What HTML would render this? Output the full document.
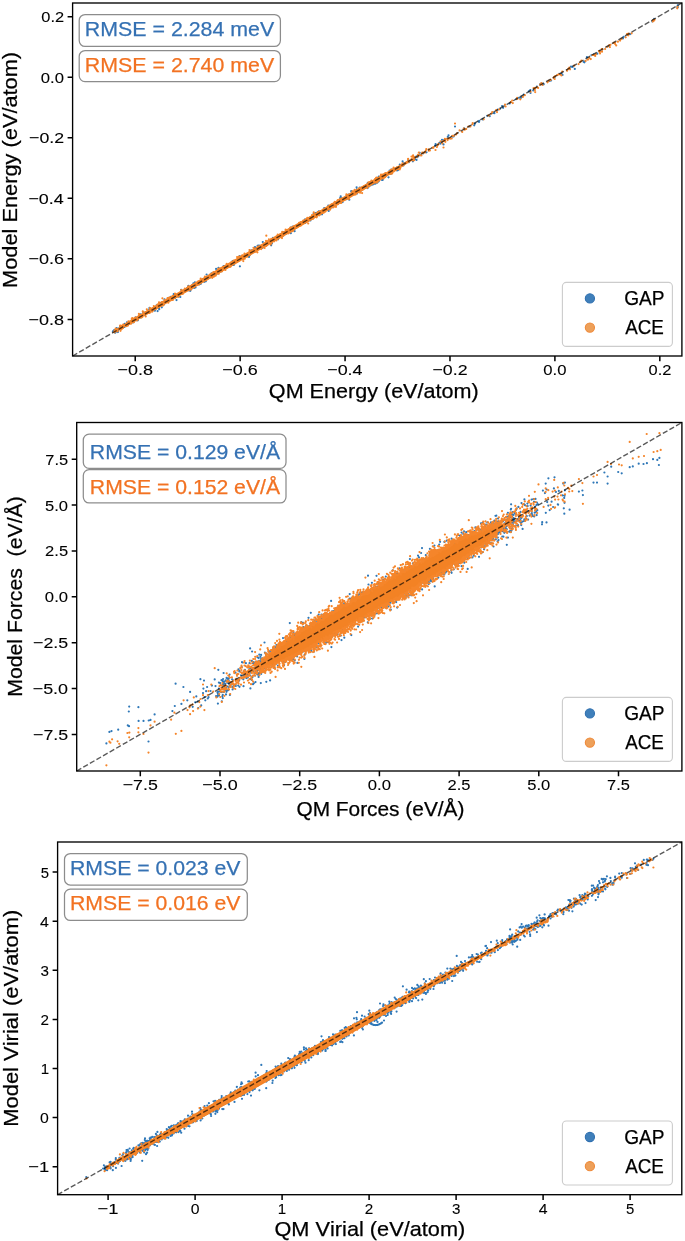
<!DOCTYPE html>
<html><head><meta charset="utf-8"><style>
html,body{margin:0;padding:0;background:#fff;width:685px;height:1241px;overflow:hidden}
svg{display:block;filter:blur(0.3px)}
text{font-family:"Liberation Sans",sans-serif;font-kerning:none;white-space:pre}
</style></head><body>
<svg width="685" height="1241" viewBox="0 0 685 1241">
<path d="M151.6 310.4h0.01M426.5 152.3h0.01M275.6 238.8h0.01M404.4 163.1h0.01M316.3 216.8h0.01M271.1 245.3h0.01M233.8 264.9h0.01M374.6 183.7h0.01M356.9 189.8h0.01M175.5 294.3h0.01M160.8 303.2h0.01M373.4 182.3h0.01M157.8 306.3h0.01M327.2 208.3h0.01M202.5 279.6h0.01M215.8 273.5h0.01M271.9 243.4h0.01M376.9 178.2h0.01M112.9 331.4h0.01M158.3 305.8h0.01M318.8 213.7h0.01M224.7 267.1h0.01M195.5 287.5h0.01M447.8 136.9h0.01M412.9 161.3h0.01M316.3 213.8h0.01M388.5 177.3h0.01M331.1 207.5h0.01M314.6 214.8h0.01M435.2 145.7h0.01M343.3 199.3h0.01M190.3 290.8h0.01M290.7 229.6h0.01M342.4 200.5h0.01M367.7 183.2h0.01M370.7 184.6h0.01M371.3 182.2h0.01M140.8 314.4h0.01M221.2 271.3h0.01M242.8 255.9h0.01M367.7 187.1h0.01M232.8 265.0h0.01M188.4 285.9h0.01M119.0 328.4h0.01M194.9 282.4h0.01M334.4 203.9h0.01M118.2 330.1h0.01M160.1 303.0h0.01M200.8 283.8h0.01M264.8 244.3h0.01M216.9 270.8h0.01M364.5 187.1h0.01M171.9 299.2h0.01M273.0 237.9h0.01M334.4 204.5h0.01M378.5 177.5h0.01M361.0 190.6h0.01M151.5 310.1h0.01M338.2 201.6h0.01M305.2 222.9h0.01M232.6 261.0h0.01M120.0 327.3h0.01M161.8 307.3h0.01M325.9 209.0h0.01M137.8 320.3h0.01M203.7 281.1h0.01M186.8 289.2h0.01M324.0 209.3h0.01M215.9 273.3h0.01M402.5 164.8h0.01M219.0 270.1h0.01M204.9 277.3h0.01M317.7 212.2h0.01M203.4 279.7h0.01M311.4 218.9h0.01M267.2 244.8h0.01M367.6 183.8h0.01M321.5 213.0h0.01M228.1 265.1h0.01M251.9 250.4h0.01M247.9 254.9h0.01M360.8 190.3h0.01M153.5 310.2h0.01M234.4 263.6h0.01M264.4 245.7h0.01M237.0 261.9h0.01M282.9 233.9h0.01M255.0 247.1h0.01M231.0 263.1h0.01M308.0 219.9h0.01M206.7 277.3h0.01M286.2 233.5h0.01M320.3 213.8h0.01M150.2 310.7h0.01M205.8 281.3h0.01M381.8 175.7h0.01M386.5 175.0h0.01M395.5 168.6h0.01M124.6 323.9h0.01M348.3 197.4h0.01M378.1 177.7h0.01M370.4 185.4h0.01M316.7 213.1h0.01M304.3 221.3h0.01M318.0 212.8h0.01M276.1 237.4h0.01M338.8 202.2h0.01M256.3 248.0h0.01M408.8 162.2h0.01M140.2 314.7h0.01M371.5 181.6h0.01M328.8 209.6h0.01M163.9 304.5h0.01M347.5 198.2h0.01M197.8 283.3h0.01M294.6 231.2h0.01M216.1 268.9h0.01M174.6 295.8h0.01M163.1 301.8h0.01M133.5 321.8h0.01M133.7 320.3h0.01M133.0 322.4h0.01M138.0 318.8h0.01M350.4 194.9h0.01M260.2 245.9h0.01M149.2 309.5h0.01M262.9 247.5h0.01M266.4 244.5h0.01M254.4 251.5h0.01M171.0 297.7h0.01M238.1 260.5h0.01M362.3 188.7h0.01M418.3 156.0h0.01M258.0 245.8h0.01M378.2 179.4h0.01M179.8 293.3h0.01M319.2 213.5h0.01M250.1 253.0h0.01M337.2 204.2h0.01M215.1 273.1h0.01M267.1 244.3h0.01M218.5 267.8h0.01M359.4 188.4h0.01M372.2 184.6h0.01M292.7 226.6h0.01M391.6 170.8h0.01M321.2 213.1h0.01M348.5 194.5h0.01M368.5 186.4h0.01M192.0 285.3h0.01M448.5 135.3h0.01M224.7 266.0h0.01M255.1 248.0h0.01M163.7 302.5h0.01M346.9 196.9h0.01M210.1 277.3h0.01M309.9 217.5h0.01M176.5 300.1h0.01M212.3 274.3h0.01M221.9 269.0h0.01M180.7 293.9h0.01M399.7 166.6h0.01M332.2 204.8h0.01M383.2 176.3h0.01M177.3 296.3h0.01M159.0 306.4h0.01M212.4 276.5h0.01M399.8 164.7h0.01M299.2 224.3h0.01M416.5 159.9h0.01M272.1 239.5h0.01M371.2 184.2h0.01M357.1 191.9h0.01M375.6 183.0h0.01M378.8 176.7h0.01M281.4 234.6h0.01M256.6 249.0h0.01M124.9 325.5h0.01M402.6 161.3h0.01M262.0 246.0h0.01M356.6 187.3h0.01M235.2 261.6h0.01M114.7 330.8h0.01M173.7 298.2h0.01M328.3 205.6h0.01M159.2 309.2h0.01M409.0 160.7h0.01M193.4 283.4h0.01M286.9 230.7h0.01M352.0 193.6h0.01M176.1 296.4h0.01M282.9 235.0h0.01M262.8 242.0h0.01M239.6 258.3h0.01M277.9 238.2h0.01M344.7 198.9h0.01M175.0 297.2h0.01M255.0 248.3h0.01M140.6 317.5h0.01M259.0 245.6h0.01M340.3 202.6h0.01M397.0 170.4h0.01M249.0 256.9h0.01M197.8 284.2h0.01M278.1 238.4h0.01M218.2 270.2h0.01M146.9 312.2h0.01M262.3 247.8h0.01M341.0 201.0h0.01M368.1 185.7h0.01M391.5 169.6h0.01M417.4 157.2h0.01M184.0 291.8h0.01M144.8 312.7h0.01M238.4 259.8h0.01M342.6 202.1h0.01M179.4 293.9h0.01M354.9 192.3h0.01M315.4 213.0h0.01M170.2 298.2h0.01M292.6 228.1h0.01M442.0 139.8h0.01M377.8 178.2h0.01M159.0 308.2h0.01M346.5 195.9h0.01M334.7 204.3h0.01M182.3 293.4h0.01M197.9 283.4h0.01M385.5 173.9h0.01M216.1 272.5h0.01M194.3 285.4h0.01M318.8 211.4h0.01M151.4 309.9h0.01M423.2 153.3h0.01M416.2 156.6h0.01M267.6 244.0h0.01M283.8 232.3h0.01M295.9 226.6h0.01M420.4 155.1h0.01M365.1 187.7h0.01M350.3 194.7h0.01M378.7 181.3h0.01M239.9 266.3h0.01M322.0 214.3h0.01M236.2 260.2h0.01M192.0 286.1h0.01M297.7 225.7h0.01M382.0 180.0h0.01M341.2 201.5h0.01M194.4 284.7h0.01M178.4 296.6h0.01M333.1 205.2h0.01M314.0 215.3h0.01M358.6 191.1h0.01M155.3 308.2h0.01M357.5 192.2h0.01M236.2 260.3h0.01M191.5 287.8h0.01M211.0 276.7h0.01M394.7 169.6h0.01M384.2 175.2h0.01M135.8 317.3h0.01M204.2 281.8h0.01M316.6 214.3h0.01M123.1 327.0h0.01M124.8 325.7h0.01M126.8 324.7h0.01M444.1 140.2h0.01M207.7 277.5h0.01M204.4 281.0h0.01M341.1 202.1h0.01M203.8 281.1h0.01M323.5 211.4h0.01M218.0 273.6h0.01M197.8 283.0h0.01M223.6 266.1h0.01M162.0 305.2h0.01M133.9 319.5h0.01M359.9 187.7h0.01M360.1 190.6h0.01M244.4 256.9h0.01M310.0 219.9h0.01M359.0 190.1h0.01M223.8 268.3h0.01M316.0 215.7h0.01M328.7 211.0h0.01M135.6 318.3h0.01M152.2 309.4h0.01M327.1 209.6h0.01M313.6 213.8h0.01M164.5 299.3h0.01M349.3 199.7h0.01M340.0 198.1h0.01M414.8 158.9h0.01M209.7 275.0h0.01M403.1 163.6h0.01M239.7 256.1h0.01M143.3 312.7h0.01M268.1 244.1h0.01M290.8 227.6h0.01M278.7 237.5h0.01M134.4 320.8h0.01M290.8 233.2h0.01M328.1 208.0h0.01M154.9 310.7h0.01M282.7 235.8h0.01M439.4 142.9h0.01M168.4 297.8h0.01M372.9 184.5h0.01M389.6 170.6h0.01M315.1 214.7h0.01M360.5 190.4h0.01M191.1 289.2h0.01M303.0 221.8h0.01M375.7 180.1h0.01M400.3 166.3h0.01M346.5 199.2h0.01M180.3 297.0h0.01M341.5 198.0h0.01M295.8 228.1h0.01M340.7 196.3h0.01M227.3 266.3h0.01M419.7 152.8h0.01M375.6 183.5h0.01M133.1 320.7h0.01M156.6 305.4h0.01M389.9 171.8h0.01M373.1 181.4h0.01M154.5 308.3h0.01M389.9 172.2h0.01M189.2 289.5h0.01M367.6 188.1h0.01M369.9 184.7h0.01M120.2 326.4h0.01M116.7 328.1h0.01M206.1 277.3h0.01M377.4 180.9h0.01M337.6 201.8h0.01M222.9 267.6h0.01M356.4 191.6h0.01M202.2 279.5h0.01M211.5 273.4h0.01M167.6 301.6h0.01M386.2 174.3h0.01M342.2 199.6h0.01M244.4 256.7h0.01M187.4 287.9h0.01M389.1 172.6h0.01M226.0 266.3h0.01M173.2 298.4h0.01M234.1 262.5h0.01M318.6 212.4h0.01M332.9 205.2h0.01M145.1 315.2h0.01M382.8 179.8h0.01M305.1 219.7h0.01M131.1 322.3h0.01M350.7 194.4h0.01M388.1 173.9h0.01M351.2 191.2h0.01M115.2 332.7h0.01M249.6 255.3h0.01M281.9 234.6h0.01M366.6 185.6h0.01M255.7 250.2h0.01M136.7 320.0h0.01M377.3 182.6h0.01M382.9 178.5h0.01M250.8 250.6h0.01M127.7 323.8h0.01M351.8 192.5h0.01M324.2 208.0h0.01M390.8 173.9h0.01M116.0 331.7h0.01M237.9 259.1h0.01M194.2 288.0h0.01M143.7 313.0h0.01M435.6 144.1h0.01M209.1 277.1h0.01M123.6 326.0h0.01M150.9 309.9h0.01M440.4 143.6h0.01M284.2 233.1h0.01M407.8 161.4h0.01M311.3 217.7h0.01M149.5 307.9h0.01M304.8 219.7h0.01M299.1 225.6h0.01M114.2 330.1h0.01M257.6 245.9h0.01M319.6 214.8h0.01M328.3 207.2h0.01M313.4 216.8h0.01M443.5 144.4h0.01M328.3 209.1h0.01M375.5 183.6h0.01M229.8 266.4h0.01M122.8 327.6h0.01M165.0 302.2h0.01M195.8 283.6h0.01M400.3 165.1h0.01M403.4 165.5h0.01M259.8 247.7h0.01M184.4 290.4h0.01M195.1 286.5h0.01M323.5 209.6h0.01M357.0 193.6h0.01M359.2 190.8h0.01M217.8 271.2h0.01M315.3 215.7h0.01M442.1 142.1h0.01M157.6 311.1h0.01M170.8 296.8h0.01M297.0 226.1h0.01M189.0 290.4h0.01M167.3 301.6h0.01M416.7 156.5h0.01M117.9 332.1h0.01M237.9 258.6h0.01M126.9 322.4h0.01M182.1 292.8h0.01M173.7 294.2h0.01M206.6 274.5h0.01M148.2 312.8h0.01M246.6 256.0h0.01M310.4 220.4h0.01M210.4 275.8h0.01M376.7 180.3h0.01M356.6 189.6h0.01M199.2 284.5h0.01M124.5 326.9h0.01M332.4 207.2h0.01M181.2 289.8h0.01M207.7 278.8h0.01M278.1 239.3h0.01M398.0 170.1h0.01M197.0 284.1h0.01M246.5 255.2h0.01M291.9 228.7h0.01M308.2 220.9h0.01M583.6 61.8h0.01M586.9 57.2h0.01M597.3 53.7h0.01M567.1 70.2h0.01M622.9 38.4h0.01M519.0 97.8h0.01M533.2 90.4h0.01M503.1 107.8h0.01M452.5 136.6h0.01M530.5 93.0h0.01M540.4 83.9h0.01M653.0 20.2h0.01M457.3 133.0h0.01M479.2 120.9h0.01M500.1 108.7h0.01M523.8 94.7h0.01M487.2 115.8h0.01M516.3 99.1h0.01M502.1 106.0h0.01M469.5 126.4h0.01M608.7 46.1h0.01M561.4 73.4h0.01M629.1 33.9h0.01M559.1 73.8h0.01M562.5 74.9h0.01M652.9 21.0h0.01M596.9 53.7h0.01M534.1 88.9h0.01M599.5 50.9h0.01M677.7 5.4h0.01M584.7 61.7h0.01M571.0 66.6h0.01M522.4 96.5h0.01M652.5 21.2h0.01M492.9 113.1h0.01M530.3 90.0h0.01M536.9 86.7h0.01M489.7 116.2h0.01M497.7 109.7h0.01M677.8 7.3h0.01M549.5 81.0h0.01M465.7 129.0h0.01M652.3 21.5h0.01M574.8 68.9h0.01M602.2 49.5h0.01M543.7 84.3h0.01M623.7 36.8h0.01M584.4 62.3h0.01M593.8 54.3h0.01M475.1 123.6h0.01M541.9 83.7h0.01M677.4 7.1h0.01M572.6 66.9h0.01M509.7 103.4h0.01M654.1 18.8h0.01M474.2 125.3h0.01M464.1 128.4h0.01M521.9 96.7h0.01M478.6 121.4h0.01M551.1 80.5h0.01M528.8 91.3h0.01M453.6 136.4h0.01M494.4 113.2h0.01M479.0 121.9h0.01M482.8 119.4h0.01M630.1 34.1h0.01M554.6 77.5h0.01M591.5 55.2h0.01M520.8 97.9h0.01M482.8 119.2h0.01M455.0 126.5h0.01" stroke="#2f78b8" stroke-width="2.20" stroke-linecap="round" fill="none"/>
<path d="M112.1 332.4 L117.4 328.8 L122.6 325.3 L127.9 321.9 L133.1 318.8 L138.4 315.7 L143.6 312.5 L148.9 309.4 L154.1 306.2 L159.4 303.1 L164.6 300.0 L169.8 297.0 L175.1 293.9 L180.3 290.9 L185.6 287.9 L190.8 284.8 L196.1 281.8 L201.3 278.8 L206.6 275.7 L211.8 272.7 L217.1 269.6 L222.3 266.6 L227.5 263.6 L232.8 260.5 L238.0 257.5 L243.3 254.4 L248.5 251.4 L253.8 248.4 L259.0 245.4 L264.3 242.4 L269.5 239.4 L274.8 236.3 L280.0 233.3 L285.3 230.3 L290.5 227.3 L295.7 224.3 L301.0 221.2 L306.2 218.2 L311.5 215.2 L316.7 212.2 L322.0 209.2 L327.2 206.1 L332.5 203.1 L337.7 200.1 L343.0 197.1 L348.2 194.1 L353.5 191.1 L358.7 188.0 L363.9 185.0 L369.2 182.0 L374.4 179.0 L379.7 176.0 L384.9 172.9 L390.2 170.1 L395.4 167.4 L400.7 164.6 L405.9 161.9 L411.2 159.3 L416.4 156.6 L421.7 154.0 L421.7 154.3 L416.4 157.7 L411.2 161.2 L405.9 164.6 L400.7 167.9 L395.4 171.2 L390.2 174.5 L384.9 177.7 L379.7 180.8 L374.4 183.8 L369.2 186.8 L363.9 189.9 L358.7 192.9 L353.5 195.9 L348.2 199.0 L343.0 202.0 L337.7 205.0 L332.5 208.1 L327.2 211.1 L322.0 214.1 L316.7 217.2 L311.5 220.2 L306.2 223.2 L301.0 226.3 L295.7 229.3 L290.5 232.3 L285.3 235.4 L280.0 238.4 L274.8 241.4 L269.5 244.5 L264.3 247.5 L259.0 250.5 L253.8 253.6 L248.5 256.6 L243.3 259.6 L238.0 262.7 L232.8 265.7 L227.5 268.7 L222.3 271.7 L217.1 274.7 L211.8 277.7 L206.6 280.7 L201.3 283.8 L196.1 286.8 L190.8 289.8 L185.6 292.8 L180.3 295.8 L175.1 298.8 L169.8 301.8 L164.6 304.8 L159.4 307.8 L154.1 310.7 L148.9 313.6 L143.6 316.5 L138.4 319.5 L133.1 322.4 L127.9 325.3 L122.6 328.0 L117.4 330.5 L112.1 333.0Z" fill="#f38224"/>
<path d="M220.1 270.3h0.01M346.4 194.4h0.01M354.2 192.8h0.01M289.3 229.3h0.01M363.3 188.2h0.01M154.5 307.4h0.01M380.3 179.0h0.01M353.8 192.4h0.01M227.7 265.5h0.01M340.3 202.6h0.01M256.2 249.3h0.01M336.8 201.7h0.01M205.7 278.8h0.01M299.1 222.8h0.01M132.6 318.6h0.01M391.9 171.2h0.01M315.9 214.2h0.01M444.9 138.8h0.01M300.9 225.4h0.01M307.3 221.4h0.01M370.4 184.7h0.01M395.9 168.0h0.01M218.8 273.7h0.01M197.1 282.8h0.01M326.6 209.9h0.01M250.5 251.2h0.01M450.4 138.2h0.01M273.0 239.9h0.01M144.1 312.8h0.01M126.5 325.7h0.01M326.4 208.6h0.01M212.2 277.8h0.01M191.9 288.2h0.01M305.6 221.2h0.01M183.0 292.0h0.01M219.2 269.9h0.01M221.2 269.0h0.01M335.7 204.6h0.01M317.9 212.2h0.01M375.8 182.4h0.01M194.2 287.2h0.01M397.4 168.5h0.01M267.3 244.2h0.01M215.8 275.6h0.01M381.0 178.1h0.01M163.3 305.3h0.01M386.0 174.1h0.01M119.9 327.7h0.01M159.0 302.3h0.01M266.0 240.9h0.01M189.8 289.0h0.01M319.9 212.5h0.01M282.0 234.3h0.01M184.7 291.1h0.01M242.0 258.3h0.01M117.6 331.2h0.01M445.4 141.8h0.01M128.2 324.0h0.01M203.9 279.5h0.01M371.6 182.2h0.01M259.4 247.4h0.01M268.9 239.4h0.01M297.1 226.8h0.01M311.9 217.4h0.01M205.1 277.0h0.01M147.0 313.4h0.01M288.6 229.3h0.01M422.2 153.2h0.01M285.6 229.5h0.01M385.0 174.2h0.01M274.9 238.9h0.01M170.1 299.7h0.01M208.8 277.2h0.01M362.6 187.0h0.01M186.9 290.0h0.01M413.0 156.9h0.01M447.0 138.8h0.01M249.5 250.1h0.01M308.9 219.4h0.01M377.8 178.3h0.01M357.3 191.2h0.01M118.6 329.2h0.01M255.5 251.6h0.01M308.4 218.4h0.01M153.2 309.1h0.01M164.5 300.2h0.01M333.3 207.3h0.01M323.7 212.7h0.01M393.6 171.5h0.01M128.4 324.3h0.01M127.2 324.9h0.01M394.5 169.0h0.01M313.8 217.4h0.01M141.2 317.6h0.01M301.4 224.5h0.01M296.6 225.9h0.01M308.6 219.1h0.01M348.6 199.1h0.01M320.8 212.6h0.01M270.5 242.3h0.01M220.4 268.6h0.01M170.1 300.5h0.01M393.6 171.0h0.01M240.8 257.6h0.01M191.3 289.3h0.01M297.4 225.3h0.01M305.3 222.2h0.01M428.9 150.7h0.01M443.5 147.5h0.01M285.9 232.9h0.01M222.0 271.3h0.01M139.5 315.4h0.01M405.2 163.1h0.01M424.7 152.0h0.01M187.2 290.2h0.01M154.7 307.9h0.01M350.0 196.2h0.01M242.5 259.1h0.01M320.3 211.1h0.01M355.6 194.4h0.01M128.7 323.3h0.01M384.8 175.0h0.01M271.3 243.2h0.01M207.1 278.6h0.01M252.1 250.7h0.01M175.9 295.4h0.01M207.2 276.6h0.01M284.6 232.5h0.01M168.0 299.7h0.01M240.5 257.8h0.01M194.2 286.8h0.01M335.5 202.0h0.01M181.5 293.1h0.01M321.2 212.1h0.01M116.5 330.3h0.01M237.1 257.1h0.01M248.7 253.2h0.01M229.3 264.9h0.01M261.2 249.1h0.01M353.3 191.8h0.01M262.6 244.9h0.01M346.0 197.8h0.01M322.4 212.8h0.01M167.3 299.1h0.01M197.3 283.3h0.01M158.6 304.1h0.01M335.1 206.6h0.01M140.8 315.9h0.01M356.6 191.8h0.01M270.6 244.6h0.01M236.8 260.7h0.01M274.0 238.2h0.01M266.3 242.6h0.01M289.7 232.6h0.01M268.6 242.9h0.01M199.6 280.9h0.01M368.0 184.7h0.01M288.5 230.9h0.01M395.6 170.1h0.01M150.9 311.6h0.01M381.3 177.6h0.01M291.6 230.1h0.01M306.1 219.7h0.01M380.5 176.1h0.01M131.2 322.4h0.01M406.1 163.0h0.01M274.5 238.7h0.01M197.3 283.6h0.01M117.0 330.2h0.01M196.0 282.8h0.01M308.8 218.4h0.01M307.7 219.0h0.01M120.1 325.7h0.01M204.1 279.7h0.01M355.3 191.2h0.01M300.0 225.6h0.01M289.4 231.4h0.01M390.3 171.2h0.01M206.3 280.1h0.01M136.2 318.8h0.01M290.3 231.7h0.01M294.4 229.3h0.01M268.8 241.6h0.01M384.6 174.8h0.01M432.6 147.7h0.01M132.1 322.4h0.01M297.0 227.4h0.01M131.8 318.6h0.01M276.4 240.4h0.01M256.1 249.1h0.01M114.6 332.3h0.01M168.5 298.1h0.01M231.8 262.3h0.01M203.6 280.2h0.01M150.0 308.0h0.01M429.9 150.5h0.01M380.5 176.7h0.01M123.5 326.0h0.01M437.9 145.0h0.01M213.7 273.5h0.01M189.9 289.3h0.01M339.0 200.3h0.01M378.9 180.1h0.01M393.2 168.9h0.01M379.1 179.2h0.01M148.4 311.4h0.01M398.9 168.9h0.01M325.6 209.6h0.01M330.2 209.6h0.01M156.2 308.6h0.01M276.3 238.9h0.01M296.6 226.0h0.01M221.4 268.2h0.01M161.1 304.2h0.01M210.0 276.6h0.01M193.6 286.5h0.01M115.7 331.1h0.01M190.4 286.5h0.01M185.3 291.4h0.01M433.5 147.0h0.01M293.9 226.3h0.01M306.1 220.2h0.01M196.4 284.7h0.01M282.0 235.5h0.01M148.5 312.1h0.01M329.9 206.5h0.01M379.8 178.6h0.01M330.2 206.4h0.01M435.5 150.0h0.01M277.9 238.5h0.01M329.7 206.4h0.01M244.5 253.6h0.01M186.5 290.1h0.01M335.1 205.7h0.01M261.0 247.2h0.01M375.7 182.0h0.01M281.3 235.1h0.01M265.2 245.7h0.01M123.7 325.5h0.01M175.6 294.8h0.01M317.9 212.3h0.01M238.0 258.9h0.01M376.1 177.8h0.01M288.2 232.2h0.01M189.8 288.6h0.01M183.8 291.8h0.01M195.8 283.5h0.01M174.5 297.7h0.01M265.0 243.8h0.01M136.6 320.4h0.01M276.5 238.6h0.01M234.5 260.8h0.01M362.2 187.7h0.01M365.5 186.8h0.01M197.5 285.0h0.01M166.9 299.8h0.01M232.9 262.2h0.01M257.4 252.3h0.01M315.0 216.7h0.01M388.2 174.0h0.01M367.1 187.8h0.01M226.6 267.6h0.01M268.6 241.4h0.01M277.7 234.5h0.01M363.4 189.0h0.01M402.4 163.4h0.01M344.5 199.2h0.01M188.0 286.5h0.01M143.7 313.8h0.01M391.5 171.3h0.01M211.7 273.5h0.01M326.5 208.7h0.01M216.7 271.4h0.01M195.4 284.6h0.01M267.4 241.3h0.01M180.5 293.5h0.01M182.5 293.8h0.01M127.9 325.6h0.01M316.6 217.3h0.01M374.8 181.5h0.01M114.7 330.7h0.01M194.6 285.2h0.01M360.3 190.4h0.01M284.8 233.9h0.01M149.6 312.9h0.01M182.5 291.8h0.01M172.3 297.8h0.01M123.2 324.6h0.01M149.8 310.5h0.01M148.8 312.9h0.01M257.1 249.5h0.01M332.6 207.1h0.01M261.0 247.5h0.01M299.8 225.7h0.01M364.3 186.1h0.01M335.5 204.7h0.01M142.3 316.6h0.01M121.4 329.2h0.01M377.8 181.4h0.01M187.4 288.7h0.01M358.7 188.6h0.01M406.6 162.0h0.01M362.5 189.6h0.01M239.7 258.6h0.01M120.9 325.6h0.01M393.8 168.2h0.01M147.4 311.2h0.01M120.2 329.1h0.01M341.3 199.7h0.01M205.6 277.8h0.01M122.2 328.4h0.01M117.2 331.3h0.01M230.7 266.5h0.01M143.5 313.8h0.01M213.4 272.1h0.01M308.8 220.0h0.01M383.6 178.4h0.01M196.1 283.5h0.01M275.7 237.3h0.01M313.7 212.4h0.01M338.1 204.1h0.01M254.3 250.9h0.01M337.8 200.1h0.01M244.2 256.3h0.01M323.7 209.4h0.01M292.9 228.8h0.01M244.8 258.7h0.01M360.8 188.3h0.01M201.7 281.0h0.01M215.2 272.7h0.01M250.1 252.1h0.01M130.9 322.6h0.01M281.6 237.1h0.01M120.3 328.7h0.01M358.8 189.4h0.01M211.7 275.6h0.01M364.8 186.7h0.01M156.1 308.6h0.01M315.1 213.9h0.01M280.6 236.2h0.01M274.1 241.3h0.01M370.5 183.4h0.01M137.9 319.1h0.01M373.9 181.6h0.01M192.7 286.2h0.01M185.6 289.5h0.01M308.2 223.5h0.01M230.3 265.9h0.01M152.3 311.6h0.01M271.0 242.1h0.01M362.8 187.1h0.01M115.8 329.7h0.01M226.9 265.9h0.01M164.7 300.5h0.01M315.5 214.7h0.01M335.9 204.1h0.01M153.8 306.1h0.01M353.2 192.4h0.01M202.1 280.7h0.01M325.3 209.0h0.01M150.2 310.9h0.01M423.1 152.8h0.01M297.9 226.8h0.01M253.5 247.8h0.01M433.4 147.8h0.01M333.8 203.0h0.01M377.0 178.9h0.01M296.8 225.5h0.01M162.4 298.3h0.01M330.6 204.9h0.01M233.7 260.7h0.01M313.0 218.8h0.01M310.0 218.9h0.01M365.3 186.6h0.01M280.6 236.2h0.01M179.0 295.8h0.01M229.1 265.7h0.01M290.4 227.6h0.01M275.7 238.2h0.01M168.0 300.4h0.01M347.8 195.4h0.01M279.1 235.7h0.01M277.3 238.3h0.01M172.8 298.8h0.01M252.4 250.3h0.01M189.4 288.8h0.01M208.7 277.3h0.01M210.3 274.3h0.01M286.0 232.4h0.01M219.4 269.2h0.01M445.1 139.7h0.01M327.6 209.3h0.01M391.2 169.7h0.01M286.9 230.1h0.01M421.4 155.5h0.01M417.9 154.9h0.01M123.0 325.7h0.01M312.9 216.3h0.01M202.2 280.1h0.01M119.5 328.9h0.01M372.8 181.8h0.01M180.6 292.3h0.01M140.2 316.2h0.01M323.0 212.5h0.01M333.0 206.8h0.01M333.2 205.5h0.01M287.4 232.7h0.01M398.2 168.2h0.01M425.8 150.5h0.01M385.6 176.5h0.01M243.3 261.1h0.01M197.1 283.9h0.01M426.3 149.1h0.01M293.0 230.3h0.01M199.3 284.1h0.01M332.8 204.9h0.01M352.4 191.4h0.01M119.6 328.0h0.01M142.1 315.2h0.01M255.4 249.6h0.01M400.5 165.7h0.01M169.2 301.2h0.01M443.1 141.1h0.01M397.1 168.9h0.01M353.0 191.4h0.01M159.9 303.8h0.01M341.6 200.2h0.01M278.1 235.5h0.01M396.3 169.0h0.01M193.6 285.7h0.01M444.7 141.1h0.01M117.3 329.0h0.01M176.0 296.5h0.01M369.7 182.0h0.01M259.3 247.9h0.01M172.8 299.9h0.01M313.5 216.8h0.01M413.1 160.4h0.01M279.6 235.9h0.01M231.5 263.6h0.01M135.9 319.0h0.01M131.0 323.7h0.01M372.5 181.9h0.01M360.0 188.2h0.01M241.7 257.6h0.01M183.1 293.6h0.01M150.8 311.4h0.01M385.3 173.1h0.01M267.4 244.0h0.01M397.8 167.9h0.01M291.3 229.2h0.01M329.0 207.2h0.01M200.1 282.9h0.01M392.2 171.3h0.01M130.7 322.4h0.01M145.7 316.4h0.01M285.0 233.1h0.01M422.2 152.6h0.01M218.0 270.3h0.01M311.7 216.9h0.01M376.5 177.6h0.01M356.9 192.4h0.01M319.3 215.3h0.01M195.8 283.8h0.01M413.1 155.4h0.01M163.7 301.9h0.01M363.0 187.6h0.01M306.7 218.8h0.01M278.4 237.6h0.01M133.9 322.2h0.01M354.9 194.6h0.01M154.8 309.0h0.01M257.4 248.2h0.01M379.4 180.2h0.01M214.8 275.7h0.01M244.1 256.0h0.01M382.2 177.5h0.01M197.2 283.3h0.01M241.7 257.1h0.01M222.0 268.0h0.01M229.1 264.2h0.01M419.8 155.2h0.01M395.6 169.9h0.01M438.6 143.9h0.01M400.1 168.5h0.01M285.9 231.3h0.01M115.6 328.5h0.01M135.3 317.7h0.01M279.8 237.0h0.01M288.7 229.6h0.01M161.6 302.0h0.01M227.9 267.2h0.01M215.4 274.8h0.01M313.1 216.9h0.01M232.5 264.1h0.01M222.7 267.2h0.01M348.9 198.8h0.01M301.5 222.7h0.01M144.8 314.2h0.01M267.3 243.3h0.01M175.9 294.9h0.01M190.3 286.8h0.01M288.1 233.4h0.01M358.9 189.1h0.01M215.4 273.1h0.01M261.2 247.9h0.01M134.6 318.0h0.01M332.9 205.3h0.01M162.1 303.5h0.01M227.1 267.5h0.01M411.5 156.6h0.01M261.3 246.5h0.01M198.9 281.9h0.01M247.1 256.7h0.01M238.6 259.7h0.01M287.8 230.8h0.01M308.6 220.2h0.01M263.7 245.7h0.01M325.4 211.6h0.01M369.1 186.3h0.01M242.7 258.0h0.01M122.0 326.0h0.01M332.4 206.7h0.01M243.9 257.2h0.01M336.5 204.2h0.01M356.9 192.5h0.01M401.5 165.9h0.01M227.0 266.2h0.01M323.0 210.5h0.01M241.6 256.7h0.01M242.0 256.9h0.01M250.2 254.5h0.01M394.3 169.6h0.01M181.8 292.9h0.01M159.1 304.6h0.01M332.0 204.1h0.01M351.0 193.9h0.01M399.7 168.8h0.01M287.5 231.4h0.01M356.4 190.6h0.01M317.0 215.2h0.01M154.9 307.3h0.01M161.6 303.7h0.01M240.4 256.9h0.01M219.6 268.6h0.01M161.3 305.0h0.01M425.0 152.6h0.01M166.5 301.0h0.01M134.8 320.4h0.01M252.4 251.1h0.01M380.8 178.0h0.01M156.9 305.9h0.01M170.1 298.4h0.01M257.7 247.3h0.01M383.8 177.8h0.01M241.2 258.9h0.01M172.5 296.2h0.01M276.7 237.4h0.01M205.1 279.3h0.01M145.7 312.2h0.01M292.9 229.8h0.01M236.4 259.8h0.01M384.6 174.9h0.01M221.5 268.7h0.01M157.5 304.6h0.01M204.9 276.7h0.01M249.0 252.5h0.01M194.4 286.1h0.01M233.1 263.4h0.01M313.5 216.9h0.01M330.9 205.8h0.01M281.9 234.5h0.01M250.9 253.1h0.01M145.2 313.7h0.01M303.3 220.5h0.01M180.0 293.2h0.01M323.7 209.9h0.01M385.1 177.2h0.01M357.0 191.2h0.01M191.8 285.9h0.01M245.0 257.2h0.01M241.3 258.6h0.01M331.1 207.1h0.01M232.1 262.3h0.01M213.8 276.7h0.01M280.4 235.6h0.01M275.3 238.8h0.01M352.9 193.4h0.01M377.5 180.0h0.01M356.0 191.4h0.01M394.0 169.3h0.01M275.9 239.3h0.01M418.8 152.6h0.01M314.0 214.5h0.01M360.4 189.1h0.01M316.6 215.0h0.01M277.0 239.2h0.01M159.5 306.1h0.01M320.4 213.3h0.01M372.2 181.9h0.01M243.0 259.2h0.01M360.6 190.8h0.01M282.0 238.1h0.01M188.7 286.6h0.01M392.2 173.5h0.01M325.3 209.9h0.01M391.9 170.3h0.01M287.3 232.2h0.01M324.8 210.3h0.01M191.8 286.7h0.01M263.9 243.5h0.01M222.0 268.6h0.01M307.3 217.9h0.01M382.4 177.6h0.01M271.3 238.8h0.01M114.4 331.3h0.01M203.7 279.8h0.01M267.3 244.9h0.01M338.5 201.0h0.01M280.4 234.3h0.01M169.9 297.4h0.01M286.0 232.6h0.01M362.1 193.1h0.01M262.3 245.1h0.01M353.5 192.7h0.01M266.3 246.0h0.01M129.9 322.7h0.01M390.5 174.0h0.01M124.7 325.2h0.01M192.1 287.0h0.01M298.4 225.6h0.01M345.7 197.1h0.01M175.2 297.2h0.01M360.9 187.9h0.01M312.6 217.4h0.01M138.9 313.9h0.01M239.0 256.6h0.01M366.4 186.1h0.01M240.8 258.7h0.01M360.1 192.7h0.01M172.8 296.8h0.01M361.4 189.6h0.01M312.0 215.2h0.01M120.5 330.8h0.01M142.8 311.4h0.01M322.5 213.0h0.01M351.6 193.9h0.01M218.3 268.8h0.01M411.6 159.1h0.01M389.2 173.3h0.01M353.8 192.8h0.01M396.9 167.4h0.01M162.7 303.4h0.01M257.3 248.9h0.01M142.0 317.2h0.01M306.0 221.4h0.01M229.8 264.7h0.01M137.4 317.0h0.01M157.0 306.9h0.01M372.6 182.4h0.01M362.1 188.4h0.01M384.3 173.9h0.01M368.2 185.0h0.01M265.4 243.1h0.01M260.3 248.1h0.01M279.9 236.0h0.01M330.8 205.8h0.01M408.1 159.8h0.01M239.3 260.4h0.01M225.7 265.6h0.01M337.9 201.8h0.01M126.0 324.2h0.01M294.4 227.4h0.01M139.0 316.6h0.01M267.2 242.3h0.01M175.0 293.6h0.01M390.7 172.9h0.01M151.9 309.3h0.01M414.4 157.6h0.01M408.1 158.8h0.01M187.1 288.6h0.01M306.1 221.5h0.01M132.5 322.0h0.01M289.9 228.8h0.01M260.7 246.5h0.01M128.0 324.9h0.01M381.0 174.6h0.01M250.0 251.9h0.01M129.5 323.8h0.01M267.8 244.3h0.01M223.9 266.9h0.01M143.6 313.2h0.01M335.1 205.8h0.01M365.8 185.9h0.01M312.2 217.5h0.01M242.2 255.4h0.01M348.4 197.7h0.01M120.0 328.7h0.01M175.0 298.2h0.01M278.5 235.0h0.01M408.2 161.4h0.01M300.6 222.1h0.01M250.3 250.9h0.01M440.6 141.4h0.01M392.7 170.9h0.01M128.4 321.4h0.01M322.3 210.9h0.01M130.5 321.0h0.01M266.9 244.3h0.01M213.2 274.3h0.01M247.5 254.5h0.01M324.0 211.1h0.01M114.7 330.6h0.01M293.5 229.1h0.01M361.7 187.5h0.01M366.1 185.0h0.01M258.1 246.7h0.01M298.0 225.5h0.01M157.1 306.7h0.01M171.5 300.1h0.01M391.2 170.8h0.01M123.0 327.9h0.01M371.4 180.7h0.01M188.9 287.9h0.01M264.6 247.9h0.01M180.0 292.8h0.01M138.7 315.9h0.01M359.3 188.8h0.01M292.7 231.2h0.01M362.6 189.7h0.01M291.8 227.6h0.01M317.9 213.3h0.01M146.8 309.3h0.01M397.6 167.4h0.01M137.7 319.6h0.01M354.6 189.9h0.01M400.1 168.3h0.01M140.8 316.8h0.01M142.3 316.9h0.01M131.3 320.6h0.01M206.8 277.9h0.01M283.3 235.7h0.01M373.9 182.3h0.01M161.1 305.0h0.01M126.8 323.4h0.01M448.3 138.5h0.01M152.2 308.3h0.01M324.1 211.0h0.01M377.4 179.7h0.01M229.5 264.4h0.01M393.6 167.5h0.01M412.8 156.6h0.01M160.4 304.9h0.01M442.3 143.4h0.01M300.6 223.1h0.01M199.8 281.7h0.01M123.9 325.5h0.01M414.1 160.2h0.01M290.6 231.7h0.01M275.2 238.8h0.01M191.8 287.0h0.01M232.4 262.5h0.01M209.0 277.0h0.01M135.0 319.1h0.01M295.2 227.0h0.01M266.3 235.7h0.01M359.7 191.0h0.01M342.4 199.4h0.01M226.7 263.8h0.01M331.5 206.1h0.01M290.0 228.3h0.01M373.5 182.4h0.01M178.3 296.6h0.01M413.6 159.6h0.01M249.9 252.8h0.01M153.1 308.6h0.01M276.7 236.4h0.01M225.4 270.0h0.01M436.9 147.0h0.01M341.2 198.6h0.01M141.2 314.8h0.01M396.2 169.2h0.01M336.9 203.7h0.01M437.7 145.3h0.01M182.8 292.9h0.01M184.8 288.7h0.01M362.7 187.0h0.01M127.7 325.6h0.01M148.2 312.6h0.01M428.8 149.4h0.01M180.3 293.1h0.01M259.8 247.7h0.01M264.1 245.5h0.01M226.5 265.4h0.01M339.6 199.4h0.01M170.1 299.9h0.01M328.4 206.6h0.01M230.0 266.8h0.01M368.4 182.3h0.01M158.5 305.9h0.01M177.8 296.0h0.01M206.3 280.1h0.01M171.6 298.0h0.01M200.7 278.5h0.01M222.8 268.9h0.01M334.7 201.9h0.01M310.9 217.6h0.01M336.4 204.7h0.01M269.8 242.9h0.01M195.8 284.5h0.01M154.8 308.8h0.01M447.6 140.1h0.01M291.0 228.8h0.01M173.0 297.2h0.01M199.2 283.3h0.01M275.7 239.0h0.01M244.7 257.5h0.01M124.8 325.3h0.01M201.3 281.9h0.01M276.6 239.6h0.01M344.7 199.9h0.01M168.3 302.7h0.01M179.9 294.1h0.01M232.0 262.4h0.01M195.7 283.8h0.01M349.2 194.5h0.01M270.7 241.6h0.01M176.2 295.5h0.01M253.2 249.9h0.01M261.2 247.6h0.01M189.4 290.2h0.01M282.2 231.9h0.01M333.1 206.7h0.01M174.9 296.8h0.01M198.0 281.5h0.01M156.8 306.0h0.01M203.9 279.4h0.01M336.0 206.8h0.01M324.7 210.2h0.01M376.9 182.4h0.01M223.8 267.5h0.01M140.9 317.3h0.01M161.7 305.6h0.01M259.2 246.9h0.01M144.6 313.2h0.01M312.0 217.7h0.01M414.1 156.9h0.01M248.6 253.9h0.01M230.9 262.7h0.01M416.9 156.8h0.01M351.9 195.0h0.01M123.5 326.5h0.01M362.5 188.6h0.01M401.5 165.0h0.01M148.2 311.0h0.01M169.2 298.9h0.01M357.2 190.3h0.01M391.3 171.0h0.01M406.0 162.6h0.01M269.6 242.7h0.01M282.7 233.7h0.01M167.6 298.0h0.01M320.5 213.9h0.01M242.8 255.7h0.01M181.3 290.0h0.01M182.6 290.9h0.01M291.9 229.1h0.01M122.6 326.1h0.01M343.8 198.9h0.01M341.1 203.0h0.01M268.6 240.8h0.01M399.7 169.4h0.01M311.2 218.1h0.01M219.9 270.0h0.01M132.3 318.0h0.01M202.0 280.5h0.01M225.7 268.2h0.01M147.4 310.6h0.01M382.5 174.7h0.01M234.8 260.5h0.01M344.9 199.4h0.01M283.4 234.1h0.01M220.3 271.5h0.01M258.6 247.4h0.01M257.3 250.1h0.01M220.7 268.3h0.01M146.0 313.2h0.01M350.8 196.3h0.01M256.5 249.2h0.01M257.0 250.0h0.01M241.0 256.5h0.01M232.2 262.0h0.01M373.7 180.9h0.01M375.0 179.1h0.01M323.3 210.2h0.01M126.1 326.2h0.01M222.6 268.6h0.01M307.8 219.7h0.01M271.1 243.6h0.01M344.3 199.0h0.01M569.4 67.6h0.01M653.6 20.1h0.01M450.2 138.7h0.01M652.9 20.3h0.01M561.4 75.4h0.01M609.9 47.1h0.01M512.2 100.5h0.01M560.1 74.3h0.01M616.2 45.4h0.01M614.7 42.8h0.01M605.1 49.0h0.01M567.1 70.7h0.01M558.6 74.4h0.01M580.5 62.1h0.01M524.8 95.2h0.01M587.4 59.6h0.01M453.7 135.9h0.01M620.1 40.6h0.01M580.7 61.6h0.01M452.4 135.8h0.01M578.6 64.1h0.01M554.0 77.2h0.01M562.2 71.5h0.01M568.3 68.8h0.01M472.7 123.1h0.01M457.0 133.3h0.01M488.1 115.5h0.01M464.7 129.7h0.01M488.9 115.6h0.01M581.4 60.6h0.01M510.8 102.2h0.01M554.7 79.0h0.01M496.2 110.0h0.01M607.2 46.8h0.01M462.2 131.9h0.01M550.6 79.9h0.01M548.7 80.8h0.01M592.5 55.0h0.01M610.5 44.8h0.01M585.6 61.0h0.01M470.4 126.5h0.01M589.3 57.8h0.01M537.2 87.4h0.01M497.0 112.1h0.01M588.2 59.5h0.01M595.9 54.1h0.01M653.9 19.9h0.01M601.7 49.1h0.01M600.0 53.5h0.01M590.8 59.1h0.01M574.2 65.7h0.01M553.7 78.1h0.01M541.4 83.1h0.01M535.2 92.1h0.01M520.3 99.3h0.01M505.6 106.5h0.01M483.7 119.3h0.01M468.4 126.5h0.01M472.5 124.2h0.01M615.1 42.6h0.01M615.0 43.8h0.01M538.1 87.9h0.01M617.9 41.7h0.01M599.7 52.2h0.01M535.1 87.8h0.01M621.4 38.9h0.01M510.7 102.2h0.01M557.3 75.1h0.01M625.7 37.3h0.01M492.2 112.2h0.01M602.0 51.7h0.01M517.3 99.0h0.01M517.1 97.9h0.01M602.2 49.4h0.01M505.0 104.5h0.01M522.8 96.9h0.01M530.5 91.7h0.01M499.2 109.3h0.01M677.2 8.3h0.01M627.9 35.0h0.01M451.7 138.5h0.01M533.6 88.1h0.01M555.2 76.1h0.01M542.5 85.0h0.01M652.8 21.5h0.01M456.0 134.6h0.01M570.0 69.3h0.01M677.6 6.8h0.01M512.8 103.1h0.01M466.2 128.9h0.01M534.9 90.1h0.01M654.5 19.7h0.01M491.3 113.6h0.01M540.1 84.5h0.01M541.9 83.5h0.01M628.3 35.3h0.01M598.9 51.0h0.01M547.5 82.3h0.01M534.5 88.4h0.01M627.0 34.1h0.01M631.6 33.3h0.01M609.1 45.3h0.01M595.2 55.9h0.01M600.0 51.7h0.01M628.4 33.7h0.01M594.1 55.0h0.01M463.7 128.6h0.01M459.6 130.4h0.01M613.6 42.9h0.01M654.2 20.5h0.01M455.0 123.5h0.01" stroke="#f5852a" stroke-width="2.20" stroke-linecap="round" fill="none"/>
<line x1="72.60" y1="356.00" x2="681.90" y2="3.00" stroke="#000" stroke-opacity="0.65" stroke-width="1.39" stroke-dasharray="5.3 2.3"/>
<rect x="72.60" y="3.00" width="609.30" height="353.00" fill="none" stroke="#000" stroke-width="1.35"/>
<path d="M135.22 356.00v5.2M72.60 319.38h-5.0M240.14 356.00v5.2M72.60 258.86h-5.0M345.06 356.00v5.2M72.60 198.34h-5.0M449.98 356.00v5.2M72.60 137.82h-5.0M554.90 356.00v5.2M72.60 77.30h-5.0M659.82 356.00v5.2M72.60 16.78h-5.0" stroke="#000" stroke-width="1.5" fill="none"/>
<text x="117.43" y="374.80" font-size="15.30" textLength="35.48" lengthAdjust="spacingAndGlyphs" fill="#000" stroke="#000" stroke-width="0.1">−0.8</text>
<text x="28.60" y="324.83" font-size="15.30" textLength="35.48" lengthAdjust="spacingAndGlyphs" fill="#000" stroke="#000" stroke-width="0.1">−0.8</text>
<text x="222.31" y="374.80" font-size="15.30" textLength="35.57" lengthAdjust="spacingAndGlyphs" fill="#000" stroke="#000" stroke-width="0.1">−0.6</text>
<text x="28.52" y="264.31" font-size="15.30" textLength="35.57" lengthAdjust="spacingAndGlyphs" fill="#000" stroke="#000" stroke-width="0.1">−0.6</text>
<text x="327.18" y="374.80" font-size="15.30" textLength="35.40" lengthAdjust="spacingAndGlyphs" fill="#000" stroke="#000" stroke-width="0.1">−0.4</text>
<text x="28.42" y="203.79" font-size="15.30" textLength="35.40" lengthAdjust="spacingAndGlyphs" fill="#000" stroke="#000" stroke-width="0.1">−0.4</text>
<text x="432.44" y="374.80" font-size="15.30" textLength="35.11" lengthAdjust="spacingAndGlyphs" fill="#000" stroke="#000" stroke-width="0.1">−0.2</text>
<text x="29.09" y="143.27" font-size="15.30" textLength="35.11" lengthAdjust="spacingAndGlyphs" fill="#000" stroke="#000" stroke-width="0.1">−0.2</text>
<text x="543.31" y="374.80" font-size="15.30" textLength="23.17" lengthAdjust="spacingAndGlyphs" fill="#000" stroke="#000" stroke-width="0.1">0.0</text>
<text x="40.78" y="82.75" font-size="15.30" textLength="23.17" lengthAdjust="spacingAndGlyphs" fill="#000" stroke="#000" stroke-width="0.1">0.0</text>
<text x="648.50" y="374.80" font-size="15.30" textLength="22.83" lengthAdjust="spacingAndGlyphs" fill="#000" stroke="#000" stroke-width="0.1">0.2</text>
<text x="41.29" y="22.23" font-size="15.30" textLength="22.83" lengthAdjust="spacingAndGlyphs" fill="#000" stroke="#000" stroke-width="0.1">0.2</text>
<text x="268.88" y="397.80" font-size="21.00" textLength="209.77" lengthAdjust="spacingAndGlyphs" fill="#000" stroke="#000" stroke-width="0.25">QM Energy (eV/atom)</text>
<text transform="translate(17.10,287.89) rotate(-90)" x="0" y="0" font-size="21.00" textLength="236.03" lengthAdjust="spacingAndGlyphs" fill="#000" stroke="#000" stroke-width="0.25">Model Energy (eV/atom)</text>
<rect x="79.20" y="14.60" width="201.20" height="31.80" rx="5.8" fill="#fff" fill-opacity="0.5" stroke="#000" stroke-opacity="0.45" stroke-width="1.25"/>
<text x="84.85" y="35.60" font-size="21.00" textLength="189.35" lengthAdjust="spacingAndGlyphs" fill="#3571b3" stroke="#3571b3" stroke-width="0.25">RMSE = 2.284 meV</text>
<rect x="79.20" y="50.50" width="201.20" height="31.10" rx="5.8" fill="#fff" fill-opacity="0.5" stroke="#000" stroke-opacity="0.45" stroke-width="1.25"/>
<text x="84.85" y="71.50" font-size="21.00" textLength="189.35" lengthAdjust="spacingAndGlyphs" fill="#f27222" stroke="#f27222" stroke-width="0.25">RMSE = 2.740 meV</text>
<rect x="562.4" y="282.40" width="110" height="64" rx="3.9" fill="#fff" fill-opacity="0.8" stroke="#ccc" stroke-width="1.11"/>
<circle cx="589.9" cy="298.40" r="4.6" fill="#3f7fba" stroke="#3070b0" stroke-width="1.1"/>
<circle cx="589.9" cy="327.60" r="4.6" fill="#eda05a" stroke="#ef8a3a" stroke-width="1.1"/>
<text x="624.24" y="305.30" font-size="21.00" textLength="40.30" lengthAdjust="spacingAndGlyphs" fill="#000" stroke="#000" stroke-width="0.25">GAP</text>
<text x="625.16" y="334.10" font-size="21.00" textLength="38.60" lengthAdjust="spacingAndGlyphs" fill="#000" stroke="#000" stroke-width="0.25">ACE</text>
<path d="M315.1 621.1h0.01M324.3 616.5h0.01M462.4 558.8h0.01M269.2 666.3h0.01M407.2 590.7h0.01M439.5 549.8h0.01M293.4 659.2h0.01M260.6 670.3h0.01M318.7 643.5h0.01M422.1 589.4h0.01M396.6 598.8h0.01M285.4 661.2h0.01M360.9 617.5h0.01M424.2 561.0h0.01M358.7 594.8h0.01M414.3 588.4h0.01M504.8 528.9h0.01M429.8 580.7h0.01M349.7 594.1h0.01M295.0 635.5h0.01M337.5 630.3h0.01M383.0 605.4h0.01M484.8 542.5h0.01M454.6 543.1h0.01M331.4 647.1h0.01M493.1 536.8h0.01M372.1 611.4h0.01M430.0 552.2h0.01M274.8 668.1h0.01M273.7 647.0h0.01M301.6 652.1h0.01M483.7 545.7h0.01M426.7 578.8h0.01M472.4 557.4h0.01M419.0 557.4h0.01M352.3 620.5h0.01M382.9 583.9h0.01M404.8 593.4h0.01M477.0 548.4h0.01M363.0 597.2h0.01M485.6 526.1h0.01M409.6 590.9h0.01M467.7 568.9h0.01M378.7 582.9h0.01M429.9 556.9h0.01M336.3 630.7h0.01M385.0 579.1h0.01M303.5 651.5h0.01M269.9 665.1h0.01M255.9 672.9h0.01M432.9 578.9h0.01M367.1 592.1h0.01M486.0 540.9h0.01M468.7 555.5h0.01M349.6 598.5h0.01M507.5 525.2h0.01M404.9 592.6h0.01M451.6 544.4h0.01M354.9 600.8h0.01M298.1 634.5h0.01M290.2 655.6h0.01M293.7 634.0h0.01M408.4 572.0h0.01M276.4 645.1h0.01M250.3 668.2h0.01M468.7 554.9h0.01M273.2 665.1h0.01M366.0 594.1h0.01M377.9 608.5h0.01M410.9 589.5h0.01M381.3 585.3h0.01M497.2 521.5h0.01M446.6 568.7h0.01M399.6 568.4h0.01M411.3 569.4h0.01M378.9 607.0h0.01M504.3 532.8h0.01M307.3 630.6h0.01M430.4 554.5h0.01M395.3 601.3h0.01M255.6 663.2h0.01M324.7 617.8h0.01M494.1 534.9h0.01M455.3 563.4h0.01M250.1 648.4h0.01M325.4 615.7h0.01M247.6 673.4h0.01M467.9 555.4h0.01M275.9 663.9h0.01M260.5 668.5h0.01M509.1 531.6h0.01M365.3 592.0h0.01M331.1 600.9h0.01M257.4 662.7h0.01M351.1 598.6h0.01M344.2 605.2h0.01M385.7 607.5h0.01M247.7 675.0h0.01M285.5 640.8h0.01M301.4 622.1h0.01M362.9 617.6h0.01M326.6 618.4h0.01M409.2 568.5h0.01M321.5 614.6h0.01M487.9 540.5h0.01M502.8 520.6h0.01M262.4 669.2h0.01M301.7 632.1h0.01M396.3 598.0h0.01M451.6 572.8h0.01M262.2 658.3h0.01M293.5 632.4h0.01M369.5 593.6h0.01M423.8 559.5h0.01M485.9 524.6h0.01M478.1 529.7h0.01M458.3 561.4h0.01M259.1 673.7h0.01M505.6 520.7h0.01M408.7 568.4h0.01M270.1 680.4h0.01M313.7 643.9h0.01M411.1 568.8h0.01M350.6 601.4h0.01M364.6 593.9h0.01M460.0 535.8h0.01M466.7 537.0h0.01M392.3 600.4h0.01M459.3 562.7h0.01M352.7 596.8h0.01M506.8 544.8h0.01M405.9 594.9h0.01M505.1 527.7h0.01M256.6 670.3h0.01M481.4 547.3h0.01M394.6 598.8h0.01M437.4 550.4h0.01M298.7 653.4h0.01M392.4 598.6h0.01M322.7 618.0h0.01M273.2 649.2h0.01M246.9 675.9h0.01M487.3 522.4h0.01M428.7 584.0h0.01M300.2 630.8h0.01M316.3 646.8h0.01M370.3 615.1h0.01M463.3 534.0h0.01M275.4 650.2h0.01M504.2 519.7h0.01M497.6 524.6h0.01M310.8 612.8h0.01M415.9 563.7h0.01M344.3 637.7h0.01M434.4 545.6h0.01M267.0 664.6h0.01M371.8 592.2h0.01M404.3 574.8h0.01M412.9 563.4h0.01M430.8 579.7h0.01M485.3 529.0h0.01M310.6 649.4h0.01M285.3 657.6h0.01M351.3 635.1h0.01M397.3 596.9h0.01M504.6 523.4h0.01M434.8 555.9h0.01M440.9 568.2h0.01M506.1 528.4h0.01M318.4 622.4h0.01M315.5 619.4h0.01M358.8 596.8h0.01M323.7 616.2h0.01M420.8 562.8h0.01M498.5 540.0h0.01M287.4 640.7h0.01M383.0 580.4h0.01M426.3 558.2h0.01M376.2 587.1h0.01M489.2 526.3h0.01M444.3 574.5h0.01M480.5 530.4h0.01M275.6 650.2h0.01M297.1 656.5h0.01M264.1 671.8h0.01M466.2 532.2h0.01M503.3 528.3h0.01M250.1 675.5h0.01M459.1 563.2h0.01M439.2 575.1h0.01M487.8 543.5h0.01M317.8 621.2h0.01M438.3 577.6h0.01M308.0 648.3h0.01M266.6 658.0h0.01M444.4 541.9h0.01M255.7 670.1h0.01M431.2 576.7h0.01M321.5 621.0h0.01M377.0 613.3h0.01M484.1 549.3h0.01M308.5 617.8h0.01M370.3 590.6h0.01M341.5 640.1h0.01M297.3 634.6h0.01M372.5 618.6h0.01M295.6 634.0h0.01M458.1 541.9h0.01M408.8 595.6h0.01M323.7 614.9h0.01M506.7 529.2h0.01M337.7 631.9h0.01M424.7 581.6h0.01M439.2 544.6h0.01M317.3 621.5h0.01M246.5 672.9h0.01M482.5 552.3h0.01M501.5 520.5h0.01M292.5 659.1h0.01M286.2 642.3h0.01M361.7 592.5h0.01M405.0 566.8h0.01M510.7 522.2h0.01M501.7 527.8h0.01M512.1 526.1h0.01M310.2 647.1h0.01M406.4 596.2h0.01M360.1 618.3h0.01M309.2 626.2h0.01M263.4 659.5h0.01M292.7 640.9h0.01M340.8 635.6h0.01M270.1 651.0h0.01M285.6 642.5h0.01M257.3 674.5h0.01M413.6 566.0h0.01M376.5 575.8h0.01M311.4 650.9h0.01M388.4 602.5h0.01M360.9 619.3h0.01M423.0 582.8h0.01M495.5 515.8h0.01M339.1 629.7h0.01M419.7 566.0h0.01M303.4 628.7h0.01M498.4 525.4h0.01M410.5 566.5h0.01M288.0 657.6h0.01M314.3 626.4h0.01M288.7 638.8h0.01M293.0 637.6h0.01M327.8 637.1h0.01M465.3 556.5h0.01M368.4 591.6h0.01M320.0 643.1h0.01M358.1 626.6h0.01M316.2 620.1h0.01M442.3 548.8h0.01M261.2 673.8h0.01M323.5 639.8h0.01M332.1 611.3h0.01M293.1 637.1h0.01M443.9 570.7h0.01M293.0 654.2h0.01M326.2 642.6h0.01M258.5 661.8h0.01M448.3 566.3h0.01M343.6 609.6h0.01M420.2 585.0h0.01M304.2 649.9h0.01M250.9 671.7h0.01M333.2 611.4h0.01M454.8 564.2h0.01M468.4 535.2h0.01M338.7 611.6h0.01M470.5 531.8h0.01M258.6 676.9h0.01M385.8 576.6h0.01M315.2 620.8h0.01M362.9 594.0h0.01M304.6 654.8h0.01M484.9 531.2h0.01M325.8 638.5h0.01M498.9 522.1h0.01M275.8 664.0h0.01M360.8 594.3h0.01M365.1 617.3h0.01M434.7 586.4h0.01M337.4 607.5h0.01M377.7 586.5h0.01M266.4 658.6h0.01M329.8 614.6h0.01M441.4 572.7h0.01M273.9 650.8h0.01M370.6 618.5h0.01M307.2 646.1h0.01M290.3 639.1h0.01M275.9 647.2h0.01M464.7 558.0h0.01M429.9 548.8h0.01M348.3 604.3h0.01M350.8 624.0h0.01M440.1 573.0h0.01M406.5 571.8h0.01M491.0 543.2h0.01M493.2 538.8h0.01M375.3 613.6h0.01M421.5 563.1h0.01M390.8 609.7h0.01M327.9 614.8h0.01M366.7 613.0h0.01M438.5 573.1h0.01M393.0 577.6h0.01M414.9 588.4h0.01M374.3 609.7h0.01M502.3 536.5h0.01M453.7 563.4h0.01M282.1 643.5h0.01M463.8 560.5h0.01M491.0 522.3h0.01M464.3 562.7h0.01M337.6 634.2h0.01M343.4 628.5h0.01M310.3 649.4h0.01M262.4 668.8h0.01M372.9 589.8h0.01M472.7 534.9h0.01M451.9 564.7h0.01M422.0 548.1h0.01M473.8 555.6h0.01M421.0 563.2h0.01M306.2 625.3h0.01M460.6 540.0h0.01M344.0 608.1h0.01M483.1 528.1h0.01M332.7 614.1h0.01M269.4 651.9h0.01M440.1 541.8h0.01M274.8 650.6h0.01M481.1 529.8h0.01M355.5 598.7h0.01M455.4 561.9h0.01M259.6 662.7h0.01M390.4 602.7h0.01M428.1 581.5h0.01M280.9 646.9h0.01M409.6 567.1h0.01M283.9 665.2h0.01M327.1 639.2h0.01M342.5 608.1h0.01M411.2 595.3h0.01M282.1 647.3h0.01M292.7 657.6h0.01M455.1 564.3h0.01M438.7 553.6h0.01M368.0 575.7h0.01M321.9 618.4h0.01M430.6 559.2h0.01M372.0 615.6h0.01M330.1 634.8h0.01M479.7 545.0h0.01M301.3 632.5h0.01M460.4 559.7h0.01M408.5 594.1h0.01M418.5 562.7h0.01M428.1 580.4h0.01M445.1 568.7h0.01M481.0 523.4h0.01M491.5 524.6h0.01M312.1 623.3h0.01M290.7 637.9h0.01M485.6 543.0h0.01M302.8 631.0h0.01M305.0 630.1h0.01M461.6 566.2h0.01M502.7 531.2h0.01M472.7 531.8h0.01M382.8 579.5h0.01M346.7 607.9h0.01M511.2 522.4h0.01M443.4 552.0h0.01M413.2 588.3h0.01M247.7 674.3h0.01M298.6 635.5h0.01M250.3 671.0h0.01M489.9 528.3h0.01M308.8 628.2h0.01M291.2 655.7h0.01M403.3 593.8h0.01M299.3 653.5h0.01M392.7 570.4h0.01M499.6 524.1h0.01M475.4 527.4h0.01M310.1 647.7h0.01M491.3 527.7h0.01M352.7 601.7h0.01M386.1 607.0h0.01M332.2 633.8h0.01M512.8 521.2h0.01M328.0 642.2h0.01M442.8 573.7h0.01M409.9 559.0h0.01M429.6 555.5h0.01M275.1 651.5h0.01M388.5 606.4h0.01M513.1 522.5h0.01M396.2 602.1h0.01M299.0 633.4h0.01M258.7 673.2h0.01M332.6 636.1h0.01M445.6 572.6h0.01M251.5 671.1h0.01M258.5 670.0h0.01M421.1 553.0h0.01M482.6 545.5h0.01M363.3 592.1h0.01M412.8 594.0h0.01M313.4 625.1h0.01M316.9 643.0h0.01M371.9 582.8h0.01M305.0 648.7h0.01M367.8 622.3h0.01M285.8 644.5h0.01M492.5 537.3h0.01M418.0 555.6h0.01M271.9 665.5h0.01M297.4 662.9h0.01M468.1 555.7h0.01M344.3 606.4h0.01M314.5 642.8h0.01M252.4 677.3h0.01M427.1 560.8h0.01M397.2 607.6h0.01M470.8 535.1h0.01M289.8 623.1h0.01M448.2 545.6h0.01M467.7 558.2h0.01M468.5 536.1h0.01M446.9 549.3h0.01M363.3 594.2h0.01M258.4 662.2h0.01M417.6 584.3h0.01M252.5 668.3h0.01M269.3 655.4h0.01M355.1 622.5h0.01M277.9 665.5h0.01M365.2 617.0h0.01M474.0 551.5h0.01M292.1 654.9h0.01M459.9 561.5h0.01M513.7 520.8h0.01M255.5 671.7h0.01M359.5 593.4h0.01M434.4 553.8h0.01M442.4 571.0h0.01M320.4 621.5h0.01M461.6 532.6h0.01M344.7 629.4h0.01M297.8 635.1h0.01M383.5 580.2h0.01M409.1 568.5h0.01M469.9 557.5h0.01M423.2 559.5h0.01M267.1 666.1h0.01M399.3 596.3h0.01M335.5 608.6h0.01M434.4 552.9h0.01M258.1 661.4h0.01M422.3 559.4h0.01M458.5 562.1h0.01M256.0 669.8h0.01M249.5 663.2h0.01M483.9 547.0h0.01M484.8 542.0h0.01M292.9 655.7h0.01M493.9 521.5h0.01M352.7 624.8h0.01M384.0 606.6h0.01M371.9 590.5h0.01M334.2 611.1h0.01M482.7 522.9h0.01M407.6 594.8h0.01M494.9 526.0h0.01M410.4 590.8h0.01M493.4 522.7h0.01M382.7 607.1h0.01M373.3 590.2h0.01M398.2 574.1h0.01M246.1 672.3h0.01M450.6 565.3h0.01M283.0 638.1h0.01M498.2 532.3h0.01M257.1 671.2h0.01M434.8 551.7h0.01M451.3 570.3h0.01M391.4 600.9h0.01M270.5 663.8h0.01M463.2 539.1h0.01M330.2 614.6h0.01M323.5 640.0h0.01M431.2 554.7h0.01M505.4 520.4h0.01M270.9 665.4h0.01M360.6 621.1h0.01M425.9 581.2h0.01M319.4 642.1h0.01M491.8 523.5h0.01M406.5 594.7h0.01M266.3 656.3h0.01M287.1 658.2h0.01M284.1 661.0h0.01M367.0 614.2h0.01M490.1 543.6h0.01M275.5 663.3h0.01M286.8 641.0h0.01M304.4 658.9h0.01M397.0 573.5h0.01M360.2 620.4h0.01M357.5 619.5h0.01M283.6 661.5h0.01M467.2 536.6h0.01M373.5 609.8h0.01M479.0 556.8h0.01M254.3 667.7h0.01M368.5 584.5h0.01M344.1 603.3h0.01M471.6 535.5h0.01M431.3 581.2h0.01M386.4 605.6h0.01M289.1 640.9h0.01M429.3 583.2h0.01M485.8 544.7h0.01M453.8 569.3h0.01M502.9 521.3h0.01M403.9 593.3h0.01M329.9 637.3h0.01M303.5 627.1h0.01M458.2 534.8h0.01M462.6 560.8h0.01M415.8 563.8h0.01M453.3 542.4h0.01M376.0 587.1h0.01M474.5 531.2h0.01M431.3 581.1h0.01M310.5 627.9h0.01M403.3 593.9h0.01M420.6 582.2h0.01M300.4 652.2h0.01M496.5 534.2h0.01M460.0 539.2h0.01M284.9 644.4h0.01M305.3 631.5h0.01M245.0 673.4h0.01M497.9 534.1h0.01M291.9 655.1h0.01M467.5 538.3h0.01M381.5 607.3h0.01M259.9 672.1h0.01M302.7 631.2h0.01M314.0 651.6h0.01M449.8 546.8h0.01M342.7 629.7h0.01M283.5 659.9h0.01M497.7 522.7h0.01M382.6 607.9h0.01M263.9 667.5h0.01M506.7 526.0h0.01M425.8 582.7h0.01M363.6 620.5h0.01M285.1 662.1h0.01M431.2 576.6h0.01M272.7 665.1h0.01M498.4 523.9h0.01M446.7 540.7h0.01M435.3 552.9h0.01M451.6 538.7h0.01M478.2 528.1h0.01M372.2 612.0h0.01M464.0 531.3h0.01M276.1 648.5h0.01M432.5 554.2h0.01M446.9 571.1h0.01M303.2 622.9h0.01M275.6 649.5h0.01M491.9 540.3h0.01M483.2 542.5h0.01M273.7 662.3h0.01M405.3 570.3h0.01M294.7 660.5h0.01M300.9 633.6h0.01M495.8 539.3h0.01M425.2 585.9h0.01M451.5 572.6h0.01M318.7 614.6h0.01M453.7 544.8h0.01M425.8 555.2h0.01M336.3 633.5h0.01M376.6 587.0h0.01M312.0 623.4h0.01M406.6 596.7h0.01M246.4 678.1h0.01M235.4 684.9h0.01M225.3 683.9h0.01M234.0 685.6h0.01M220.2 683.1h0.01M217.3 696.7h0.01M222.1 688.5h0.01M217.5 692.2h0.01M259.6 660.9h0.01M219.0 695.5h0.01M231.9 684.6h0.01M260.9 661.3h0.01M228.7 687.1h0.01M245.0 672.5h0.01M260.4 673.0h0.01M238.4 669.3h0.01M254.0 662.5h0.01M253.0 684.2h0.01M227.4 682.8h0.01M260.7 668.3h0.01M251.1 668.9h0.01M225.8 687.6h0.01M260.8 683.1h0.01M259.3 654.7h0.01M263.0 668.2h0.01M249.6 673.3h0.01M256.2 669.3h0.01M224.6 681.5h0.01M262.3 659.0h0.01M222.3 696.3h0.01M243.3 679.3h0.01M235.5 672.6h0.01M248.3 672.8h0.01M266.5 653.5h0.01M266.3 681.8h0.01M229.6 686.1h0.01M257.5 657.2h0.01M257.7 674.3h0.01M218.2 694.7h0.01M259.8 668.0h0.01M244.5 676.7h0.01M243.8 671.9h0.01M228.9 682.8h0.01M242.3 662.5h0.01M239.5 686.8h0.01M217.9 703.6h0.01M224.3 689.7h0.01M262.2 668.5h0.01M229.6 674.6h0.01M261.0 662.0h0.01M241.8 667.0h0.01M253.7 662.0h0.01M217.8 693.5h0.01M222.8 698.1h0.01M218.9 688.5h0.01M250.4 688.4h0.01M235.8 686.0h0.01M223.6 673.0h0.01M258.4 664.6h0.01M232.6 689.4h0.01M247.0 675.2h0.01M250.1 679.1h0.01M245.9 663.2h0.01M238.2 685.5h0.01M218.9 682.6h0.01M227.3 686.5h0.01M253.8 683.3h0.01M253.0 671.2h0.01M267.7 660.8h0.01M218.0 695.4h0.01M227.7 678.9h0.01M225.8 680.4h0.01M260.1 673.0h0.01M251.8 660.9h0.01M258.6 658.1h0.01M229.9 694.9h0.01M260.4 656.8h0.01M221.3 692.1h0.01M222.8 694.9h0.01M230.5 682.4h0.01M253.4 663.0h0.01M247.8 677.4h0.01M222.8 681.2h0.01M221.8 701.3h0.01M255.5 682.1h0.01M239.4 670.7h0.01M222.0 691.8h0.01M215.5 686.1h0.01M223.9 689.0h0.01M222.5 685.0h0.01M261.0 659.0h0.01M225.6 688.0h0.01M264.9 652.7h0.01M242.6 678.3h0.01M251.4 670.3h0.01M223.3 682.9h0.01M228.1 690.2h0.01M229.1 684.0h0.01M223.1 685.2h0.01M241.0 675.4h0.01M224.4 683.8h0.01M226.2 690.7h0.01M232.1 679.3h0.01M252.1 651.5h0.01M264.5 642.5h0.01M226.6 677.9h0.01M265.9 654.5h0.01M244.8 672.8h0.01M221.5 680.2h0.01M228.8 678.4h0.01M258.3 674.8h0.01M223.1 679.0h0.01M232.3 687.0h0.01M233.1 680.4h0.01M226.0 694.4h0.01M252.6 676.0h0.01M245.6 674.9h0.01M226.5 691.8h0.01M263.9 664.9h0.01M252.9 663.0h0.01M260.7 668.4h0.01M265.2 666.0h0.01M236.2 678.8h0.01M239.2 680.5h0.01M248.9 670.4h0.01M219.6 691.5h0.01M259.8 664.4h0.01M261.1 654.9h0.01M257.6 666.4h0.01M243.5 686.2h0.01M261.4 671.2h0.01M251.7 679.8h0.01M262.5 665.1h0.01M251.2 668.6h0.01M239.3 671.5h0.01M241.7 678.2h0.01M255.0 675.6h0.01M223.8 692.0h0.01M263.2 669.5h0.01M263.8 659.9h0.01M264.1 665.2h0.01M244.9 669.9h0.01M216.1 696.1h0.01M263.6 668.6h0.01M228.7 680.5h0.01M218.7 691.5h0.01M242.0 662.2h0.01M264.2 668.5h0.01M248.4 667.4h0.01M228.6 681.1h0.01M507.9 537.6h0.01M513.7 518.1h0.01M531.9 513.1h0.01M521.4 518.0h0.01M496.3 515.7h0.01M526.0 518.7h0.01M502.0 529.4h0.01M498.0 518.5h0.01M525.7 509.8h0.01M511.5 528.7h0.01M510.5 524.3h0.01M533.4 499.1h0.01M494.7 527.6h0.01M508.0 518.9h0.01M501.5 527.4h0.01M493.6 526.6h0.01M528.5 512.5h0.01M524.6 512.7h0.01M507.9 512.8h0.01M503.2 528.4h0.01M513.8 520.9h0.01M497.9 523.8h0.01M526.8 516.1h0.01M493.5 546.5h0.01M524.2 504.4h0.01M516.8 519.7h0.01M501.8 531.0h0.01M497.4 529.4h0.01M510.3 516.9h0.01M522.6 528.9h0.01M512.1 517.8h0.01M528.2 511.2h0.01M494.4 526.4h0.01M512.5 528.3h0.01M524.4 499.4h0.01M496.1 523.7h0.01M507.1 521.2h0.01M520.1 517.3h0.01M519.5 517.5h0.01M524.1 521.0h0.01M508.2 523.2h0.01M514.7 513.2h0.01M502.2 526.2h0.01M502.2 520.9h0.01M498.6 524.5h0.01M536.9 502.5h0.01M491.7 534.2h0.01M529.6 515.6h0.01M506.4 517.0h0.01M506.2 519.6h0.01M529.0 511.2h0.01M508.0 522.6h0.01M510.3 520.7h0.01M512.9 524.3h0.01M502.3 525.3h0.01M510.8 509.6h0.01M528.1 519.6h0.01M491.9 523.9h0.01M503.4 536.7h0.01M495.6 531.3h0.01M494.5 532.3h0.01M531.6 499.6h0.01M519.7 518.0h0.01M537.8 504.2h0.01M527.7 506.0h0.01M496.8 532.1h0.01M499.7 532.1h0.01M522.3 521.7h0.01M511.6 513.4h0.01M502.3 521.0h0.01M510.0 531.0h0.01M501.0 529.5h0.01M534.7 512.7h0.01M512.3 517.2h0.01M494.7 532.2h0.01M499.7 532.5h0.01M512.5 512.1h0.01M530.6 505.6h0.01M531.6 511.1h0.01M518.0 525.2h0.01M506.6 521.2h0.01M497.3 533.5h0.01M492.6 526.6h0.01M527.4 503.6h0.01M519.0 520.6h0.01M510.7 515.5h0.01M509.5 523.0h0.01M516.2 514.3h0.01M512.6 524.5h0.01M490.7 524.6h0.01M516.6 508.5h0.01M516.1 509.8h0.01M499.8 526.6h0.01M511.5 530.4h0.01M536.2 511.8h0.01M519.2 517.8h0.01M520.4 515.3h0.01M506.4 531.8h0.01M505.7 523.3h0.01M532.5 515.4h0.01M534.2 516.5h0.01M520.5 520.0h0.01M521.2 517.8h0.01M517.5 519.0h0.01M510.1 521.7h0.01M495.0 531.8h0.01M511.7 514.9h0.01M509.1 516.4h0.01M521.2 525.1h0.01M513.9 519.2h0.01M494.5 520.5h0.01M497.8 537.6h0.01M536.7 515.1h0.01M515.1 521.3h0.01M535.5 498.9h0.01M497.6 541.4h0.01M505.2 531.3h0.01M520.8 522.8h0.01M512.3 518.8h0.01M518.0 519.1h0.01M534.9 506.8h0.01M536.4 505.2h0.01M525.0 505.2h0.01M513.5 514.9h0.01M520.5 511.9h0.01M512.2 520.5h0.01M532.4 515.9h0.01M537.3 510.2h0.01M511.1 508.8h0.01M524.3 519.4h0.01M518.4 506.9h0.01M531.5 513.7h0.01M499.3 526.6h0.01M531.5 509.8h0.01M508.5 519.1h0.01M534.0 501.8h0.01M510.9 532.0h0.01M511.1 504.3h0.01M496.9 523.0h0.01M515.8 525.6h0.01M505.3 523.5h0.01M496.3 529.1h0.01M508.3 516.3h0.01M492.3 524.1h0.01M491.7 536.3h0.01M511.4 520.3h0.01M514.5 521.2h0.01M503.8 530.4h0.01M521.5 503.1h0.01M493.4 525.3h0.01M558.1 504.7h0.01M564.9 482.6h0.01M551.6 501.7h0.01M555.9 491.9h0.01M557.8 504.3h0.01M564.5 502.8h0.01M562.7 495.4h0.01M564.9 490.3h0.01M546.7 489.5h0.01M542.2 522.2h0.01M545.8 512.8h0.01M548.3 505.6h0.01M549.7 510.1h0.01M547.2 502.1h0.01M544.9 493.1h0.01M564.2 497.9h0.01M553.9 488.4h0.01M558.8 490.9h0.01M564.6 495.8h0.01M542.9 490.6h0.01M205.3 700.3h0.01M204.5 697.2h0.01M197.8 701.6h0.01M211.9 685.6h0.01M206.1 691.2h0.01M192.7 706.8h0.01M207.1 687.0h0.01M201.2 705.4h0.01M210.5 691.0h0.01M207.8 698.5h0.01M659.4 457.9h0.01M658.9 465.0h0.01M653.0 459.2h0.01M646.9 463.2h0.01M643.5 464.0h0.01M638.7 463.7h0.01M632.8 466.4h0.01M629.7 467.2h0.01M618.2 472.0h0.01M621.7 473.3h0.01M607.6 476.5h0.01M607.6 483.6h0.01M604.4 472.5h0.01M593.5 482.6h0.01M597.0 482.6h0.01M582.4 490.5h0.01M582.9 495.1h0.01M578.9 491.6h0.01M563.2 483.6h0.01M548.4 478.3h0.01M554.5 477.3h0.01M545.7 483.6h0.01M563.8 508.3h0.01M564.3 513.7h0.01M553.1 507.0h0.01M546.5 522.4h0.01M542.0 524.3h0.01M569.6 509.7h0.01M611.2 466.7h0.01M657.3 459.9h0.01M129.2 706.6h0.01M138.4 707.2h0.01M128.8 711.5h0.01M109.4 731.9h0.01M111.5 731.1h0.01M118.2 729.7h0.01M106.4 743.4h0.01M127.8 725.4h0.01M129.0 726.2h0.01M138.6 720.9h0.01M143.5 720.9h0.01M148.7 720.5h0.01M150.5 719.9h0.01M154.6 714.4h0.01M148.5 741.5h0.01M175.6 683.7h0.01M183.4 687.0h0.01M174.8 706.0h0.01M181.4 703.9h0.01M190.1 691.9h0.01M200.4 679.2h0.01M204.0 680.6h0.01M172.4 711.1h0.01M187.3 700.3h0.01M196.3 696.4h0.01M195.2 702.3h0.01M198.3 708.0h0.01M203.0 693.1h0.01M203.4 688.6h0.01M208.5 697.2h0.01M214.7 679.4h0.01M218.3 669.8h0.01" stroke="#2f78b8" stroke-width="2.20" stroke-linecap="round" fill="none"/>
<path d="M248.7 672.1 L250.3 670.7 L251.9 669.2 L253.5 667.8 L255.1 666.4 L256.7 665.1 L258.3 663.8 L259.8 662.5 L261.4 661.1 L263.0 659.8 L264.6 658.5 L266.2 657.2 L267.8 655.8 L269.4 654.5 L271.0 653.2 L272.6 651.8 L274.2 650.6 L275.8 649.4 L277.4 648.2 L279.0 647.0 L280.6 645.8 L282.2 644.6 L283.8 643.4 L285.4 642.3 L286.9 641.2 L288.5 640.1 L290.1 639.0 L291.7 637.9 L293.3 636.8 L294.9 635.7 L296.5 634.6 L298.1 633.5 L299.7 632.4 L301.3 631.5 L302.9 630.5 L304.5 629.5 L306.1 628.6 L307.7 627.6 L309.3 626.6 L310.9 625.7 L312.5 624.7 L314.0 623.7 L315.6 622.8 L317.2 621.8 L318.8 620.8 L320.4 619.8 L322.0 618.9 L323.6 617.9 L325.2 616.9 L326.8 616.0 L328.4 615.0 L330.0 614.0 L331.6 613.1 L333.2 612.1 L334.8 611.2 L336.4 610.3 L338.0 609.4 L339.5 608.4 L341.1 607.5 L342.7 606.6 L344.3 605.6 L345.9 604.7 L347.5 603.8 L349.1 602.8 L350.7 601.9 L352.3 601.0 L353.9 600.0 L355.5 599.1 L357.1 598.2 L358.7 597.3 L360.3 596.3 L361.9 595.4 L363.5 594.5 L365.1 593.5 L366.6 592.6 L368.2 591.7 L369.8 590.7 L371.4 589.8 L373.0 588.9 L374.6 587.9 L376.2 587.0 L377.8 586.1 L379.4 585.2 L381.0 584.2 L382.6 583.3 L384.2 582.4 L385.8 581.5 L387.4 580.6 L389.0 579.7 L390.6 578.8 L392.2 577.9 L393.7 577.0 L395.3 576.1 L396.9 575.2 L398.5 574.3 L400.1 573.4 L401.7 572.5 L403.3 571.6 L404.9 570.7 L406.5 569.8 L408.1 568.9 L409.7 568.0 L411.3 567.1 L412.9 566.2 L414.5 565.3 L416.1 564.4 L417.7 563.5 L419.2 562.5 L420.8 561.6 L422.4 560.7 L424.0 559.8 L425.6 558.9 L427.2 558.0 L428.8 557.2 L430.4 556.3 L432.0 555.4 L433.6 554.6 L435.2 553.7 L436.8 552.8 L438.4 552.0 L440.0 551.1 L441.6 550.2 L443.2 549.4 L444.8 548.5 L446.3 547.6 L447.9 546.7 L449.5 545.9 L451.1 545.0 L452.7 544.1 L454.3 543.3 L455.9 542.4 L457.5 541.5 L459.1 540.7 L460.7 539.9 L462.3 539.2 L463.9 538.5 L465.5 537.7 L467.1 537.0 L468.7 536.3 L470.3 535.5 L471.9 534.8 L473.4 534.0 L475.0 533.3 L476.6 532.7 L478.2 532.0 L479.8 531.4 L481.4 530.8 L483.0 530.1 L484.6 529.5 L486.2 528.9 L487.8 528.4 L489.4 527.9 L491.0 527.4 L492.6 526.9 L494.2 526.4 L495.8 525.9 L497.4 525.4 L498.9 524.8 L500.5 524.3 L502.1 523.8 L503.7 523.3 L505.3 522.9 L506.9 522.5 L508.5 522.0 L510.1 521.6 L510.1 521.6 L508.5 523.0 L506.9 524.5 L505.3 525.9 L503.7 527.3 L502.1 528.6 L500.5 529.9 L498.9 531.2 L497.4 532.6 L495.8 533.9 L494.2 535.2 L492.6 536.5 L491.0 537.9 L489.4 539.2 L487.8 540.5 L486.2 541.9 L484.6 543.1 L483.0 544.3 L481.4 545.5 L479.8 546.7 L478.2 547.9 L476.6 549.1 L475.0 550.3 L473.4 551.4 L471.9 552.5 L470.3 553.6 L468.7 554.7 L467.1 555.8 L465.5 556.9 L463.9 558.0 L462.3 559.1 L460.7 560.2 L459.1 561.3 L457.5 562.2 L455.9 563.2 L454.3 564.2 L452.7 565.1 L451.1 566.1 L449.5 567.1 L447.9 568.0 L446.3 569.0 L444.8 570.0 L443.2 571.0 L441.6 571.9 L440.0 572.9 L438.4 573.9 L436.8 574.8 L435.2 575.8 L433.6 576.8 L432.0 577.7 L430.4 578.7 L428.8 579.7 L427.2 580.6 L425.6 581.6 L424.0 582.5 L422.4 583.4 L420.8 584.3 L419.2 585.3 L417.7 586.2 L416.1 587.1 L414.5 588.1 L412.9 589.0 L411.3 589.9 L409.7 590.9 L408.1 591.8 L406.5 592.7 L404.9 593.7 L403.3 594.6 L401.7 595.5 L400.1 596.4 L398.5 597.4 L396.9 598.3 L395.3 599.2 L393.7 600.2 L392.2 601.1 L390.6 602.0 L389.0 603.0 L387.4 603.9 L385.8 604.8 L384.2 605.8 L382.6 606.7 L381.0 607.6 L379.4 608.6 L377.8 609.5 L376.2 610.4 L374.6 611.3 L373.0 612.2 L371.4 613.1 L369.8 614.0 L368.2 614.9 L366.6 615.8 L365.1 616.7 L363.5 617.6 L361.9 618.5 L360.3 619.4 L358.7 620.3 L357.1 621.2 L355.5 622.1 L353.9 623.0 L352.3 623.9 L350.7 624.8 L349.1 625.7 L347.5 626.6 L345.9 627.5 L344.3 628.4 L342.7 629.3 L341.1 630.3 L339.5 631.2 L338.0 632.1 L336.4 633.0 L334.8 633.9 L333.2 634.8 L331.6 635.7 L330.0 636.5 L328.4 637.4 L326.8 638.3 L325.2 639.1 L323.6 640.0 L322.0 640.9 L320.4 641.7 L318.8 642.6 L317.2 643.5 L315.6 644.4 L314.0 645.2 L312.5 646.1 L310.9 647.0 L309.3 647.8 L307.7 648.7 L306.1 649.6 L304.5 650.4 L302.9 651.3 L301.3 652.2 L299.7 653.0 L298.1 653.8 L296.5 654.5 L294.9 655.2 L293.3 656.0 L291.7 656.7 L290.1 657.5 L288.5 658.2 L286.9 658.9 L285.4 659.7 L283.8 660.4 L282.2 661.0 L280.6 661.7 L279.0 662.3 L277.4 662.9 L275.8 663.6 L274.2 664.2 L272.6 664.8 L271.0 665.3 L269.4 665.8 L267.8 666.3 L266.2 666.8 L264.6 667.3 L263.0 667.8 L261.4 668.3 L259.8 668.9 L258.3 669.4 L256.7 669.9 L255.1 670.4 L253.5 670.8 L251.9 671.2 L250.3 671.7 L248.7 672.1Z" fill="#f38224"/>
<path d="M463.5 556.9h0.01M407.8 594.4h0.01M393.9 576.5h0.01M468.6 554.6h0.01M384.4 605.0h0.01M429.2 579.8h0.01M447.8 546.9h0.01M255.7 665.4h0.01M315.4 622.8h0.01M270.1 667.7h0.01M368.9 617.0h0.01M472.4 527.9h0.01M469.7 554.7h0.01M340.8 603.5h0.01M446.8 537.4h0.01M480.0 547.7h0.01M382.6 605.7h0.01M429.1 579.6h0.01M360.8 594.0h0.01M302.7 624.4h0.01M271.3 667.5h0.01M457.9 561.8h0.01M403.8 571.9h0.01M381.6 605.2h0.01M430.1 577.6h0.01M475.0 533.1h0.01M325.9 615.9h0.01M417.7 588.3h0.01M362.8 624.6h0.01M434.6 575.2h0.01M402.3 570.9h0.01M369.9 619.1h0.01M509.4 520.3h0.01M351.4 625.4h0.01M359.5 621.3h0.01M481.6 546.9h0.01M478.5 547.5h0.01M265.4 657.6h0.01M406.0 596.5h0.01M439.6 551.4h0.01M446.8 547.3h0.01M379.8 609.7h0.01M277.7 662.8h0.01M482.2 528.1h0.01M373.6 613.4h0.01M301.9 627.5h0.01M304.3 655.8h0.01M487.8 525.9h0.01M447.6 569.7h0.01M303.3 629.0h0.01M468.6 557.3h0.01M419.0 585.0h0.01M464.6 536.7h0.01M300.0 631.7h0.01M485.4 528.7h0.01M351.0 624.6h0.01M487.3 541.5h0.01M482.7 531.8h0.01M297.7 653.6h0.01M417.2 559.5h0.01M343.4 604.9h0.01M368.8 620.4h0.01M273.0 652.0h0.01M338.1 605.6h0.01M269.3 652.6h0.01M343.8 601.1h0.01M408.8 590.5h0.01M256.1 661.4h0.01M370.8 613.2h0.01M280.3 643.0h0.01M426.1 557.5h0.01M376.3 587.1h0.01M302.3 656.8h0.01M407.0 562.2h0.01M397.4 571.5h0.01M267.3 654.8h0.01M388.7 577.5h0.01M429.0 551.6h0.01M449.4 545.4h0.01M476.6 552.4h0.01M415.6 588.0h0.01M303.0 628.9h0.01M366.4 617.2h0.01M273.3 666.7h0.01M482.8 528.8h0.01M246.1 674.8h0.01M302.9 629.2h0.01M486.2 542.2h0.01M318.3 646.9h0.01M459.2 561.0h0.01M261.5 668.1h0.01M423.1 561.5h0.01M432.5 579.0h0.01M290.6 656.7h0.01M353.4 591.9h0.01M321.3 616.1h0.01M352.9 623.6h0.01M423.0 561.1h0.01M269.3 665.7h0.01M368.9 591.4h0.01M457.7 539.2h0.01M434.7 580.8h0.01M268.3 654.8h0.01M297.4 634.8h0.01M398.3 569.1h0.01M288.8 640.0h0.01M277.8 667.2h0.01M424.8 559.4h0.01M266.6 653.6h0.01M374.9 585.2h0.01M462.7 536.6h0.01M278.4 648.7h0.01M357.3 594.7h0.01M275.2 663.5h0.01M297.5 653.3h0.01M298.5 632.7h0.01M494.2 527.0h0.01M395.7 599.2h0.01M325.4 639.9h0.01M444.3 549.1h0.01M374.4 612.9h0.01M357.9 590.7h0.01M420.3 559.6h0.01M430.8 557.0h0.01M461.7 539.0h0.01M405.8 598.5h0.01M304.6 629.5h0.01M275.0 664.0h0.01M322.2 648.5h0.01M442.5 570.1h0.01M496.6 533.3h0.01M468.8 555.2h0.01M362.1 619.5h0.01M280.8 642.9h0.01M504.2 531.3h0.01M317.5 615.9h0.01M261.9 660.1h0.01M434.3 575.9h0.01M458.0 541.1h0.01M297.8 632.1h0.01M486.6 528.4h0.01M293.6 636.1h0.01M425.7 582.2h0.01M265.2 673.0h0.01M337.9 631.9h0.01M322.3 620.0h0.01M319.0 622.5h0.01M292.5 660.6h0.01M350.4 626.5h0.01M470.1 553.6h0.01M267.8 665.5h0.01M279.1 643.0h0.01M292.1 637.5h0.01M402.4 596.2h0.01M361.7 621.8h0.01M273.0 651.0h0.01M462.9 568.3h0.01M496.3 533.6h0.01M465.9 559.6h0.01M327.6 639.3h0.01M391.0 579.6h0.01M498.7 520.5h0.01M490.2 525.7h0.01M323.8 619.0h0.01M360.5 596.4h0.01M339.6 635.6h0.01M281.5 645.0h0.01M337.0 611.2h0.01M286.1 636.2h0.01M270.1 652.9h0.01M437.2 578.8h0.01M462.1 560.0h0.01M313.0 646.4h0.01M360.1 632.1h0.01M495.2 534.2h0.01M312.6 645.0h0.01M408.1 567.2h0.01M366.6 592.3h0.01M289.0 657.0h0.01M457.6 534.3h0.01M462.2 562.4h0.01M398.1 597.9h0.01M269.3 670.4h0.01M290.0 636.4h0.01M314.7 644.9h0.01M447.3 547.4h0.01M320.7 646.7h0.01M412.5 566.0h0.01M488.9 529.0h0.01M314.5 617.6h0.01M454.1 563.3h0.01M426.7 556.4h0.01M317.2 619.5h0.01M430.5 555.2h0.01M356.1 600.3h0.01M428.5 578.6h0.01M442.6 571.9h0.01M487.7 545.7h0.01M360.6 596.4h0.01M329.2 605.8h0.01M495.9 526.5h0.01M431.8 576.3h0.01M331.7 606.2h0.01M492.0 522.5h0.01M451.4 565.5h0.01M367.2 615.9h0.01M320.9 641.6h0.01M358.5 621.5h0.01M493.8 535.3h0.01M353.4 626.5h0.01M337.4 608.9h0.01M439.5 575.1h0.01M426.5 580.3h0.01M391.1 579.3h0.01M506.3 529.9h0.01M338.0 636.6h0.01M249.8 670.8h0.01M363.9 592.8h0.01M272.1 652.1h0.01M424.4 584.5h0.01M269.5 667.0h0.01M384.5 582.3h0.01M497.8 524.8h0.01M460.2 539.1h0.01M326.7 614.0h0.01M492.6 537.6h0.01M268.4 667.3h0.01M351.7 623.9h0.01M404.4 596.9h0.01M399.9 570.6h0.01M257.6 662.6h0.01M482.8 545.8h0.01M301.1 653.0h0.01M260.2 670.8h0.01M426.5 585.5h0.01M392.5 603.1h0.01M371.1 623.3h0.01M410.1 556.2h0.01M498.2 524.8h0.01M436.3 576.5h0.01M380.7 585.1h0.01M279.0 662.5h0.01M465.3 534.2h0.01M282.5 662.8h0.01M408.1 568.9h0.01M329.9 612.9h0.01M418.3 586.6h0.01M319.9 618.1h0.01M421.7 558.1h0.01M333.3 612.7h0.01M479.2 531.4h0.01M479.7 531.7h0.01M482.0 523.8h0.01M338.4 608.2h0.01M427.2 580.4h0.01M244.9 677.3h0.01M396.5 574.7h0.01M464.2 557.5h0.01M316.9 619.3h0.01M348.4 629.6h0.01M350.0 603.7h0.01M382.8 577.2h0.01M481.0 551.2h0.01M455.5 567.6h0.01M334.0 611.9h0.01M292.6 634.6h0.01M314.9 643.6h0.01M404.5 599.4h0.01M286.8 658.2h0.01M369.8 614.3h0.01M255.7 670.7h0.01M456.3 566.0h0.01M493.1 526.1h0.01M385.7 582.8h0.01M412.1 587.7h0.01M451.1 541.9h0.01M340.5 630.7h0.01M272.2 651.8h0.01M366.6 616.6h0.01M488.5 528.3h0.01M407.6 567.1h0.01M313.3 647.0h0.01M380.1 612.8h0.01M335.0 609.9h0.01M481.9 528.4h0.01M354.1 625.5h0.01M254.0 664.8h0.01M249.1 675.1h0.01M466.1 556.4h0.01M365.4 577.6h0.01M401.9 567.5h0.01M458.5 561.6h0.01M378.8 579.4h0.01M498.8 524.6h0.01M367.4 615.5h0.01M320.1 617.5h0.01M311.5 627.6h0.01M443.8 548.7h0.01M378.7 581.8h0.01M271.7 650.3h0.01M423.5 559.5h0.01M454.9 534.4h0.01M414.0 565.1h0.01M490.9 524.6h0.01M286.7 658.6h0.01M476.3 530.1h0.01M430.7 553.2h0.01M481.3 526.3h0.01M406.0 562.5h0.01M266.6 668.0h0.01M288.3 638.0h0.01M406.8 567.8h0.01M459.0 562.6h0.01M424.7 581.6h0.01M478.3 526.4h0.01M413.0 587.5h0.01M390.2 610.4h0.01M300.1 631.8h0.01M461.0 537.5h0.01M440.1 571.4h0.01M357.4 624.1h0.01M395.0 566.3h0.01M459.0 539.9h0.01M333.9 634.8h0.01M307.7 627.8h0.01M499.5 522.9h0.01M300.6 654.1h0.01M462.4 559.9h0.01M453.3 542.5h0.01M466.2 562.0h0.01M482.6 526.3h0.01M404.6 572.3h0.01M437.5 576.1h0.01M403.0 564.2h0.01M471.3 554.0h0.01M342.6 628.3h0.01M494.7 525.2h0.01M284.0 641.0h0.01M302.4 630.6h0.01M492.3 527.3h0.01M416.8 586.0h0.01M431.5 555.1h0.01M464.7 558.1h0.01M427.5 583.2h0.01M312.2 625.0h0.01M295.6 655.9h0.01M411.2 594.8h0.01M381.9 608.8h0.01M437.5 574.9h0.01M334.2 608.4h0.01M299.6 657.7h0.01M259.1 669.7h0.01M407.3 568.9h0.01M272.9 665.8h0.01M501.0 521.1h0.01M413.3 563.9h0.01M455.5 567.6h0.01M273.5 668.0h0.01M385.5 582.9h0.01M367.6 619.0h0.01M270.0 670.0h0.01M404.7 567.6h0.01M292.7 657.2h0.01M296.1 635.6h0.01M384.3 605.3h0.01M478.6 550.1h0.01M400.4 595.6h0.01M441.2 550.7h0.01M413.4 592.5h0.01M284.1 664.4h0.01M468.6 557.2h0.01M465.9 557.1h0.01M302.4 650.3h0.01M279.5 663.7h0.01M328.7 606.6h0.01M431.2 555.0h0.01M249.6 675.6h0.01M374.9 588.6h0.01M347.8 596.3h0.01M501.8 522.5h0.01M294.8 659.6h0.01M494.4 539.9h0.01M498.0 542.4h0.01M439.5 551.2h0.01M472.0 552.6h0.01M465.0 559.1h0.01M359.2 624.8h0.01M442.4 549.3h0.01M348.3 604.5h0.01M360.4 621.5h0.01M302.9 624.2h0.01M431.0 554.2h0.01M427.8 578.4h0.01M428.5 558.0h0.01M282.9 660.3h0.01M451.2 566.8h0.01M425.5 583.5h0.01M338.5 606.8h0.01M327.1 615.2h0.01M493.2 537.6h0.01M445.0 545.7h0.01M374.6 584.1h0.01M353.5 593.3h0.01M470.7 554.1h0.01M414.7 590.1h0.01M465.5 557.1h0.01M409.1 564.2h0.01M387.5 603.0h0.01M344.8 627.3h0.01M255.9 661.6h0.01M380.2 583.6h0.01M471.4 531.5h0.01M292.1 658.6h0.01M438.4 572.7h0.01M258.5 668.8h0.01M363.1 591.5h0.01M493.5 521.5h0.01M447.8 547.1h0.01M436.7 550.6h0.01M419.8 559.6h0.01M491.6 538.2h0.01M303.2 628.7h0.01M400.9 574.7h0.01M315.2 647.0h0.01M298.1 629.3h0.01M319.6 616.6h0.01M410.9 565.5h0.01M290.8 638.9h0.01M387.3 581.1h0.01M277.7 667.3h0.01M427.9 580.7h0.01M487.7 543.5h0.01M395.5 598.2h0.01M381.1 582.6h0.01M417.3 558.7h0.01M511.2 526.3h0.01M335.1 639.7h0.01M309.0 626.9h0.01M329.4 643.8h0.01M475.2 550.1h0.01M458.1 569.1h0.01M383.7 604.8h0.01M504.6 526.8h0.01M482.8 529.3h0.01M419.6 585.3h0.01M400.6 595.6h0.01M332.3 634.6h0.01M332.6 642.5h0.01M431.0 556.4h0.01M339.2 631.5h0.01M416.0 586.9h0.01M402.7 570.3h0.01M413.8 603.1h0.01M345.8 627.8h0.01M475.7 552.9h0.01M340.2 608.4h0.01M495.4 535.0h0.01M489.6 525.8h0.01M402.3 597.6h0.01M466.3 557.6h0.01M511.0 519.7h0.01M294.1 657.1h0.01M337.9 610.0h0.01M324.1 640.7h0.01M294.1 655.4h0.01M361.9 593.7h0.01M318.9 641.7h0.01M287.9 640.0h0.01M299.5 653.3h0.01M312.5 645.8h0.01M275.8 663.9h0.01M477.0 551.0h0.01M400.8 569.9h0.01M506.0 520.2h0.01M342.4 602.4h0.01M396.4 575.3h0.01M400.2 595.7h0.01M499.7 522.3h0.01M306.5 628.8h0.01M430.9 577.8h0.01M313.2 649.2h0.01M389.1 578.2h0.01M358.6 620.9h0.01M354.1 598.3h0.01M380.8 584.8h0.01M385.6 605.5h0.01M482.1 529.4h0.01M356.4 598.8h0.01M404.3 598.9h0.01M277.6 670.4h0.01M342.3 631.2h0.01M293.6 662.0h0.01M327.4 615.6h0.01M313.1 621.4h0.01M487.3 526.9h0.01M477.3 549.6h0.01M406.1 593.4h0.01M294.1 633.8h0.01M453.2 543.5h0.01M333.5 635.2h0.01M295.3 653.9h0.01M480.6 550.8h0.01M351.3 622.8h0.01M306.8 649.0h0.01M475.6 528.7h0.01M402.5 564.5h0.01M346.0 631.6h0.01M418.7 561.9h0.01M309.9 623.6h0.01M274.1 646.3h0.01M382.0 612.0h0.01M350.7 630.6h0.01M475.7 549.6h0.01M365.4 615.7h0.01M450.1 544.5h0.01M384.5 607.5h0.01M326.8 616.2h0.01M408.6 568.6h0.01M355.6 598.3h0.01M448.7 567.5h0.01M479.2 528.8h0.01M384.0 606.1h0.01M378.8 607.1h0.01M320.1 641.9h0.01M410.1 565.1h0.01M366.1 592.8h0.01M340.0 605.2h0.01M448.3 542.2h0.01M463.5 532.4h0.01M310.2 624.3h0.01M268.5 651.4h0.01M310.7 626.2h0.01M402.5 595.7h0.01M349.7 628.9h0.01M319.2 648.8h0.01M396.6 599.4h0.01M469.3 554.5h0.01M467.5 538.0h0.01M274.6 664.5h0.01M366.3 590.1h0.01M299.1 653.2h0.01M278.7 644.5h0.01M308.3 620.2h0.01M363.3 594.5h0.01M381.4 584.2h0.01M503.7 514.5h0.01M489.2 538.2h0.01M430.6 556.9h0.01M286.6 660.6h0.01M416.6 601.2h0.01M371.0 614.9h0.01M438.2 550.7h0.01M495.4 522.8h0.01M453.1 542.7h0.01M496.8 533.9h0.01M303.4 629.4h0.01M328.5 608.6h0.01M488.8 540.4h0.01M483.9 524.2h0.01M298.9 659.8h0.01M283.7 660.8h0.01M394.0 599.2h0.01M284.6 643.2h0.01M275.0 662.6h0.01M268.3 651.4h0.01M397.1 600.0h0.01M420.9 584.0h0.01M360.0 622.4h0.01M442.4 549.1h0.01M299.5 652.2h0.01M333.0 611.8h0.01M329.8 638.0h0.01M315.6 619.8h0.01M390.2 579.4h0.01M321.3 639.1h0.01M393.8 599.6h0.01M342.8 606.5h0.01M339.0 638.9h0.01M456.6 562.5h0.01M466.2 556.7h0.01M297.2 625.9h0.01M331.5 613.4h0.01M455.5 564.5h0.01M307.5 627.2h0.01M314.6 645.3h0.01M455.5 541.3h0.01M431.8 578.5h0.01M341.6 633.0h0.01M262.1 669.2h0.01M266.0 667.5h0.01M261.6 659.7h0.01M327.2 641.7h0.01M321.5 645.3h0.01M378.4 618.1h0.01M407.5 595.6h0.01M300.5 631.7h0.01M345.5 603.4h0.01M489.7 541.7h0.01M286.1 659.6h0.01M394.5 599.5h0.01M310.7 622.6h0.01M311.2 619.7h0.01M279.4 639.6h0.01M412.2 590.9h0.01M449.7 545.4h0.01M490.4 536.9h0.01M433.2 550.2h0.01M325.2 615.3h0.01M460.6 540.3h0.01M360.5 618.8h0.01M314.0 644.9h0.01M402.8 597.9h0.01M402.5 594.7h0.01M402.7 569.0h0.01M284.4 641.8h0.01M382.6 583.1h0.01M306.0 651.9h0.01M493.1 543.4h0.01M360.6 621.2h0.01M360.5 591.6h0.01M483.9 527.3h0.01M487.5 527.8h0.01M469.2 557.7h0.01M317.8 647.6h0.01M337.5 632.5h0.01M418.4 584.8h0.01M427.8 579.3h0.01M470.4 552.1h0.01M354.4 629.3h0.01M289.7 638.5h0.01M276.1 649.1h0.01M366.0 591.1h0.01M304.5 650.7h0.01M266.1 655.5h0.01M455.8 563.7h0.01M490.5 528.1h0.01M294.9 655.3h0.01M465.9 536.0h0.01M448.2 546.2h0.01M304.9 627.5h0.01M471.3 552.2h0.01M434.0 575.5h0.01M459.2 562.4h0.01M460.5 571.9h0.01M410.4 567.1h0.01M492.3 537.4h0.01M501.9 530.0h0.01M314.1 622.1h0.01M368.4 623.0h0.01M338.7 631.2h0.01M288.1 663.1h0.01M386.9 605.4h0.01M355.8 596.6h0.01M425.3 583.0h0.01M507.5 525.5h0.01M371.8 613.3h0.01M269.1 666.6h0.01M425.8 582.7h0.01M492.0 540.4h0.01M485.0 529.8h0.01M407.6 561.9h0.01M290.3 660.1h0.01M291.4 636.2h0.01M343.8 635.2h0.01M360.1 620.9h0.01M456.7 562.4h0.01M283.4 663.3h0.01M478.8 529.9h0.01M362.8 594.8h0.01M305.2 653.7h0.01M272.3 649.8h0.01M496.2 518.8h0.01M435.5 578.8h0.01M290.3 632.9h0.01M368.1 587.3h0.01M438.8 575.3h0.01M336.8 634.9h0.01M504.5 518.0h0.01M375.0 610.3h0.01M444.2 573.8h0.01M371.3 615.9h0.01M462.0 559.6h0.01M438.3 574.5h0.01M433.5 576.1h0.01M448.1 540.1h0.01M280.4 644.3h0.01M381.1 610.4h0.01M459.4 560.7h0.01M416.6 564.4h0.01M320.1 643.9h0.01M323.6 614.2h0.01M345.3 633.0h0.01M251.9 673.1h0.01M309.3 651.3h0.01M288.9 658.4h0.01M367.3 591.8h0.01M436.8 573.5h0.01M428.2 558.9h0.01M400.9 572.6h0.01M461.3 529.9h0.01M300.1 628.1h0.01M393.6 567.6h0.01M374.6 612.5h0.01M495.7 525.5h0.01M360.5 596.3h0.01M467.5 534.7h0.01M489.6 543.4h0.01M363.7 618.3h0.01M321.8 616.7h0.01M262.1 669.9h0.01M410.8 567.0h0.01M471.8 527.5h0.01M324.3 617.2h0.01M346.3 605.0h0.01M442.1 574.0h0.01M317.0 643.7h0.01M414.6 587.9h0.01M360.0 619.9h0.01M306.3 650.9h0.01M284.6 642.5h0.01M304.6 649.9h0.01M328.3 609.2h0.01M427.4 581.0h0.01M278.4 648.2h0.01M395.5 574.9h0.01M359.5 621.7h0.01M445.9 547.7h0.01M290.9 657.7h0.01M380.3 584.0h0.01M427.3 558.9h0.01M472.6 529.5h0.01M377.3 584.4h0.01M331.2 639.5h0.01M281.6 660.3h0.01M388.4 579.4h0.01M324.6 615.3h0.01M471.6 533.7h0.01M351.9 597.9h0.01M400.5 572.3h0.01M343.6 629.6h0.01M414.1 591.4h0.01M386.2 604.2h0.01M294.9 654.9h0.01M422.1 586.0h0.01M374.1 584.7h0.01M364.0 620.7h0.01M335.8 634.6h0.01M326.7 612.9h0.01M283.8 643.3h0.01M464.0 557.7h0.01M373.3 615.4h0.01M447.9 571.0h0.01M429.1 590.0h0.01M476.3 552.2h0.01M461.6 539.6h0.01M327.9 650.7h0.01M383.0 607.9h0.01M448.0 568.5h0.01M473.2 550.8h0.01M368.5 589.5h0.01M340.7 630.9h0.01M441.0 550.9h0.01M345.8 627.3h0.01M404.1 569.3h0.01M323.7 640.6h0.01M274.3 649.5h0.01M354.3 622.1h0.01M344.3 630.1h0.01M334.2 635.2h0.01M474.9 533.6h0.01M300.2 633.2h0.01M487.3 528.5h0.01M327.5 609.3h0.01M463.5 536.4h0.01M379.5 612.4h0.01M359.4 596.7h0.01M372.8 613.8h0.01M316.3 619.0h0.01M432.7 581.8h0.01M324.3 643.9h0.01M378.2 611.2h0.01M437.6 553.3h0.01M419.3 560.8h0.01M349.6 628.3h0.01M482.8 530.7h0.01M481.3 546.1h0.01M244.8 671.6h0.01M287.7 658.9h0.01M394.0 602.0h0.01M479.5 551.7h0.01M297.7 628.5h0.01M348.1 632.0h0.01M283.6 644.3h0.01M380.1 580.3h0.01M466.6 571.9h0.01M346.5 604.5h0.01M280.0 641.9h0.01M431.8 579.3h0.01M483.2 547.2h0.01M380.3 584.0h0.01M362.2 594.8h0.01M444.6 548.4h0.01M410.5 566.3h0.01M369.1 618.9h0.01M450.1 545.0h0.01M257.8 664.2h0.01M452.9 542.0h0.01M288.9 634.3h0.01M377.1 583.9h0.01M264.3 657.3h0.01M371.2 586.6h0.01M285.5 642.2h0.01M427.7 581.1h0.01M339.4 608.9h0.01M340.1 631.3h0.01M370.0 615.3h0.01M434.7 550.8h0.01M494.2 536.0h0.01M392.9 576.0h0.01M469.2 558.2h0.01M245.1 671.6h0.01M354.7 597.6h0.01M413.9 589.0h0.01M275.1 668.9h0.01M396.7 598.5h0.01M346.6 605.3h0.01M369.5 590.0h0.01M290.2 639.0h0.01M350.7 624.3h0.01M405.2 566.8h0.01M283.6 663.9h0.01M414.5 588.8h0.01M432.3 553.0h0.01M296.5 635.7h0.01M312.0 623.0h0.01M512.0 517.4h0.01M299.9 652.6h0.01M398.2 574.8h0.01M417.9 586.2h0.01M418.0 590.4h0.01M300.3 629.8h0.01M461.8 538.3h0.01M324.3 618.0h0.01M458.2 534.4h0.01M348.0 625.9h0.01M275.2 643.1h0.01M367.8 590.3h0.01M403.1 594.1h0.01M437.6 551.7h0.01M344.8 632.4h0.01M390.2 572.7h0.01M339.6 634.4h0.01M308.7 649.4h0.01M298.4 632.7h0.01M474.4 553.2h0.01M333.5 632.3h0.01M471.5 533.6h0.01M280.9 644.8h0.01M409.2 565.8h0.01M468.2 535.5h0.01M268.7 667.8h0.01M431.6 552.8h0.01M304.2 630.0h0.01M343.5 628.4h0.01M465.2 559.5h0.01M491.2 536.7h0.01M292.6 635.4h0.01M263.7 667.6h0.01M345.9 605.6h0.01M412.7 566.2h0.01M414.2 594.9h0.01M503.5 526.3h0.01M319.2 612.2h0.01M435.5 553.3h0.01M335.4 609.5h0.01M274.2 664.5h0.01M430.4 577.7h0.01M405.9 564.4h0.01M432.8 546.4h0.01M480.0 532.2h0.01M351.9 601.8h0.01M315.9 645.8h0.01M393.6 576.0h0.01M275.1 663.0h0.01M360.0 618.8h0.01M396.5 597.4h0.01M443.7 579.0h0.01M420.8 584.1h0.01M270.5 672.9h0.01M329.5 641.1h0.01M420.5 588.5h0.01M370.6 589.1h0.01M475.2 531.7h0.01M409.7 591.1h0.01M292.7 658.4h0.01M374.3 587.4h0.01M356.5 619.5h0.01M272.6 651.4h0.01M416.7 588.9h0.01M291.7 630.9h0.01M461.0 535.1h0.01M285.2 660.4h0.01M285.0 668.9h0.01M348.3 603.5h0.01M320.3 620.1h0.01M370.1 618.3h0.01M318.1 617.3h0.01M412.7 559.5h0.01M434.3 581.1h0.01M266.1 666.7h0.01M293.3 634.3h0.01M487.4 543.7h0.01M465.7 535.0h0.01M321.4 615.2h0.01M427.9 586.3h0.01M409.8 594.5h0.01M440.9 576.2h0.01M400.6 571.8h0.01M444.0 569.6h0.01M383.0 607.4h0.01M365.4 616.8h0.01M469.5 535.5h0.01M393.5 603.4h0.01M400.1 597.4h0.01M381.4 584.6h0.01M412.4 566.8h0.01M324.4 615.1h0.01M480.3 530.8h0.01M307.7 649.2h0.01M371.9 588.0h0.01M318.9 620.1h0.01M292.5 656.2h0.01M263.9 667.9h0.01M270.5 653.4h0.01M498.7 523.8h0.01M341.2 629.9h0.01M421.4 563.1h0.01M467.2 554.9h0.01M483.6 530.3h0.01M434.5 547.8h0.01M407.4 569.2h0.01M343.5 601.2h0.01M319.9 640.9h0.01M494.9 523.8h0.01M424.4 585.2h0.01M350.7 624.9h0.01M456.1 561.6h0.01M435.7 550.2h0.01M426.6 582.9h0.01M325.6 644.1h0.01M369.1 592.9h0.01M285.1 660.8h0.01M486.4 545.7h0.01M420.6 588.0h0.01M378.8 613.7h0.01M432.6 543.0h0.01M273.0 647.4h0.01M434.7 555.0h0.01M419.6 591.2h0.01M308.8 648.1h0.01M421.4 585.2h0.01M263.5 668.2h0.01M397.9 568.4h0.01M400.4 573.3h0.01M287.6 639.6h0.01M456.4 562.7h0.01M410.8 567.9h0.01M285.8 659.0h0.01M499.0 523.1h0.01M289.6 636.6h0.01M403.7 596.9h0.01M349.1 599.7h0.01M288.0 638.8h0.01M433.3 580.9h0.01M244.3 673.7h0.01M451.6 566.1h0.01M373.3 618.1h0.01M415.3 587.1h0.01M290.6 639.1h0.01M402.5 595.2h0.01M308.8 652.6h0.01M436.3 553.1h0.01M484.0 544.0h0.01M391.7 573.9h0.01M456.8 535.8h0.01M330.3 614.1h0.01M468.8 554.9h0.01M448.6 543.5h0.01M440.4 549.3h0.01M460.6 537.4h0.01M493.0 522.2h0.01M330.2 642.8h0.01M464.8 558.3h0.01M464.4 537.8h0.01M413.2 564.0h0.01M473.6 552.6h0.01M445.1 571.6h0.01M296.2 632.6h0.01M483.5 528.4h0.01M460.7 563.3h0.01M450.6 542.2h0.01M317.2 642.7h0.01M316.7 650.5h0.01M308.7 650.3h0.01M399.2 597.5h0.01M415.0 559.8h0.01M423.5 558.3h0.01M439.8 539.9h0.01M476.4 550.1h0.01M384.8 581.8h0.01M274.1 650.0h0.01M302.1 652.2h0.01M461.6 537.0h0.01M313.2 619.7h0.01M353.6 600.9h0.01M456.9 541.4h0.01M277.0 640.9h0.01M412.4 594.3h0.01M426.2 558.9h0.01M294.2 655.6h0.01M423.6 558.4h0.01M382.1 580.1h0.01M362.3 619.8h0.01M284.6 661.8h0.01M393.1 575.3h0.01M436.1 576.1h0.01M298.8 662.8h0.01M423.4 583.2h0.01M391.2 600.1h0.01M455.2 565.3h0.01M314.4 656.9h0.01M328.1 615.7h0.01M339.5 636.1h0.01M486.1 544.6h0.01M443.7 576.4h0.01M408.4 568.8h0.01M472.8 534.2h0.01M273.0 665.3h0.01M361.3 593.5h0.01M442.9 549.7h0.01M326.1 609.9h0.01M467.7 559.5h0.01M245.1 674.0h0.01M320.5 643.2h0.01M449.6 572.2h0.01M340.1 606.3h0.01M255.3 665.7h0.01M378.8 574.0h0.01M374.6 615.2h0.01M458.0 564.4h0.01M403.5 598.5h0.01M336.7 632.7h0.01M488.0 543.1h0.01M451.0 564.3h0.01M288.0 665.0h0.01M416.0 565.4h0.01M386.9 573.8h0.01M345.2 605.4h0.01M471.2 533.4h0.01M408.5 562.5h0.01M296.8 633.7h0.01M471.4 555.0h0.01M344.3 630.8h0.01M367.6 613.9h0.01M456.7 542.1h0.01M284.5 660.0h0.01M290.3 634.4h0.01M280.0 644.7h0.01M507.4 531.9h0.01M325.3 617.7h0.01M408.0 564.2h0.01M325.0 610.4h0.01M462.3 529.0h0.01M416.3 588.5h0.01M449.7 541.2h0.01M286.1 659.3h0.01M409.5 592.0h0.01M419.2 560.5h0.01M440.7 573.3h0.01M415.1 590.3h0.01M484.3 548.3h0.01M345.6 605.9h0.01M325.6 614.3h0.01M484.7 543.5h0.01M373.7 587.1h0.01M408.9 590.6h0.01M326.9 637.2h0.01M272.0 652.0h0.01M404.9 595.5h0.01M367.2 592.5h0.01M407.3 594.9h0.01M443.6 573.3h0.01M325.9 615.9h0.01M432.1 577.7h0.01M486.9 527.8h0.01M277.9 645.1h0.01M342.8 631.7h0.01M478.1 527.0h0.01M509.3 514.8h0.01M500.7 523.9h0.01M248.9 666.1h0.01M307.1 650.0h0.01M345.4 629.0h0.01M309.9 626.6h0.01M502.0 539.0h0.01M297.6 629.3h0.01M493.2 524.8h0.01M478.6 547.6h0.01M334.0 635.4h0.01M453.2 543.4h0.01M396.0 574.6h0.01M472.7 553.4h0.01M436.5 579.3h0.01M422.0 561.7h0.01M352.9 600.8h0.01M301.2 654.3h0.01M320.5 646.1h0.01M308.6 651.6h0.01M418.1 590.0h0.01M291.1 638.7h0.01M351.3 601.5h0.01M426.4 557.3h0.01M433.6 576.9h0.01M392.0 600.0h0.01M340.0 631.2h0.01M283.4 666.7h0.01M419.4 562.1h0.01M300.2 651.6h0.01M352.9 596.6h0.01M470.6 530.4h0.01M456.5 540.7h0.01M298.9 634.4h0.01M457.5 543.0h0.01M439.0 575.1h0.01M455.7 566.3h0.01M359.4 617.8h0.01M466.4 556.7h0.01M281.2 668.2h0.01M341.3 608.0h0.01M345.2 629.5h0.01M431.3 549.6h0.01M340.3 600.3h0.01M329.7 636.9h0.01M487.8 528.6h0.01M418.6 561.7h0.01M477.3 550.6h0.01M417.3 587.7h0.01M380.8 584.3h0.01M344.3 601.2h0.01M469.7 535.1h0.01M383.1 606.8h0.01M412.0 589.8h0.01M415.2 597.6h0.01M269.4 653.4h0.01M509.9 513.6h0.01M424.8 583.9h0.01M429.2 557.4h0.01M446.6 569.9h0.01M441.0 547.5h0.01M382.9 606.1h0.01M350.0 626.7h0.01M476.7 549.5h0.01M401.3 570.1h0.01M352.9 599.2h0.01M317.9 622.3h0.01M416.8 562.4h0.01M315.9 623.0h0.01M326.5 639.2h0.01M423.2 560.7h0.01M306.4 625.2h0.01M407.8 569.7h0.01M302.7 651.0h0.01M377.3 583.3h0.01M327.8 637.6h0.01M389.1 576.4h0.01M306.0 651.1h0.01M343.6 633.3h0.01M434.7 549.6h0.01M378.5 584.8h0.01M352.3 624.7h0.01M454.8 542.3h0.01M366.2 617.3h0.01M283.3 660.2h0.01M378.3 587.7h0.01M442.4 547.8h0.01M344.7 628.7h0.01M374.2 585.4h0.01M452.2 544.8h0.01M313.6 622.3h0.01M476.1 534.3h0.01M318.2 649.4h0.01M365.1 616.2h0.01M357.2 592.3h0.01M322.8 618.1h0.01M455.5 564.4h0.01M418.5 586.6h0.01M389.9 605.2h0.01M307.8 648.4h0.01M357.2 595.2h0.01M463.2 538.0h0.01M315.4 620.8h0.01M384.5 578.6h0.01M302.7 629.9h0.01M369.4 615.9h0.01M357.4 594.7h0.01M439.5 571.3h0.01M257.3 669.2h0.01M458.8 565.9h0.01M344.0 631.6h0.01M447.3 568.3h0.01M323.8 640.2h0.01M335.6 609.2h0.01M477.4 551.4h0.01M405.4 568.6h0.01M346.1 596.8h0.01M381.5 577.9h0.01M347.1 605.3h0.01M267.8 665.8h0.01M350.8 599.7h0.01M416.6 559.4h0.01M477.1 528.7h0.01M321.9 617.2h0.01M476.2 530.6h0.01M384.5 604.3h0.01M487.5 542.7h0.01M481.9 529.6h0.01M343.9 605.7h0.01M374.7 580.7h0.01M465.7 557.8h0.01M313.9 625.5h0.01M426.7 558.1h0.01M351.6 601.0h0.01M291.9 656.3h0.01M359.9 596.3h0.01M299.9 631.6h0.01M338.0 632.3h0.01M339.5 607.6h0.01M479.5 547.3h0.01M498.9 517.3h0.01M354.1 621.9h0.01M328.4 639.5h0.01M282.8 643.7h0.01M377.4 582.2h0.01M470.2 535.7h0.01M266.9 656.8h0.01M275.3 663.8h0.01M362.4 621.4h0.01M329.0 637.7h0.01M320.7 619.8h0.01M470.3 553.8h0.01M364.5 592.0h0.01M299.8 630.4h0.01M365.4 591.1h0.01M345.1 602.6h0.01M300.9 623.2h0.01M320.8 619.5h0.01M331.1 612.3h0.01M324.2 613.9h0.01M423.6 559.8h0.01M355.8 623.5h0.01M308.9 626.6h0.01M340.4 606.1h0.01M485.5 546.7h0.01M405.5 593.9h0.01M468.8 536.4h0.01M363.9 592.4h0.01M396.5 597.8h0.01M294.7 662.7h0.01M435.8 576.2h0.01M452.9 567.5h0.01M352.1 628.8h0.01M461.2 560.5h0.01M410.1 563.2h0.01M402.8 572.2h0.01M279.3 646.1h0.01M315.9 649.1h0.01M354.1 600.7h0.01M413.7 590.6h0.01M511.9 525.2h0.01M407.0 592.0h0.01M301.9 630.5h0.01M424.7 581.8h0.01M361.5 621.2h0.01M251.2 666.6h0.01M336.4 611.0h0.01M334.4 639.0h0.01M426.0 583.1h0.01M336.3 633.8h0.01M386.2 580.9h0.01M337.4 607.7h0.01M354.0 597.4h0.01M433.1 554.8h0.01M422.9 560.8h0.01M479.0 548.3h0.01M367.4 615.2h0.01M445.9 544.5h0.01M330.0 613.5h0.01M333.4 634.8h0.01M360.7 621.6h0.01M329.6 613.8h0.01M361.7 618.9h0.01M495.2 527.0h0.01M332.0 634.9h0.01M313.3 624.4h0.01M472.2 552.2h0.01M342.8 601.2h0.01M282.3 645.1h0.01M410.4 591.9h0.01M338.3 608.4h0.01M362.4 617.8h0.01M298.1 627.3h0.01M347.4 601.5h0.01M422.3 560.8h0.01M301.4 655.3h0.01M299.8 627.0h0.01M487.3 550.2h0.01M407.1 594.6h0.01M384.5 605.4h0.01M274.6 648.9h0.01M469.7 535.7h0.01M287.4 640.0h0.01M260.3 670.4h0.01M411.6 589.5h0.01M425.8 559.4h0.01M262.6 671.7h0.01M451.3 543.5h0.01M338.1 631.1h0.01M413.6 563.0h0.01M393.0 601.4h0.01M277.0 647.0h0.01M384.0 583.1h0.01M297.3 631.5h0.01M261.9 667.9h0.01M276.4 663.1h0.01M383.9 580.3h0.01M301.4 657.6h0.01M297.8 631.8h0.01M379.7 582.9h0.01M314.2 648.5h0.01M312.6 647.2h0.01M491.9 526.8h0.01M266.4 670.0h0.01M432.4 577.8h0.01M463.8 559.1h0.01M479.4 530.6h0.01M369.8 615.3h0.01M401.3 595.9h0.01M454.4 539.6h0.01M460.4 560.6h0.01M454.8 563.1h0.01M274.9 664.3h0.01M400.0 598.5h0.01M359.5 619.3h0.01M414.6 561.5h0.01M460.3 561.8h0.01M304.7 628.5h0.01M368.2 592.8h0.01M343.5 628.4h0.01M413.4 565.5h0.01M428.8 557.6h0.01M487.6 542.4h0.01M448.5 547.5h0.01M322.6 617.4h0.01M278.7 643.3h0.01M369.1 613.5h0.01M495.8 520.7h0.01M450.1 567.1h0.01M355.1 622.3h0.01M382.9 584.7h0.01M469.3 535.8h0.01M327.5 610.9h0.01M263.4 658.4h0.01M370.0 614.2h0.01M293.2 633.5h0.01M394.9 576.0h0.01M262.7 661.0h0.01M245.9 675.3h0.01M500.4 529.6h0.01M328.2 615.3h0.01M314.0 651.4h0.01M467.5 556.0h0.01M486.5 541.0h0.01M367.2 589.2h0.01M384.3 613.3h0.01M473.4 551.6h0.01M423.4 561.7h0.01M426.5 581.4h0.01M305.8 649.3h0.01M387.9 604.5h0.01M336.8 631.9h0.01M248.5 666.7h0.01M320.5 644.6h0.01M380.2 610.4h0.01M351.2 601.8h0.01M404.3 598.2h0.01M306.2 628.9h0.01M500.9 531.6h0.01M268.1 649.8h0.01M434.3 551.7h0.01M309.9 647.1h0.01M329.1 614.0h0.01M398.3 569.3h0.01M471.6 532.2h0.01M496.7 537.6h0.01M407.9 595.5h0.01M391.3 601.0h0.01M405.1 598.2h0.01M333.5 612.3h0.01M385.0 579.0h0.01M467.3 556.6h0.01M451.1 541.0h0.01M441.2 582.2h0.01M468.0 531.4h0.01M335.3 635.9h0.01M458.6 538.1h0.01M362.1 630.0h0.01M314.9 646.0h0.01M480.2 531.2h0.01M286.3 640.3h0.01M341.1 606.1h0.01M488.7 528.2h0.01M326.3 614.6h0.01M397.9 599.5h0.01M392.3 576.1h0.01M453.5 569.3h0.01M335.2 635.5h0.01M360.3 589.8h0.01M439.2 550.7h0.01M325.0 617.1h0.01M469.2 554.3h0.01M396.0 574.2h0.01M418.7 588.4h0.01M385.7 607.4h0.01M457.5 566.4h0.01M454.7 541.0h0.01M331.4 612.9h0.01M392.7 577.1h0.01M438.1 546.2h0.01M479.8 531.2h0.01M430.5 551.2h0.01M466.2 537.1h0.01M498.3 523.2h0.01M303.5 623.4h0.01M358.1 590.0h0.01M323.9 637.6h0.01M279.9 645.8h0.01M409.9 589.8h0.01M336.9 630.8h0.01M355.6 624.1h0.01M356.1 629.5h0.01M260.9 672.8h0.01M357.5 594.4h0.01M431.7 555.4h0.01M368.1 587.8h0.01M283.8 664.1h0.01M345.9 630.9h0.01M281.6 644.8h0.01M361.0 618.1h0.01M445.4 545.7h0.01M285.0 637.7h0.01M310.7 652.1h0.01M502.0 519.5h0.01M327.0 616.9h0.01M399.7 599.6h0.01M451.5 570.1h0.01M353.2 596.3h0.01M300.8 631.2h0.01M286.1 658.3h0.01M351.7 600.1h0.01M293.8 655.3h0.01M476.8 527.3h0.01M448.8 574.0h0.01M339.0 602.1h0.01M340.2 630.1h0.01M326.0 636.3h0.01M319.3 621.4h0.01M356.3 594.6h0.01M458.0 539.2h0.01M488.1 541.1h0.01M416.0 563.4h0.01M257.6 663.7h0.01M282.9 660.4h0.01M432.2 577.6h0.01M333.2 635.2h0.01M462.5 558.5h0.01M386.9 603.9h0.01M377.0 609.9h0.01M270.3 669.5h0.01M416.5 562.4h0.01M447.5 545.1h0.01M399.5 573.3h0.01M325.1 612.8h0.01M311.0 649.1h0.01M364.3 594.1h0.01M279.8 647.4h0.01M261.6 671.9h0.01M443.7 549.3h0.01M337.2 610.7h0.01M253.3 659.0h0.01M285.5 659.2h0.01M425.4 586.8h0.01M390.7 607.1h0.01M419.3 583.4h0.01M274.3 649.2h0.01M395.0 572.4h0.01M489.9 540.2h0.01M307.2 650.2h0.01M441.4 574.7h0.01M262.3 658.6h0.01M495.4 524.5h0.01M396.9 571.9h0.01M342.6 605.6h0.01M405.0 567.1h0.01M337.7 632.8h0.01M333.2 613.5h0.01M439.1 546.6h0.01M329.1 640.2h0.01M486.6 527.7h0.01M252.2 671.4h0.01M320.3 618.5h0.01M323.2 616.1h0.01M263.5 669.7h0.01M380.9 606.1h0.01M329.9 613.6h0.01M462.2 558.8h0.01M282.0 661.5h0.01M488.5 528.6h0.01M357.1 597.2h0.01M417.7 586.3h0.01M461.0 538.9h0.01M433.6 554.4h0.01M439.2 549.5h0.01M387.8 604.4h0.01M477.4 550.7h0.01M484.2 542.8h0.01M273.1 647.7h0.01M265.9 669.5h0.01M471.7 567.4h0.01M321.6 616.5h0.01M328.2 614.0h0.01M314.5 624.1h0.01M476.2 552.5h0.01M367.7 593.9h0.01M273.5 647.6h0.01M319.8 649.2h0.01M462.5 561.6h0.01M440.7 575.7h0.01M440.5 551.8h0.01M354.0 599.2h0.01M392.2 577.6h0.01M444.8 541.4h0.01M502.6 520.7h0.01M432.6 575.9h0.01M401.6 572.4h0.01M455.5 540.9h0.01M416.3 594.1h0.01M310.7 622.8h0.01M443.7 571.2h0.01M418.2 563.5h0.01M275.4 664.4h0.01M358.5 597.9h0.01M426.4 581.4h0.01M487.5 525.5h0.01M331.9 611.8h0.01M280.2 644.2h0.01M432.9 577.7h0.01M478.2 532.7h0.01M402.2 599.7h0.01M406.3 567.4h0.01M429.4 554.7h0.01M476.6 550.3h0.01M485.5 521.4h0.01M484.9 525.8h0.01M412.1 589.0h0.01M418.2 563.9h0.01M286.8 636.8h0.01M271.0 650.1h0.01M451.6 566.2h0.01M247.7 672.4h0.01M409.0 568.6h0.01M509.5 520.2h0.01M385.4 603.5h0.01M413.0 595.4h0.01M346.1 604.8h0.01M261.0 645.3h0.01M297.0 655.4h0.01M455.6 567.5h0.01M382.7 612.9h0.01M351.0 625.0h0.01M433.9 553.7h0.01M341.7 630.9h0.01M456.8 542.7h0.01M301.3 666.8h0.01M275.6 676.9h0.01M506.1 522.1h0.01M423.3 560.4h0.01M330.4 613.6h0.01M399.0 597.7h0.01M462.4 558.7h0.01M338.0 636.8h0.01M471.3 552.3h0.01M396.2 575.2h0.01M451.4 565.6h0.01M272.5 666.5h0.01M499.7 530.3h0.01M444.6 549.2h0.01M278.1 647.4h0.01M319.5 642.0h0.01M347.7 628.0h0.01M486.3 541.4h0.01M313.2 623.1h0.01M433.0 552.0h0.01M394.4 574.0h0.01M456.5 562.8h0.01M271.7 671.7h0.01M428.8 580.4h0.01M324.1 642.2h0.01M468.4 558.1h0.01M309.6 647.0h0.01M424.5 559.6h0.01M443.0 570.4h0.01M338.1 630.9h0.01M403.6 595.5h0.01M446.4 569.7h0.01M496.6 535.5h0.01M257.7 672.4h0.01M297.5 652.9h0.01M456.1 562.5h0.01M279.7 646.6h0.01M469.5 530.8h0.01M386.2 608.3h0.01M449.0 565.8h0.01M295.9 635.2h0.01M424.3 585.3h0.01M293.5 635.2h0.01M435.1 552.7h0.01M466.7 534.6h0.01M433.1 546.5h0.01M462.8 539.1h0.01M388.1 604.1h0.01M394.4 577.5h0.01M445.2 548.3h0.01M428.1 558.4h0.01M349.1 624.0h0.01M419.5 552.1h0.01M288.8 663.5h0.01M405.3 570.0h0.01M434.2 580.4h0.01M299.4 651.9h0.01M306.8 649.5h0.01M440.9 573.5h0.01M313.8 623.3h0.01M350.8 603.8h0.01M379.9 610.8h0.01M279.7 666.6h0.01M462.1 569.2h0.01M509.9 528.6h0.01M332.1 636.1h0.01M394.7 599.6h0.01M400.8 594.8h0.01M394.4 599.4h0.01M281.6 644.4h0.01M354.0 624.8h0.01M406.6 568.6h0.01M301.5 651.0h0.01M331.8 643.6h0.01M341.7 631.2h0.01M495.3 536.9h0.01M482.8 545.7h0.01M467.0 535.9h0.01M387.4 607.7h0.01M346.7 605.3h0.01M372.3 591.2h0.01M292.7 637.0h0.01M432.6 577.6h0.01M375.1 610.6h0.01M284.6 640.8h0.01M420.0 560.8h0.01M298.2 622.7h0.01M305.8 628.9h0.01M426.9 580.8h0.01M316.3 644.7h0.01M326.9 637.4h0.01M284.8 641.2h0.01M377.9 611.5h0.01M321.8 640.1h0.01M421.3 560.1h0.01M487.5 525.1h0.01M482.4 544.3h0.01M398.3 573.3h0.01M466.0 557.1h0.01M432.4 579.0h0.01M247.2 667.3h0.01M315.8 646.0h0.01M391.4 577.4h0.01M447.2 548.2h0.01M313.5 644.4h0.01M317.0 645.9h0.01M301.5 653.2h0.01M313.8 650.1h0.01M327.3 614.0h0.01M398.5 599.8h0.01M351.6 599.8h0.01M384.2 581.3h0.01M485.1 529.6h0.01M287.0 658.5h0.01M446.9 545.2h0.01M273.4 648.5h0.01M339.4 609.7h0.01M435.7 554.1h0.01M383.3 606.1h0.01M269.7 665.2h0.01M272.8 666.1h0.01M307.2 625.7h0.01M444.4 548.4h0.01M354.4 599.7h0.01M387.2 580.2h0.01M364.6 593.4h0.01M444.1 572.2h0.01M379.5 584.8h0.01M356.1 600.2h0.01M312.7 622.7h0.01M412.6 567.4h0.01M450.8 568.3h0.01M417.8 560.4h0.01M305.2 627.0h0.01M454.2 541.1h0.01M318.0 620.8h0.01M251.0 684.2h0.01M342.7 630.5h0.01M371.7 585.0h0.01M280.1 645.3h0.01M497.3 525.3h0.01M477.9 550.0h0.01M421.7 581.6h0.01M347.5 605.3h0.01M350.7 625.0h0.01M488.6 542.4h0.01M451.9 545.1h0.01M444.8 569.8h0.01M490.7 544.1h0.01M293.7 639.3h0.01M366.3 591.7h0.01M483.4 545.5h0.01M249.5 679.2h0.01M263.4 669.1h0.01M259.1 670.1h0.01M450.5 544.6h0.01M420.0 589.2h0.01M264.3 667.0h0.01M261.8 668.9h0.01M444.9 534.5h0.01M433.2 556.1h0.01M274.8 650.7h0.01M325.9 614.3h0.01M387.8 577.5h0.01M351.8 627.4h0.01M468.8 520.2h0.01M417.5 559.3h0.01M495.7 534.4h0.01M342.4 599.8h0.01M316.1 644.2h0.01M386.0 579.5h0.01M432.3 552.9h0.01M260.2 649.4h0.01M472.3 534.5h0.01M504.3 527.4h0.01M341.1 633.0h0.01M307.6 648.2h0.01M347.0 627.5h0.01M310.6 645.9h0.01M504.6 519.5h0.01M443.2 547.7h0.01M350.3 601.8h0.01M372.6 615.7h0.01M417.9 585.7h0.01M326.1 641.2h0.01M348.5 599.6h0.01M431.3 553.8h0.01M432.5 554.0h0.01M323.6 641.3h0.01M256.9 671.9h0.01M274.1 646.3h0.01M332.3 637.1h0.01M336.3 631.5h0.01M444.5 545.5h0.01M404.7 566.9h0.01M464.1 534.8h0.01M438.2 574.7h0.01M308.7 648.0h0.01M448.3 544.4h0.01M392.9 570.4h0.01M450.9 566.1h0.01M323.5 642.6h0.01M492.0 525.2h0.01M338.7 607.8h0.01M448.4 571.7h0.01M290.2 657.3h0.01M347.9 629.3h0.01M280.7 645.3h0.01M399.7 598.9h0.01M258.8 670.0h0.01M335.7 610.4h0.01M468.9 555.3h0.01M451.8 566.8h0.01M412.9 566.3h0.01M318.8 620.4h0.01M389.8 609.5h0.01M429.5 583.3h0.01M354.0 598.4h0.01M447.0 568.8h0.01M288.9 659.9h0.01M250.2 670.5h0.01M359.8 592.7h0.01M319.8 645.8h0.01M510.9 519.5h0.01M392.2 570.9h0.01M494.0 536.4h0.01M484.6 543.7h0.01M447.9 567.7h0.01M381.6 609.1h0.01M282.5 642.3h0.01M375.4 613.1h0.01M362.5 593.7h0.01M427.4 553.3h0.01M341.1 606.0h0.01M290.9 659.4h0.01M417.3 565.1h0.01M379.6 608.0h0.01M466.7 537.6h0.01M423.7 583.3h0.01M510.6 521.7h0.01M484.2 543.3h0.01M406.5 593.9h0.01M456.1 562.8h0.01M304.6 628.2h0.01M370.6 585.6h0.01M321.6 619.9h0.01M316.2 645.7h0.01M360.6 596.1h0.01M494.7 525.3h0.01M379.2 585.0h0.01M381.0 610.2h0.01M454.8 541.4h0.01M438.1 546.1h0.01M423.0 581.6h0.01M347.8 601.7h0.01M405.1 571.9h0.01M511.8 513.0h0.01M438.2 549.8h0.01M418.4 586.9h0.01M344.7 630.4h0.01M373.0 587.9h0.01M344.9 605.1h0.01M324.4 638.7h0.01M325.8 614.8h0.01M483.2 521.6h0.01M266.0 656.9h0.01M405.3 570.3h0.01M268.0 669.5h0.01M340.1 605.8h0.01M401.9 594.5h0.01M457.7 562.3h0.01M305.8 621.3h0.01M347.5 604.9h0.01M505.8 531.0h0.01M507.1 532.9h0.01M335.4 631.7h0.01M290.2 656.8h0.01M475.3 556.3h0.01M450.9 568.5h0.01M395.1 571.0h0.01M329.1 610.5h0.01M351.8 624.0h0.01M337.1 642.5h0.01M339.6 597.8h0.01M271.3 665.2h0.01M353.0 600.2h0.01M272.7 652.2h0.01M279.2 665.3h0.01M350.6 634.0h0.01M301.4 652.6h0.01M481.5 524.4h0.01M315.5 617.6h0.01M293.9 662.5h0.01M291.9 655.4h0.01M463.8 561.2h0.01M393.0 573.8h0.01M471.3 533.4h0.01M470.2 553.3h0.01M335.7 608.0h0.01M421.4 562.4h0.01M385.7 581.9h0.01M394.6 576.3h0.01M416.5 563.8h0.01M279.3 633.8h0.01M341.9 605.4h0.01M394.1 606.3h0.01M361.1 594.1h0.01M459.6 537.6h0.01M386.4 605.2h0.01M478.3 529.7h0.01M298.2 654.2h0.01M261.2 670.0h0.01M317.4 620.2h0.01M301.4 631.1h0.01M292.1 661.0h0.01M305.5 622.9h0.01M324.1 640.2h0.01M249.3 672.6h0.01M462.9 536.7h0.01M397.6 575.1h0.01M318.5 618.7h0.01M391.6 577.6h0.01M501.6 520.2h0.01M374.4 616.7h0.01M282.8 663.8h0.01M330.8 637.5h0.01M341.1 631.9h0.01M341.7 604.8h0.01M300.0 653.8h0.01M475.0 548.5h0.01M473.4 531.9h0.01M282.6 660.3h0.01M421.0 560.3h0.01M451.9 543.4h0.01M373.1 588.3h0.01M474.2 551.1h0.01M433.1 577.6h0.01M453.1 539.4h0.01M432.3 553.6h0.01M415.9 587.2h0.01M379.3 610.5h0.01M296.3 655.6h0.01M407.0 570.5h0.01M442.0 571.6h0.01M280.5 643.4h0.01M281.9 643.5h0.01M338.8 631.5h0.01M488.1 541.0h0.01M392.4 578.9h0.01M304.5 657.9h0.01M446.0 548.5h0.01M290.6 658.3h0.01M421.4 559.6h0.01M279.6 663.6h0.01M443.4 573.0h0.01M397.5 598.1h0.01M469.8 536.1h0.01M433.7 580.6h0.01M383.0 580.8h0.01M325.2 617.0h0.01M509.1 523.2h0.01M389.5 577.1h0.01M286.5 639.1h0.01M392.8 602.5h0.01M263.8 667.3h0.01M395.4 578.1h0.01M382.3 610.4h0.01M350.3 625.9h0.01M473.7 534.6h0.01M358.5 622.3h0.01M330.8 636.2h0.01M328.0 637.4h0.01M302.4 627.3h0.01M318.7 620.0h0.01M256.9 664.8h0.01M415.9 563.0h0.01M310.1 647.7h0.01M462.3 561.0h0.01M366.8 591.8h0.01M346.9 603.8h0.01M300.8 631.4h0.01M363.5 589.4h0.01M415.3 590.6h0.01M338.9 630.0h0.01M263.0 668.8h0.01M355.0 624.1h0.01M441.3 550.7h0.01M276.9 646.9h0.01M361.1 620.2h0.01M394.7 602.3h0.01M357.5 594.4h0.01M450.8 567.3h0.01M361.8 594.7h0.01M426.6 583.1h0.01M372.6 588.6h0.01M457.7 561.3h0.01M429.4 555.8h0.01M340.5 633.4h0.01M475.9 532.7h0.01M485.1 527.5h0.01M495.7 524.6h0.01M440.1 573.1h0.01M357.5 596.2h0.01M415.3 564.7h0.01M450.7 545.0h0.01M306.0 628.0h0.01M363.9 594.7h0.01M449.7 568.1h0.01M420.7 587.0h0.01M329.0 641.8h0.01M489.5 523.8h0.01M477.5 532.7h0.01M278.4 644.3h0.01M336.3 631.6h0.01M376.7 608.8h0.01M380.8 586.0h0.01M423.4 558.0h0.01M366.0 616.9h0.01M293.4 631.2h0.01M351.5 624.8h0.01M405.1 593.1h0.01M299.6 633.2h0.01M276.7 646.3h0.01M299.2 651.6h0.01M486.0 527.4h0.01M352.6 599.1h0.01M442.6 576.7h0.01M316.9 645.0h0.01M491.1 539.7h0.01M492.4 545.4h0.01M346.6 630.3h0.01M433.9 554.7h0.01M362.7 618.4h0.01M259.4 675.2h0.01M323.2 642.5h0.01M407.9 568.1h0.01M300.9 629.1h0.01M310.3 626.4h0.01M272.8 652.7h0.01M435.4 575.9h0.01M293.7 637.7h0.01M359.2 618.9h0.01M478.6 549.1h0.01M340.6 635.5h0.01M254.7 664.9h0.01M400.7 565.1h0.01M488.8 525.9h0.01M335.8 611.3h0.01M337.8 608.5h0.01M394.7 575.5h0.01M376.1 584.4h0.01M290.6 630.3h0.01M285.5 640.8h0.01M463.8 559.4h0.01M360.5 595.5h0.01M400.0 605.0h0.01M345.9 629.9h0.01M309.3 648.3h0.01M265.2 653.0h0.01M262.0 660.5h0.01M485.0 528.6h0.01M456.1 541.9h0.01M366.0 594.3h0.01M449.9 567.4h0.01M375.3 609.4h0.01M415.7 563.2h0.01M443.7 571.1h0.01M354.5 600.0h0.01M330.4 639.9h0.01M389.5 578.7h0.01M306.9 648.4h0.01M437.2 552.3h0.01M461.8 536.5h0.01M376.5 611.0h0.01M441.7 549.6h0.01M347.4 603.4h0.01M346.9 631.2h0.01M464.4 536.5h0.01M338.8 607.7h0.01M487.7 528.4h0.01M482.7 544.3h0.01M318.2 641.2h0.01M308.3 627.1h0.01M449.1 567.4h0.01M296.2 633.8h0.01M371.4 589.9h0.01M279.5 646.0h0.01M474.5 532.7h0.01M396.2 598.3h0.01M302.6 630.8h0.01M306.4 627.9h0.01M355.0 601.4h0.01M435.0 554.2h0.01M320.1 620.5h0.01M313.0 652.1h0.01M407.5 568.0h0.01M418.4 562.9h0.01M313.7 646.0h0.01M460.7 561.1h0.01M389.0 578.0h0.01M379.3 582.9h0.01M351.9 623.0h0.01M449.3 539.3h0.01M417.2 560.4h0.01M397.5 598.0h0.01M291.4 632.7h0.01M280.8 642.8h0.01M476.2 550.1h0.01M431.6 550.8h0.01M340.2 601.6h0.01M394.8 576.5h0.01M397.7 606.9h0.01M471.1 534.7h0.01M306.0 650.3h0.01M438.5 574.9h0.01M508.6 523.3h0.01M395.6 600.3h0.01M382.3 605.6h0.01M359.5 598.3h0.01M463.9 560.1h0.01M367.8 619.1h0.01M423.3 582.7h0.01M368.8 591.0h0.01M476.2 548.0h0.01M491.8 538.0h0.01M301.5 652.5h0.01M292.5 656.7h0.01M424.1 582.8h0.01M282.7 662.9h0.01M405.6 593.9h0.01M460.6 560.6h0.01M481.0 553.4h0.01M417.2 564.4h0.01M479.5 528.5h0.01M457.2 540.1h0.01M342.6 604.6h0.01M332.3 611.9h0.01M447.8 570.1h0.01M452.0 565.5h0.01M405.1 571.6h0.01M406.4 592.9h0.01M314.5 644.6h0.01M487.0 542.2h0.01M358.9 620.4h0.01M489.4 527.4h0.01M386.6 608.4h0.01M457.1 564.4h0.01M279.9 644.9h0.01M443.1 548.2h0.01M391.7 600.3h0.01M296.7 633.0h0.01M417.1 564.8h0.01M473.4 534.2h0.01M477.2 553.9h0.01M377.7 612.5h0.01M413.2 567.0h0.01M289.8 661.9h0.01M488.3 527.5h0.01M388.4 574.8h0.01M321.8 640.0h0.01M363.8 620.3h0.01M510.5 522.9h0.01M382.7 581.5h0.01M486.6 527.4h0.01M402.0 569.4h0.01M411.9 560.6h0.01M415.3 590.0h0.01M407.8 593.0h0.01M376.8 611.3h0.01M315.1 645.8h0.01M288.3 658.1h0.01M288.6 638.9h0.01M255.0 663.2h0.01M386.4 604.6h0.01M350.9 601.5h0.01M475.7 548.9h0.01M483.7 523.6h0.01M470.2 532.9h0.01M301.1 622.4h0.01M387.7 578.9h0.01M260.2 671.6h0.01M465.8 534.0h0.01M450.1 566.9h0.01M306.3 628.1h0.01M333.5 613.6h0.01M309.4 650.2h0.01M432.4 577.4h0.01M457.7 541.8h0.01M285.7 638.8h0.01M310.5 625.4h0.01M358.7 621.8h0.01M293.7 663.6h0.01M340.6 602.3h0.01M454.0 539.9h0.01M266.9 666.6h0.01M401.2 594.7h0.01M463.1 565.9h0.01M298.9 627.6h0.01M504.0 520.1h0.01M296.4 655.2h0.01M268.5 665.8h0.01M248.9 672.9h0.01M451.4 542.8h0.01M386.0 605.0h0.01M335.2 636.9h0.01M270.7 664.9h0.01M276.4 648.0h0.01M285.5 659.6h0.01M311.2 647.4h0.01M410.6 593.9h0.01M376.0 610.9h0.01M420.4 584.0h0.01M488.1 522.4h0.01M466.8 536.0h0.01M285.8 640.6h0.01M472.6 553.1h0.01M504.6 529.6h0.01M339.2 630.9h0.01M330.5 612.8h0.01M284.5 644.0h0.01M357.7 597.3h0.01M477.3 532.9h0.01M484.9 527.7h0.01M284.2 660.2h0.01M506.5 517.4h0.01M286.0 661.7h0.01M434.0 575.8h0.01M279.3 667.3h0.01M318.8 645.9h0.01M314.0 650.1h0.01M322.6 610.4h0.01M264.6 671.0h0.01M325.8 638.2h0.01M268.5 669.8h0.01M400.3 573.5h0.01M461.6 560.6h0.01M397.4 575.5h0.01M324.5 618.5h0.01M260.3 672.9h0.01M282.9 665.8h0.01M327.1 613.7h0.01M410.9 566.2h0.01M305.7 653.8h0.01M312.2 647.2h0.01M243.9 670.6h0.01M266.2 666.4h0.01M456.4 537.7h0.01M358.0 621.0h0.01M370.1 613.1h0.01M329.4 635.3h0.01M490.6 527.0h0.01M287.2 636.2h0.01M335.7 611.4h0.01M352.0 600.3h0.01M468.0 536.5h0.01M447.0 567.7h0.01M323.2 641.3h0.01M304.4 651.2h0.01M306.3 650.7h0.01M502.9 516.1h0.01M389.4 577.1h0.01M485.2 525.4h0.01M288.5 639.5h0.01M266.1 654.5h0.01M253.1 668.1h0.01M480.5 550.0h0.01M450.2 546.2h0.01M402.8 594.5h0.01M423.9 586.4h0.01M408.5 597.4h0.01M416.0 564.4h0.01M317.5 646.8h0.01M383.1 606.4h0.01M474.0 554.2h0.01M274.6 666.4h0.01M426.3 557.5h0.01M412.6 588.5h0.01M411.8 592.6h0.01M311.7 624.3h0.01M397.5 575.1h0.01M289.4 637.8h0.01M373.2 612.3h0.01M319.9 643.1h0.01M346.6 626.5h0.01M261.1 668.0h0.01M382.9 581.4h0.01M368.5 613.6h0.01M251.7 667.9h0.01M452.7 540.4h0.01M320.9 617.3h0.01M457.6 568.9h0.01M284.1 661.0h0.01M433.4 550.6h0.01M468.1 554.7h0.01M489.7 558.3h0.01M388.5 604.1h0.01M325.4 638.6h0.01M477.7 547.8h0.01M335.5 612.0h0.01M331.4 638.8h0.01M332.2 613.4h0.01M367.6 616.2h0.01M389.2 604.2h0.01M382.5 585.2h0.01M430.0 553.6h0.01M270.5 665.2h0.01M445.8 549.2h0.01M497.2 522.7h0.01M263.0 672.1h0.01M483.0 552.0h0.01M424.1 560.0h0.01M323.6 619.9h0.01M265.9 668.8h0.01M456.8 541.8h0.01M400.8 568.9h0.01M436.1 551.4h0.01M462.7 560.4h0.01M431.5 577.3h0.01M289.6 634.8h0.01M423.0 595.3h0.01M490.2 538.9h0.01M471.3 557.3h0.01M372.7 588.4h0.01M239.5 679.3h0.01M251.4 677.8h0.01M241.5 665.5h0.01M233.2 683.4h0.01M245.7 677.1h0.01M228.3 675.5h0.01M219.5 686.2h0.01M226.7 673.3h0.01M256.2 663.1h0.01M229.9 677.5h0.01M237.4 670.5h0.01M252.6 662.1h0.01M248.3 670.8h0.01M267.0 665.8h0.01M238.4 674.0h0.01M233.3 684.0h0.01M222.4 683.0h0.01M229.0 675.9h0.01M233.5 688.0h0.01M249.0 671.3h0.01M221.3 687.9h0.01M262.4 668.3h0.01M262.4 668.3h0.01M237.7 680.4h0.01M224.0 691.3h0.01M219.9 689.9h0.01M247.5 676.0h0.01M254.3 672.6h0.01M256.3 672.6h0.01M228.5 688.8h0.01M234.6 671.0h0.01M267.6 648.2h0.01M244.5 665.5h0.01M225.7 688.2h0.01M230.6 684.5h0.01M226.7 681.4h0.01M250.1 669.8h0.01M242.2 673.6h0.01M234.7 684.6h0.01M229.4 686.5h0.01M257.3 656.0h0.01M265.2 661.2h0.01M255.0 669.4h0.01M266.0 661.9h0.01M260.8 672.8h0.01M235.8 679.1h0.01M253.0 675.7h0.01M222.4 685.5h0.01M255.1 659.0h0.01M230.4 685.7h0.01M268.0 657.0h0.01M265.1 659.3h0.01M240.7 677.4h0.01M241.9 667.6h0.01M247.4 672.2h0.01M235.8 680.9h0.01M253.5 665.2h0.01M245.6 673.4h0.01M242.2 678.3h0.01M248.1 673.4h0.01M244.5 670.3h0.01M230.5 687.0h0.01M244.6 661.1h0.01M238.6 683.7h0.01M263.7 665.4h0.01M249.1 673.3h0.01M265.7 653.6h0.01M224.4 695.8h0.01M224.8 685.5h0.01M264.1 658.0h0.01M254.1 672.7h0.01M235.8 684.0h0.01M231.9 677.3h0.01M263.1 662.0h0.01M255.0 675.5h0.01M258.2 661.9h0.01M254.7 669.5h0.01M258.8 661.2h0.01M267.4 658.4h0.01M244.0 682.5h0.01M251.8 672.1h0.01M220.3 697.0h0.01M237.2 674.7h0.01M237.5 682.5h0.01M222.8 691.6h0.01M230.2 694.0h0.01M256.8 673.7h0.01M260.5 665.1h0.01M244.0 677.7h0.01M240.8 672.2h0.01M227.3 681.8h0.01M255.9 667.7h0.01M255.1 652.1h0.01M266.7 661.2h0.01M236.8 674.3h0.01M231.9 684.1h0.01M241.0 684.7h0.01M247.9 680.5h0.01M221.8 687.6h0.01M259.1 662.5h0.01M231.3 682.0h0.01M234.3 673.1h0.01M252.9 665.5h0.01M223.0 688.9h0.01M259.9 665.8h0.01M224.4 691.7h0.01M221.6 689.2h0.01M233.3 680.8h0.01M257.6 662.0h0.01M242.1 677.6h0.01M233.8 686.4h0.01M247.7 676.6h0.01M240.0 677.8h0.01M238.4 681.7h0.01M262.7 664.0h0.01M264.6 665.1h0.01M226.2 685.8h0.01M228.0 680.5h0.01M262.1 664.5h0.01M236.5 682.5h0.01M267.1 660.7h0.01M226.3 689.1h0.01M262.1 659.0h0.01M232.5 683.1h0.01M250.8 663.5h0.01M229.5 682.0h0.01M241.9 673.2h0.01M240.2 668.2h0.01M248.8 670.2h0.01M248.2 665.4h0.01M249.9 660.7h0.01M245.7 666.1h0.01M224.4 687.5h0.01M224.7 689.4h0.01M220.9 691.7h0.01M258.9 668.3h0.01M250.3 667.0h0.01M258.5 664.0h0.01M253.1 681.6h0.01M268.3 658.8h0.01M246.7 671.7h0.01M241.4 670.0h0.01M240.6 667.5h0.01M230.7 687.0h0.01M237.9 679.5h0.01M221.5 689.3h0.01M255.2 656.8h0.01M225.3 688.7h0.01M235.3 689.0h0.01M244.0 662.6h0.01M248.8 667.3h0.01M244.6 676.9h0.01M252.0 679.7h0.01M229.0 689.6h0.01M253.2 669.1h0.01M237.0 675.8h0.01M237.7 673.8h0.01M249.0 682.8h0.01M256.2 668.2h0.01M251.4 677.0h0.01M242.9 672.5h0.01M247.5 673.2h0.01M235.8 684.1h0.01M265.4 671.7h0.01M254.3 673.7h0.01M264.8 671.7h0.01M243.8 676.7h0.01M220.6 685.0h0.01M234.0 671.8h0.01M238.5 680.0h0.01M520.0 514.2h0.01M506.9 514.4h0.01M536.5 508.9h0.01M525.8 516.7h0.01M498.3 530.5h0.01M511.9 520.8h0.01M511.6 520.8h0.01M533.5 502.8h0.01M519.6 517.0h0.01M522.8 515.3h0.01M534.5 515.4h0.01M530.9 504.0h0.01M504.5 531.3h0.01M510.5 512.4h0.01M510.1 524.0h0.01M516.5 523.4h0.01M525.5 509.9h0.01M510.3 514.5h0.01M519.0 512.8h0.01M512.6 526.9h0.01M515.9 529.9h0.01M516.1 521.3h0.01M516.2 513.9h0.01M520.0 508.4h0.01M510.3 520.7h0.01M526.4 519.6h0.01M510.3 521.4h0.01M509.1 525.7h0.01M534.5 515.1h0.01M515.2 527.0h0.01M530.6 508.4h0.01M499.6 530.2h0.01M512.7 526.5h0.01M516.3 519.1h0.01M501.6 524.5h0.01M526.0 513.8h0.01M529.2 502.5h0.01M535.1 508.2h0.01M531.4 523.8h0.01M503.1 519.5h0.01M492.0 543.0h0.01M531.9 508.7h0.01M494.1 531.6h0.01M528.6 512.8h0.01M522.3 516.9h0.01M526.4 506.1h0.01M515.7 527.6h0.01M495.3 527.6h0.01M491.3 534.9h0.01M531.4 516.6h0.01M529.8 510.8h0.01M519.1 515.7h0.01M502.1 530.1h0.01M515.3 505.9h0.01M510.8 532.2h0.01M514.4 522.6h0.01M518.2 515.2h0.01M514.3 526.0h0.01M508.7 521.1h0.01M500.5 533.9h0.01M511.2 516.6h0.01M518.2 526.6h0.01M526.0 512.2h0.01M492.5 523.6h0.01M493.6 534.0h0.01M498.1 528.9h0.01M517.7 520.8h0.01M524.8 501.4h0.01M508.3 524.9h0.01M531.3 503.8h0.01M509.2 525.2h0.01M495.8 523.9h0.01M495.3 530.5h0.01M508.2 519.2h0.01M515.2 511.2h0.01M528.8 501.2h0.01M492.0 524.1h0.01M509.4 517.9h0.01M523.1 512.2h0.01M494.1 540.7h0.01M515.9 516.0h0.01M530.4 514.7h0.01M516.5 508.7h0.01M519.6 521.8h0.01M522.6 512.2h0.01M509.2 523.4h0.01M490.5 519.2h0.01M525.1 518.5h0.01M494.5 528.8h0.01M501.1 538.3h0.01M500.6 530.8h0.01M534.8 491.8h0.01M494.9 533.2h0.01M510.5 526.8h0.01M495.0 529.2h0.01M525.2 512.0h0.01M492.1 530.0h0.01M523.0 515.9h0.01M502.0 511.1h0.01M493.8 528.2h0.01M492.7 531.4h0.01M523.6 511.3h0.01M501.6 528.5h0.01M496.5 537.0h0.01M511.8 524.9h0.01M534.1 499.1h0.01M499.6 528.2h0.01M511.7 529.3h0.01M512.3 524.5h0.01M532.0 507.4h0.01M523.1 511.0h0.01M521.3 524.0h0.01M523.4 504.1h0.01M535.7 502.1h0.01M509.7 523.5h0.01M496.7 522.2h0.01M497.6 531.5h0.01M511.3 515.7h0.01M526.5 509.8h0.01M525.2 521.0h0.01M515.7 509.5h0.01M502.1 528.5h0.01M491.6 539.9h0.01M505.3 531.5h0.01M505.9 517.1h0.01M509.2 527.2h0.01M517.1 524.0h0.01M525.3 512.9h0.01M499.7 530.2h0.01M508.2 518.4h0.01M496.1 524.2h0.01M512.8 529.0h0.01M524.9 510.6h0.01M511.9 521.3h0.01M531.8 511.1h0.01M492.3 535.1h0.01M527.2 519.5h0.01M518.9 518.9h0.01M489.7 538.2h0.01M512.8 537.6h0.01M501.8 518.5h0.01M523.0 515.3h0.01M535.0 510.6h0.01M523.8 512.7h0.01M522.7 504.6h0.01M515.8 528.0h0.01M528.2 501.9h0.01M515.9 523.0h0.01M506.4 537.6h0.01M520.5 521.0h0.01M535.1 509.8h0.01M513.0 525.3h0.01M500.4 528.0h0.01M496.5 544.6h0.01M520.3 516.5h0.01M522.2 506.9h0.01M529.1 500.5h0.01M515.5 526.1h0.01M509.2 516.3h0.01M527.3 508.7h0.01M519.8 516.2h0.01M528.4 512.6h0.01M502.6 530.2h0.01M524.0 509.6h0.01M533.7 504.6h0.01M505.9 525.3h0.01M516.2 513.2h0.01M513.8 511.8h0.01M529.0 495.8h0.01M507.1 520.9h0.01M551.1 508.8h0.01M555.1 499.6h0.01M545.7 499.2h0.01M569.3 488.9h0.01M563.4 482.8h0.01M571.3 485.6h0.01M555.1 507.3h0.01M561.0 495.3h0.01M554.2 496.6h0.01M545.6 491.9h0.01M548.1 497.9h0.01M554.9 490.6h0.01M543.6 506.9h0.01M569.2 491.5h0.01M557.8 487.4h0.01M548.3 490.2h0.01M552.6 491.6h0.01M537.2 513.0h0.01M568.1 487.9h0.01M562.6 499.5h0.01M557.5 496.6h0.01M564.3 485.5h0.01M558.4 499.5h0.01M554.7 507.8h0.01M562.9 500.5h0.01M213.2 691.6h0.01M199.3 702.1h0.01M192.5 704.6h0.01M193.1 711.1h0.01M190.3 705.4h0.01M207.8 695.1h0.01M219.2 694.2h0.01M200.6 699.0h0.01M211.3 684.6h0.01M189.5 707.3h0.01M646.7 434.0h0.01M659.4 433.2h0.01M629.7 441.9h0.01M653.6 452.0h0.01M657.3 451.2h0.01M660.7 449.9h0.01M632.8 458.4h0.01M638.7 456.8h0.01M644.0 456.0h0.01M619.0 464.5h0.01M621.7 465.3h0.01M607.6 461.9h0.01M611.0 464.0h0.01M593.5 476.5h0.01M597.0 475.0h0.01M578.9 479.1h0.01M582.4 483.1h0.01M561.6 491.6h0.01M565.0 494.3h0.01M572.3 491.1h0.01M554.2 479.9h0.01M545.7 488.4h0.01M538.5 484.4h0.01M550.5 504.9h0.01M564.6 501.7h0.01M582.9 503.8h0.01M106.4 765.3h0.01M109.4 741.7h0.01M110.4 742.7h0.01M112.1 739.3h0.01M117.6 741.3h0.01M119.2 743.8h0.01M127.4 733.0h0.01M129.4 732.6h0.01M129.2 737.3h0.01M138.4 728.1h0.01M138.4 732.3h0.01M143.5 734.0h0.01M148.5 752.6h0.01M150.5 725.4h0.01M154.6 721.7h0.01M171.1 719.7h0.01M175.8 733.8h0.01M181.4 730.9h0.01M174.4 712.7h0.01M183.6 700.3h0.01M187.5 710.1h0.01M190.1 714.2h0.01M193.8 697.4h0.01M197.9 708.6h0.01M200.4 706.6h0.01M203.0 684.5h0.01M203.0 695.2h0.01M204.4 710.1h0.01M208.5 691.1h0.01M214.7 668.2h0.01M216.3 697.4h0.01M221.8 701.9h0.01" stroke="#f5852a" stroke-width="2.20" stroke-linecap="round" fill="none"/>
<line x1="76.70" y1="771.00" x2="681.90" y2="422.50" stroke="#000" stroke-opacity="0.65" stroke-width="1.39" stroke-dasharray="5.3 2.3"/>
<rect x="76.70" y="422.50" width="605.20" height="348.50" fill="none" stroke="#000" stroke-width="1.35"/>
<path d="M140.30 771.00v5.2M76.70 734.48h-5.0M220.00 771.00v5.2M76.70 688.60h-5.0M299.70 771.00v5.2M76.70 642.73h-5.0M379.40 771.00v5.2M76.70 596.85h-5.0M459.10 771.00v5.2M76.70 550.98h-5.0M538.80 771.00v5.2M76.70 505.10h-5.0M618.50 771.00v5.2M76.70 459.23h-5.0" stroke="#000" stroke-width="1.5" fill="none"/>
<text x="122.66" y="789.80" font-size="15.30" textLength="35.15" lengthAdjust="spacingAndGlyphs" fill="#000" stroke="#000" stroke-width="0.1">−7.5</text>
<text x="33.00" y="739.93" font-size="15.30" textLength="35.15" lengthAdjust="spacingAndGlyphs" fill="#000" stroke="#000" stroke-width="0.1">−7.5</text>
<text x="202.19" y="789.80" font-size="15.30" textLength="35.43" lengthAdjust="spacingAndGlyphs" fill="#000" stroke="#000" stroke-width="0.1">−5.0</text>
<text x="32.67" y="694.05" font-size="15.30" textLength="35.43" lengthAdjust="spacingAndGlyphs" fill="#000" stroke="#000" stroke-width="0.1">−5.0</text>
<text x="282.06" y="789.80" font-size="15.30" textLength="35.15" lengthAdjust="spacingAndGlyphs" fill="#000" stroke="#000" stroke-width="0.1">−2.5</text>
<text x="33.00" y="648.18" font-size="15.30" textLength="35.15" lengthAdjust="spacingAndGlyphs" fill="#000" stroke="#000" stroke-width="0.1">−2.5</text>
<text x="367.81" y="789.80" font-size="15.30" textLength="23.17" lengthAdjust="spacingAndGlyphs" fill="#000" stroke="#000" stroke-width="0.1">0.0</text>
<text x="44.88" y="602.30" font-size="15.30" textLength="23.17" lengthAdjust="spacingAndGlyphs" fill="#000" stroke="#000" stroke-width="0.1">0.0</text>
<text x="447.55" y="789.80" font-size="15.30" textLength="22.97" lengthAdjust="spacingAndGlyphs" fill="#000" stroke="#000" stroke-width="0.1">2.5</text>
<text x="45.12" y="556.43" font-size="15.30" textLength="22.97" lengthAdjust="spacingAndGlyphs" fill="#000" stroke="#000" stroke-width="0.1">2.5</text>
<text x="527.29" y="789.80" font-size="15.30" textLength="23.01" lengthAdjust="spacingAndGlyphs" fill="#000" stroke="#000" stroke-width="0.1">5.0</text>
<text x="45.03" y="510.55" font-size="15.30" textLength="23.01" lengthAdjust="spacingAndGlyphs" fill="#000" stroke="#000" stroke-width="0.1">5.0</text>
<text x="607.00" y="789.80" font-size="15.30" textLength="22.85" lengthAdjust="spacingAndGlyphs" fill="#000" stroke="#000" stroke-width="0.1">7.5</text>
<text x="45.24" y="464.68" font-size="15.30" textLength="22.85" lengthAdjust="spacingAndGlyphs" fill="#000" stroke="#000" stroke-width="0.1">7.5</text>
<text x="296.41" y="816.40" font-size="21.00" textLength="168.07" lengthAdjust="spacingAndGlyphs" fill="#000" stroke="#000" stroke-width="0.25">QM Forces (eV/Å)</text>
<text transform="translate(21.80,696.74) rotate(-90)" x="0" y="0" font-size="21.00" textLength="200.50" lengthAdjust="spacingAndGlyphs" fill="#000" stroke="#000" stroke-width="0.25">Model Forces  (eV/Å)</text>
<rect x="83.30" y="434.20" width="202.70" height="34.10" rx="5.8" fill="#fff" fill-opacity="0.5" stroke="#000" stroke-opacity="0.45" stroke-width="1.25"/>
<text x="89.86" y="458.70" font-size="21.00" textLength="190.20" lengthAdjust="spacingAndGlyphs" fill="#3571b3" stroke="#3571b3" stroke-width="0.25">RMSE = 0.129 eV/Å</text>
<rect x="83.30" y="469.70" width="202.70" height="33.20" rx="5.8" fill="#fff" fill-opacity="0.5" stroke="#000" stroke-opacity="0.45" stroke-width="1.25"/>
<text x="89.86" y="493.70" font-size="21.00" textLength="190.20" lengthAdjust="spacingAndGlyphs" fill="#f27222" stroke="#f27222" stroke-width="0.25">RMSE = 0.152 eV/Å</text>
<rect x="562.4" y="697.40" width="110" height="64" rx="3.9" fill="#fff" fill-opacity="0.8" stroke="#ccc" stroke-width="1.11"/>
<circle cx="589.9" cy="713.40" r="4.6" fill="#3f7fba" stroke="#3070b0" stroke-width="1.1"/>
<circle cx="589.9" cy="742.60" r="4.6" fill="#eda05a" stroke="#ef8a3a" stroke-width="1.1"/>
<text x="624.24" y="720.30" font-size="21.00" textLength="40.30" lengthAdjust="spacingAndGlyphs" fill="#000" stroke="#000" stroke-width="0.25">GAP</text>
<text x="625.16" y="749.10" font-size="21.00" textLength="38.60" lengthAdjust="spacingAndGlyphs" fill="#000" stroke="#000" stroke-width="0.25">ACE</text>
<path d="M139.3 1145.4h0.01M414.8 988.3h0.01M422.3 999.6h0.01M254.9 1083.0h0.01M166.9 1130.7h0.01M337.2 1038.5h0.01M239.1 1092.2h0.01M143.1 1149.3h0.01M287.0 1064.5h0.01M194.7 1120.7h0.01M420.2 990.0h0.01M218.8 1105.0h0.01M384.9 1010.1h0.01M285.4 1062.7h0.01M251.1 1083.2h0.01M588.3 896.3h0.01M207.8 1109.7h0.01M358.7 1025.5h0.01M353.5 1025.6h0.01M251.5 1081.8h0.01M107.0 1168.2h0.01M597.7 890.6h0.01M416.8 990.1h0.01M223.9 1104.2h0.01M547.2 920.9h0.01M321.2 1048.9h0.01M248.2 1089.8h0.01M461.0 961.9h0.01M181.2 1132.7h0.01M276.8 1070.1h0.01M325.4 1045.4h0.01M139.8 1150.3h0.01M328.8 1043.4h0.01M552.0 916.8h0.01M278.5 1068.9h0.01M375.1 1015.3h0.01M374.0 1016.2h0.01M346.5 1036.5h0.01M403.1 999.9h0.01M371.8 1020.4h0.01M451.2 973.6h0.01M345.9 1033.6h0.01M226.3 1099.3h0.01M425.5 988.4h0.01M248.2 1081.5h0.01M368.8 1021.0h0.01M549.5 915.8h0.01M143.0 1147.0h0.01M505.8 943.0h0.01M381.0 1013.9h0.01M234.3 1093.1h0.01M164.3 1138.4h0.01M254.1 1082.8h0.01M362.9 1029.5h0.01M486.0 950.8h0.01M285.3 1065.2h0.01M322.7 1043.3h0.01M261.9 1080.8h0.01M376.4 1020.1h0.01M335.1 1040.3h0.01M129.7 1153.9h0.01M325.4 1051.0h0.01M294.2 1064.9h0.01M404.9 998.2h0.01M544.9 919.7h0.01M207.3 1105.7h0.01M499.7 945.7h0.01M168.3 1137.8h0.01M592.1 892.2h0.01M222.0 1099.4h0.01M401.0 1004.0h0.01M593.1 885.5h0.01M455.4 975.6h0.01M471.0 957.4h0.01M131.8 1150.3h0.01M283.2 1068.1h0.01M127.0 1159.2h0.01M260.1 1082.9h0.01M424.9 984.8h0.01M487.1 948.2h0.01M182.9 1125.1h0.01M389.3 1001.5h0.01M315.1 1047.9h0.01M502.2 941.8h0.01M576.5 904.1h0.01M212.7 1111.3h0.01M241.0 1084.2h0.01M217.5 1106.5h0.01M218.0 1106.9h0.01M130.6 1152.8h0.01M209.8 1106.7h0.01M219.2 1099.9h0.01M321.2 1046.6h0.01M264.7 1080.2h0.01M418.5 994.8h0.01M341.1 1041.4h0.01M402.9 986.3h0.01M360.4 1021.5h0.01M397.9 1005.7h0.01M192.0 1111.7h0.01M281.3 1063.7h0.01M248.1 1085.0h0.01M425.9 993.9h0.01M415.0 996.4h0.01M106.2 1166.4h0.01M416.1 989.0h0.01M358.8 1024.4h0.01M380.8 1013.3h0.01M206.0 1110.8h0.01M403.9 1002.2h0.01M510.5 938.4h0.01M378.4 1015.7h0.01M202.7 1112.5h0.01M409.9 992.7h0.01M207.1 1110.6h0.01M136.9 1153.0h0.01M297.3 1057.5h0.01M515.9 940.8h0.01M220.1 1104.6h0.01M281.2 1070.0h0.01M569.0 905.2h0.01M450.7 971.6h0.01M361.1 1020.8h0.01M447.6 977.9h0.01M452.2 981.0h0.01M251.0 1095.6h0.01M305.9 1057.0h0.01M337.1 1037.1h0.01M408.5 1000.4h0.01M313.2 1055.2h0.01M416.3 990.2h0.01M289.0 1067.6h0.01M330.8 1040.3h0.01M174.2 1129.8h0.01M217.5 1108.6h0.01M383.9 1008.7h0.01M385.2 1005.5h0.01M133.3 1151.8h0.01M171.0 1126.4h0.01M289.1 1069.7h0.01M237.1 1092.5h0.01M242.8 1089.2h0.01M227.0 1100.6h0.01M404.5 998.1h0.01M566.0 907.4h0.01M362.7 1023.5h0.01M139.7 1152.5h0.01M363.8 1023.1h0.01M254.7 1089.0h0.01M309.1 1053.6h0.01M200.2 1108.1h0.01M605.1 888.9h0.01M149.7 1138.3h0.01M353.4 1030.1h0.01M222.3 1109.1h0.01M517.4 939.7h0.01M646.8 859.6h0.01M174.4 1127.0h0.01M331.4 1040.2h0.01M524.8 936.5h0.01M170.0 1129.9h0.01M402.2 1005.1h0.01M183.9 1125.5h0.01M461.9 966.4h0.01M587.2 896.2h0.01M297.0 1065.1h0.01M123.3 1153.8h0.01M142.8 1142.8h0.01M316.0 1052.3h0.01M481.2 959.2h0.01M294.5 1056.9h0.01M249.2 1084.8h0.01M394.7 1002.0h0.01M398.3 1003.7h0.01M275.4 1069.6h0.01M374.4 1020.9h0.01M377.2 1017.8h0.01M467.6 964.9h0.01M359.5 1024.1h0.01M431.4 985.0h0.01M340.2 1041.9h0.01M142.6 1146.5h0.01M304.3 1057.7h0.01M477.1 961.7h0.01M198.2 1115.1h0.01M605.4 889.3h0.01M114.8 1163.2h0.01M307.4 1052.4h0.01M453.8 971.9h0.01M202.0 1118.5h0.01M342.4 1038.8h0.01M361.0 1020.7h0.01M511.6 940.5h0.01M381.5 1012.0h0.01M310.6 1051.8h0.01M312.5 1050.9h0.01M267.0 1077.1h0.01M207.7 1108.9h0.01M240.5 1090.6h0.01M239.9 1093.3h0.01M462.1 963.1h0.01M335.3 1034.5h0.01M190.3 1116.5h0.01M235.3 1090.5h0.01M501.1 946.8h0.01M346.7 1028.1h0.01M298.2 1058.6h0.01M357.0 1026.2h0.01M232.1 1095.1h0.01M362.8 1023.5h0.01M145.4 1140.8h0.01M490.5 949.8h0.01M533.8 926.9h0.01M577.7 903.7h0.01M192.4 1114.7h0.01M134.0 1153.3h0.01M544.0 925.4h0.01M413.8 994.0h0.01M379.7 1013.3h0.01M294.1 1065.7h0.01M372.2 1017.1h0.01M170.8 1129.1h0.01M417.3 984.9h0.01M353.5 1028.8h0.01M224.7 1100.4h0.01M118.1 1163.6h0.01M423.9 991.1h0.01M312.6 1050.3h0.01M220.6 1102.0h0.01M303.9 1047.4h0.01M375.3 1018.4h0.01M506.6 944.1h0.01M275.0 1073.3h0.01M209.4 1108.1h0.01M149.8 1145.4h0.01M277.9 1072.7h0.01M509.8 942.4h0.01M520.2 939.9h0.01M171.4 1128.8h0.01M301.3 1054.4h0.01M514.3 939.6h0.01M285.1 1069.4h0.01M200.6 1120.4h0.01M227.4 1099.2h0.01M291.5 1061.0h0.01M230.5 1093.6h0.01M319.1 1045.4h0.01M221.7 1096.1h0.01M370.1 1019.7h0.01M380.5 1012.3h0.01M383.8 1014.4h0.01M367.1 1018.4h0.01M330.5 1044.9h0.01M391.6 1002.1h0.01M221.6 1098.3h0.01M510.9 942.4h0.01M272.4 1083.0h0.01M193.8 1115.6h0.01M109.6 1162.3h0.01M494.8 952.2h0.01M635.8 866.9h0.01M322.0 1048.2h0.01M366.7 1019.2h0.01M323.1 1044.3h0.01M204.2 1114.9h0.01M276.6 1071.3h0.01M443.0 974.6h0.01M222.3 1104.9h0.01M510.1 929.4h0.01M355.5 1026.2h0.01M423.6 987.2h0.01M437.2 983.2h0.01M531.7 925.2h0.01M374.8 1017.2h0.01M254.9 1086.3h0.01M212.2 1107.8h0.01M405.5 1003.2h0.01M344.7 1027.9h0.01M562.4 911.1h0.01M531.5 927.5h0.01M121.6 1166.0h0.01M211.5 1108.5h0.01M224.7 1103.8h0.01M187.6 1121.5h0.01M145.9 1142.1h0.01M452.1 969.3h0.01M597.2 888.7h0.01M310.9 1053.7h0.01M209.7 1107.5h0.01M327.5 1044.2h0.01M448.9 978.7h0.01M260.4 1083.5h0.01M156.0 1142.0h0.01M323.3 1048.8h0.01M472.3 956.4h0.01M280.1 1067.2h0.01M240.8 1092.5h0.01M448.7 978.3h0.01M236.6 1096.5h0.01M291.2 1060.3h0.01M300.7 1057.9h0.01M230.8 1092.4h0.01M250.4 1088.8h0.01M643.8 859.9h0.01M118.5 1162.2h0.01M405.0 1003.0h0.01M533.2 929.6h0.01M322.8 1041.0h0.01M194.1 1118.9h0.01M417.0 991.8h0.01M312.7 1050.3h0.01M304.8 1060.8h0.01M408.7 998.0h0.01M585.1 894.4h0.01M181.3 1121.4h0.01M575.9 904.4h0.01M137.8 1150.6h0.01M580.4 896.8h0.01M306.0 1048.3h0.01M280.4 1068.7h0.01M110.4 1165.3h0.01M213.2 1108.4h0.01M209.0 1106.8h0.01M401.1 1004.3h0.01M460.5 970.1h0.01M180.5 1121.2h0.01M338.4 1034.9h0.01M322.6 1049.7h0.01M158.1 1137.4h0.01M455.7 969.5h0.01M290.1 1065.4h0.01M392.1 1003.6h0.01M248.7 1085.9h0.01M299.1 1054.2h0.01M180.6 1127.9h0.01M327.0 1042.8h0.01M366.4 1020.1h0.01M362.0 1015.7h0.01M281.0 1072.2h0.01M289.3 1065.3h0.01M509.5 937.1h0.01M281.1 1071.9h0.01M406.6 989.7h0.01M211.8 1108.4h0.01M188.0 1115.7h0.01M388.2 1005.4h0.01M369.3 1010.7h0.01M233.7 1093.2h0.01M387.6 1013.7h0.01M416.4 995.0h0.01M439.1 982.6h0.01M571.9 904.3h0.01M135.2 1149.7h0.01M144.2 1152.5h0.01M251.2 1082.7h0.01M210.1 1108.6h0.01M242.7 1095.0h0.01M279.0 1067.0h0.01M366.7 1019.3h0.01M193.0 1120.9h0.01M571.3 907.4h0.01M603.0 882.3h0.01M397.7 1003.1h0.01M416.1 998.1h0.01M308.0 1052.5h0.01M284.2 1070.7h0.01M246.0 1089.6h0.01M261.2 1081.2h0.01M519.6 927.4h0.01M253.5 1086.6h0.01M443.8 980.8h0.01M132.1 1153.6h0.01M513.9 938.0h0.01M158.4 1140.2h0.01M199.4 1115.3h0.01M383.5 1009.0h0.01M356.4 1017.8h0.01M142.4 1150.7h0.01M178.2 1123.2h0.01M474.1 959.7h0.01M121.3 1158.1h0.01M144.3 1143.7h0.01M592.0 889.2h0.01M459.3 966.3h0.01M384.2 1011.9h0.01M285.9 1065.3h0.01M480.9 953.0h0.01M442.1 982.7h0.01M205.2 1107.9h0.01M388.0 1010.2h0.01M346.0 1032.8h0.01M619.2 873.6h0.01M320.4 1045.5h0.01M193.3 1117.7h0.01M127.7 1159.0h0.01M398.8 1003.9h0.01M261.6 1078.6h0.01M307.2 1049.8h0.01M294.8 1055.9h0.01M269.0 1075.8h0.01M281.6 1065.1h0.01M325.7 1043.9h0.01M264.5 1077.1h0.01M243.3 1089.8h0.01M420.1 992.4h0.01M148.2 1144.0h0.01M312.1 1052.1h0.01M204.9 1110.3h0.01M206.1 1114.1h0.01M395.5 1007.5h0.01M569.0 910.7h0.01M512.4 942.6h0.01M277.9 1070.1h0.01M171.7 1125.8h0.01M346.8 1034.2h0.01M318.2 1050.0h0.01M289.1 1061.6h0.01M283.9 1071.4h0.01M206.0 1112.3h0.01M459.2 968.1h0.01M389.1 1008.5h0.01M421.2 986.1h0.01M146.9 1140.9h0.01M159.0 1137.8h0.01M142.1 1143.1h0.01M176.3 1128.3h0.01M458.4 968.2h0.01M236.9 1086.8h0.01M245.2 1087.5h0.01M401.0 1001.7h0.01M333.0 1034.4h0.01M134.8 1150.0h0.01M150.6 1138.5h0.01M486.0 945.9h0.01M354.2 1030.2h0.01M384.1 1014.9h0.01M379.7 1012.8h0.01M225.0 1100.4h0.01M212.8 1111.0h0.01M340.9 1037.6h0.01M351.9 1029.0h0.01M219.0 1108.6h0.01M313.5 1051.5h0.01M377.8 1012.4h0.01M365.6 1022.8h0.01M541.9 920.2h0.01M591.9 895.8h0.01M156.1 1138.0h0.01M333.9 1036.1h0.01M173.9 1126.9h0.01M252.1 1086.8h0.01M460.1 970.4h0.01M276.7 1071.9h0.01M419.0 987.3h0.01M144.9 1148.3h0.01M462.8 964.0h0.01M389.6 1003.4h0.01M370.1 1017.4h0.01M457.8 972.7h0.01M186.3 1123.9h0.01M208.4 1112.4h0.01M439.9 982.9h0.01M192.9 1120.8h0.01M161.1 1135.0h0.01M275.7 1074.5h0.01M251.4 1085.1h0.01M260.5 1080.8h0.01M129.2 1157.6h0.01M354.2 1027.0h0.01M200.7 1109.4h0.01M365.6 1021.6h0.01M202.6 1111.5h0.01M106.6 1166.8h0.01M294.6 1060.2h0.01M550.5 914.2h0.01M126.5 1150.1h0.01M414.0 994.9h0.01M541.7 922.0h0.01M344.6 1034.5h0.01M356.8 1019.3h0.01M228.9 1104.4h0.01M128.7 1157.0h0.01M250.5 1085.6h0.01M307.5 1056.8h0.01M536.6 923.6h0.01M487.9 953.4h0.01M277.5 1071.4h0.01M212.9 1109.7h0.01M428.1 985.0h0.01M621.7 877.7h0.01M254.7 1084.6h0.01M288.3 1066.8h0.01M168.7 1129.8h0.01M142.8 1144.7h0.01M412.5 992.1h0.01M164.4 1138.0h0.01M412.6 993.2h0.01M159.1 1140.7h0.01M325.4 1041.2h0.01M418.3 1000.3h0.01M583.0 896.5h0.01M355.8 1025.3h0.01M371.3 1019.8h0.01M250.0 1086.5h0.01M278.8 1068.1h0.01M441.4 981.6h0.01M136.3 1151.7h0.01M261.3 1064.9h0.01M147.1 1152.7h0.01M374.7 1014.2h0.01M415.5 992.3h0.01M570.1 901.8h0.01M621.8 873.0h0.01M173.3 1132.7h0.01M259.4 1090.3h0.01M502.1 945.1h0.01M285.2 1067.9h0.01M212.4 1105.3h0.01M424.8 983.4h0.01M497.9 950.1h0.01M190.9 1119.4h0.01M322.3 1049.5h0.01M193.0 1118.9h0.01M140.1 1150.4h0.01M241.4 1089.2h0.01M386.0 1008.4h0.01M439.2 979.5h0.01M347.7 1031.9h0.01M165.9 1137.6h0.01M290.9 1067.3h0.01M354.0 1018.3h0.01M169.6 1129.1h0.01M652.5 859.9h0.01M393.6 1006.3h0.01M174.0 1129.3h0.01M273.2 1071.4h0.01M115.8 1158.2h0.01M436.3 981.3h0.01M190.6 1118.0h0.01M171.3 1135.0h0.01M574.8 904.3h0.01M376.1 1014.6h0.01M563.6 912.1h0.01M548.5 925.7h0.01M418.8 990.5h0.01M160.4 1137.3h0.01M227.7 1098.5h0.01M133.8 1147.8h0.01M105.1 1167.0h0.01M477.9 954.7h0.01M360.5 1024.0h0.01M192.3 1118.8h0.01M298.3 1062.2h0.01M458.8 968.0h0.01M238.9 1096.1h0.01M594.9 889.9h0.01M342.6 1032.7h0.01M488.2 953.4h0.01M424.8 992.8h0.01M335.3 1042.2h0.01M215.7 1110.6h0.01M204.1 1115.6h0.01M390.5 1006.5h0.01M386.1 1009.0h0.01M401.4 998.0h0.01M218.4 1105.4h0.01M266.2 1088.2h0.01M236.4 1091.3h0.01M148.8 1141.1h0.01M425.9 981.2h0.01M530.2 936.0h0.01M463.0 968.7h0.01M413.4 989.1h0.01M377.5 1016.2h0.01M156.3 1136.5h0.01M520.8 926.7h0.01M269.8 1074.8h0.01M336.4 1038.8h0.01M174.1 1132.0h0.01M274.1 1071.1h0.01M168.0 1130.2h0.01M578.1 903.1h0.01M207.9 1112.3h0.01M373.6 1017.6h0.01M235.2 1094.6h0.01M391.6 1007.3h0.01M409.6 1000.7h0.01M138.4 1145.3h0.01M258.7 1078.0h0.01M325.5 1049.8h0.01M147.9 1145.6h0.01M209.4 1113.2h0.01M162.4 1136.5h0.01M133.7 1150.6h0.01M321.6 1043.6h0.01M632.1 870.2h0.01M342.7 1034.2h0.01M379.1 1014.1h0.01M224.6 1100.5h0.01M187.6 1122.7h0.01M350.6 1031.5h0.01M341.9 1038.1h0.01M453.7 968.8h0.01M257.6 1085.8h0.01M479.0 962.0h0.01M455.1 971.1h0.01M485.4 946.1h0.01M397.3 1006.3h0.01M246.4 1088.8h0.01M177.5 1126.5h0.01M359.3 1023.2h0.01M178.0 1126.6h0.01M334.3 1042.6h0.01M145.5 1148.3h0.01M412.0 996.6h0.01M148.3 1148.6h0.01M110.6 1168.5h0.01M388.0 1006.1h0.01M405.2 996.6h0.01M295.2 1058.3h0.01M124.6 1158.3h0.01M322.2 1045.5h0.01M390.8 1009.6h0.01M191.0 1121.5h0.01M254.4 1083.4h0.01M379.4 1009.9h0.01M364.7 1020.0h0.01M391.1 1014.0h0.01M464.8 963.8h0.01M119.5 1159.0h0.01M296.6 1058.9h0.01M286.6 1069.6h0.01M347.9 1030.9h0.01M251.7 1083.1h0.01M324.4 1042.5h0.01M132.4 1153.3h0.01M259.2 1081.0h0.01M127.7 1159.1h0.01M211.1 1116.0h0.01M213.0 1111.6h0.01M208.9 1111.7h0.01M514.8 937.2h0.01M137.2 1149.0h0.01M124.0 1160.4h0.01M317.9 1052.9h0.01M205.9 1114.2h0.01M575.2 902.5h0.01M378.5 1015.7h0.01M168.6 1132.0h0.01M263.1 1078.9h0.01M103.1 1168.6h0.01M438.8 979.5h0.01M266.7 1076.3h0.01M146.4 1148.8h0.01M191.4 1119.3h0.01M464.1 965.7h0.01M537.8 927.0h0.01M328.3 1044.8h0.01M648.0 865.2h0.01M505.7 941.2h0.01M326.4 1047.5h0.01M152.3 1141.0h0.01M144.6 1143.3h0.01M314.6 1052.4h0.01M241.1 1087.9h0.01M139.9 1146.8h0.01M376.5 1013.0h0.01M513.8 941.0h0.01M146.0 1154.2h0.01M545.0 921.8h0.01M354.6 1026.9h0.01M332.1 1045.5h0.01M211.0 1109.3h0.01M573.7 906.6h0.01M130.1 1158.5h0.01M230.8 1093.8h0.01M234.6 1094.6h0.01M217.3 1112.1h0.01M216.4 1104.6h0.01M405.7 999.0h0.01M190.3 1118.6h0.01M348.4 1033.3h0.01M458.1 967.5h0.01M481.7 952.5h0.01M291.6 1062.0h0.01M615.1 877.4h0.01M594.6 888.6h0.01M251.5 1083.0h0.01M144.5 1145.5h0.01M428.8 987.4h0.01M594.8 888.9h0.01M408.6 995.2h0.01M591.8 885.7h0.01M229.9 1095.9h0.01M246.3 1088.3h0.01M166.7 1129.1h0.01M320.6 1048.2h0.01M554.3 912.8h0.01M124.7 1157.7h0.01M135.1 1150.4h0.01M141.1 1143.4h0.01M329.3 1041.7h0.01M360.3 1025.8h0.01M377.5 1014.1h0.01M537.3 924.0h0.01M241.3 1087.0h0.01M384.2 1009.7h0.01M239.0 1095.8h0.01M259.8 1083.1h0.01M142.7 1144.3h0.01M145.0 1147.2h0.01M285.0 1067.3h0.01M352.2 1027.4h0.01M234.4 1097.6h0.01M241.5 1082.3h0.01M332.3 1041.3h0.01M294.5 1067.8h0.01M415.1 992.4h0.01M127.7 1149.8h0.01M215.6 1109.9h0.01M305.5 1062.7h0.01M135.1 1152.9h0.01M360.8 1021.4h0.01M158.6 1136.7h0.01M311.4 1051.5h0.01M331.9 1040.1h0.01M497.7 943.2h0.01M301.6 1058.4h0.01M255.7 1076.4h0.01M349.5 1030.4h0.01M574.6 903.2h0.01M266.3 1081.6h0.01M558.0 909.6h0.01M278.1 1066.0h0.01M119.4 1157.8h0.01M366.0 1022.2h0.01M364.6 1016.6h0.01M333.5 1044.0h0.01M268.1 1075.7h0.01M154.7 1141.7h0.01M349.8 1032.0h0.01M401.1 1003.4h0.01M603.0 891.5h0.01M171.9 1135.5h0.01M360.2 1024.2h0.01M424.5 988.6h0.01M288.2 1069.1h0.01M409.2 996.7h0.01M355.5 1025.6h0.01M174.5 1129.6h0.01M392.6 1003.7h0.01M523.5 932.3h0.01M423.8 979.2h0.01M345.2 1033.6h0.01M288.6 1069.0h0.01M441.7 980.2h0.01M427.1 989.0h0.01M140.5 1143.9h0.01M177.0 1124.9h0.01M607.2 886.9h0.01M205.6 1111.8h0.01M453.5 972.2h0.01M258.6 1079.6h0.01M496.6 946.7h0.01M139.5 1148.7h0.01M566.6 909.3h0.01M523.9 935.6h0.01M344.7 1036.0h0.01M291.6 1066.1h0.01M119.9 1161.1h0.01M496.8 940.7h0.01M269.7 1071.8h0.01M198.8 1115.3h0.01M421.7 986.7h0.01M145.3 1142.6h0.01M537.6 920.3h0.01M164.0 1134.7h0.01M158.8 1136.8h0.01M205.2 1109.8h0.01M264.4 1075.9h0.01M313.5 1049.9h0.01M353.6 1028.2h0.01M359.3 1021.8h0.01M277.0 1071.3h0.01M597.2 892.2h0.01M202.2 1113.1h0.01M299.1 1058.7h0.01M341.3 1031.6h0.01M385.8 1008.5h0.01M544.9 918.4h0.01M356.9 1026.8h0.01M353.9 1035.4h0.01M294.2 1064.3h0.01M299.8 1058.8h0.01M267.9 1078.0h0.01M192.7 1122.4h0.01M276.3 1073.5h0.01M143.5 1151.2h0.01M380.9 1010.8h0.01M308.7 1060.2h0.01M155.6 1137.4h0.01M403.3 1000.4h0.01M210.1 1106.7h0.01M215.1 1100.9h0.01M450.4 968.6h0.01M130.6 1161.0h0.01M189.5 1126.3h0.01M410.9 992.4h0.01M260.3 1082.3h0.01M391.4 1011.2h0.01M557.3 910.5h0.01M319.3 1048.7h0.01M444.9 983.2h0.01M397.2 1005.1h0.01M266.9 1080.8h0.01M405.4 1000.7h0.01M635.0 863.3h0.01M251.0 1083.4h0.01M420.9 985.6h0.01M215.6 1107.0h0.01M226.3 1096.1h0.01M170.4 1133.5h0.01M409.9 996.1h0.01M185.6 1121.4h0.01M357.6 1028.3h0.01M198.8 1114.3h0.01M209.3 1107.1h0.01M376.4 1019.2h0.01M376.6 1016.3h0.01M192.2 1114.2h0.01M278.6 1075.2h0.01M323.0 1043.2h0.01M259.1 1083.0h0.01M424.7 988.7h0.01M352.8 1028.6h0.01M351.6 1026.5h0.01M211.8 1108.4h0.01M621.0 876.4h0.01M122.3 1155.6h0.01M177.5 1129.4h0.01M146.8 1143.2h0.01M197.7 1114.3h0.01M107.1 1170.2h0.01M632.5 868.3h0.01M150.4 1137.7h0.01M304.4 1056.6h0.01M527.1 930.4h0.01M228.2 1098.7h0.01M272.7 1080.7h0.01M246.4 1087.2h0.01M387.4 1012.8h0.01M374.7 1018.5h0.01M409.3 1001.9h0.01M285.1 1066.7h0.01M179.2 1124.4h0.01M515.1 936.0h0.01M582.7 899.6h0.01M278.8 1071.4h0.01M147.6 1150.0h0.01M518.2 931.4h0.01M401.3 1003.7h0.01M298.0 1061.5h0.01M357.0 1026.9h0.01M552.5 913.2h0.01M351.4 1029.8h0.01M355.1 1023.7h0.01M400.0 1005.9h0.01M255.1 1080.6h0.01M410.7 996.4h0.01M387.7 1008.6h0.01M574.1 904.8h0.01M154.8 1137.3h0.01M487.3 955.5h0.01M505.5 942.1h0.01M348.7 1035.4h0.01M612.2 883.6h0.01M528.8 925.5h0.01M369.5 1014.8h0.01M129.8 1153.7h0.01M362.3 1028.3h0.01M346.3 1030.2h0.01M365.6 1020.0h0.01M135.3 1150.5h0.01M472.2 964.5h0.01M284.9 1063.0h0.01M344.4 1038.2h0.01M247.3 1088.2h0.01M128.6 1157.6h0.01M209.5 1110.4h0.01M115.9 1167.9h0.01M647.7 859.9h0.01M173.6 1132.7h0.01M205.4 1111.5h0.01M199.6 1111.6h0.01M417.3 991.8h0.01M292.0 1065.7h0.01M541.2 922.8h0.01M368.1 1020.0h0.01M646.6 863.1h0.01M387.6 1008.4h0.01M615.1 876.7h0.01M261.5 1078.7h0.01M129.1 1152.2h0.01M470.5 962.7h0.01M131.8 1155.5h0.01M388.5 1010.6h0.01M512.5 942.0h0.01M332.4 1039.5h0.01M395.0 1006.6h0.01M324.2 1041.5h0.01M492.0 950.3h0.01M493.3 948.9h0.01M218.0 1109.7h0.01M415.2 992.7h0.01M456.7 955.9h0.01M191.4 1117.8h0.01M567.0 910.1h0.01M480.7 957.9h0.01M368.8 1016.8h0.01M317.9 1054.1h0.01M244.2 1092.1h0.01M323.0 1040.0h0.01M195.6 1116.1h0.01M127.9 1150.5h0.01M345.7 1027.1h0.01M153.7 1140.2h0.01M309.1 1048.3h0.01M351.2 1031.3h0.01M240.2 1087.7h0.01M511.7 938.8h0.01M228.2 1103.5h0.01M284.8 1066.7h0.01M169.7 1131.3h0.01M587.7 899.4h0.01M377.3 1015.5h0.01M613.4 882.7h0.01M549.0 916.6h0.01M166.4 1132.7h0.01M357.0 1012.2h0.01M305.3 1053.4h0.01M208.1 1108.3h0.01M156.5 1140.2h0.01M353.0 1030.4h0.01M280.7 1075.2h0.01M382.8 1010.6h0.01M142.4 1145.1h0.01M348.7 1033.7h0.01M152.1 1143.7h0.01M220.4 1101.1h0.01M144.8 1140.0h0.01M222.2 1099.8h0.01M322.1 1050.6h0.01M388.6 1011.9h0.01M366.4 1018.1h0.01M337.4 1040.6h0.01M205.2 1109.4h0.01M332.7 1042.2h0.01M369.6 1017.5h0.01M268.6 1079.9h0.01M442.8 977.6h0.01M583.6 896.0h0.01M305.6 1056.9h0.01M574.1 902.5h0.01M310.3 1050.8h0.01M257.1 1082.4h0.01M317.9 1048.8h0.01M211.6 1110.9h0.01M264.1 1081.3h0.01M513.2 938.4h0.01M367.2 1018.2h0.01M406.9 999.3h0.01M497.2 947.2h0.01M439.9 980.2h0.01M295.4 1062.0h0.01M332.5 1039.8h0.01M244.1 1094.8h0.01M199.2 1113.0h0.01M389.4 1007.9h0.01M528.7 925.0h0.01M177.6 1127.5h0.01M157.4 1131.9h0.01M256.9 1082.9h0.01M201.0 1114.9h0.01M592.7 891.3h0.01M314.0 1050.9h0.01M507.0 939.4h0.01M227.2 1098.3h0.01M409.0 992.4h0.01M535.5 926.1h0.01M516.5 937.6h0.01M150.9 1139.2h0.01M455.4 968.5h0.01M386.2 1009.0h0.01M135.7 1150.9h0.01M341.8 1030.3h0.01M325.2 1045.5h0.01M355.9 1026.7h0.01M216.7 1106.6h0.01M277.8 1067.0h0.01M341.7 1030.9h0.01M143.2 1145.5h0.01M451.0 971.6h0.01M291.9 1068.3h0.01M320.4 1048.5h0.01M384.5 1014.2h0.01M365.6 1022.8h0.01M217.3 1103.7h0.01M346.6 1027.9h0.01M509.4 938.9h0.01M268.7 1077.2h0.01M358.5 1024.5h0.01M370.3 1019.5h0.01M418.9 992.1h0.01M582.4 896.4h0.01M314.0 1051.5h0.01M533.6 923.9h0.01M182.0 1125.5h0.01M188.1 1126.0h0.01M266.7 1071.0h0.01M232.1 1095.9h0.01M249.3 1087.5h0.01M367.0 1023.3h0.01M210.4 1109.0h0.01M433.9 980.1h0.01M383.5 1012.8h0.01M472.0 962.2h0.01M294.9 1055.6h0.01M367.4 1018.8h0.01M440.7 973.4h0.01M258.0 1075.2h0.01M323.8 1042.2h0.01M222.6 1099.7h0.01M301.3 1051.6h0.01M170.5 1136.0h0.01M409.2 991.6h0.01M393.6 1005.4h0.01M243.5 1092.2h0.01M585.5 903.1h0.01M571.6 904.1h0.01M423.2 992.8h0.01M476.3 957.3h0.01M234.2 1094.6h0.01M277.2 1071.2h0.01M175.3 1125.5h0.01M110.5 1167.3h0.01M157.1 1146.0h0.01M223.5 1109.1h0.01M377.3 1017.9h0.01M150.0 1140.2h0.01M230.5 1094.0h0.01M260.2 1081.2h0.01M494.3 950.6h0.01M295.7 1063.2h0.01M260.8 1078.6h0.01M147.7 1140.9h0.01M273.7 1074.6h0.01M444.3 976.0h0.01M440.5 973.7h0.01M351.9 1029.0h0.01M148.7 1145.8h0.01M132.7 1157.0h0.01M130.8 1159.9h0.01M276.1 1077.2h0.01M417.3 990.2h0.01M157.3 1136.8h0.01M284.8 1068.0h0.01M205.6 1110.5h0.01M447.3 968.6h0.01M202.3 1118.5h0.01M431.9 984.6h0.01M241.3 1095.5h0.01M271.2 1075.1h0.01M511.9 940.8h0.01M107.8 1167.6h0.01M545.5 919.1h0.01M301.5 1062.2h0.01M637.0 865.5h0.01M384.6 1012.8h0.01M368.7 1014.2h0.01M295.1 1063.6h0.01M399.1 1002.3h0.01M266.4 1072.8h0.01M476.6 954.0h0.01M185.9 1122.7h0.01M412.0 1001.2h0.01M207.1 1113.9h0.01M524.7 927.6h0.01M569.9 900.0h0.01M342.4 1042.2h0.01M380.6 1011.2h0.01M512.2 934.5h0.01M595.6 890.8h0.01M448.5 975.9h0.01M514.5 941.8h0.01M576.4 900.4h0.01M241.2 1088.3h0.01M241.9 1093.3h0.01M160.7 1133.4h0.01M209.7 1111.3h0.01M400.7 1002.4h0.01M280.0 1072.7h0.01M285.3 1064.0h0.01M596.4 888.1h0.01M211.9 1109.0h0.01M242.7 1092.3h0.01M350.7 1026.2h0.01M340.3 1030.9h0.01M304.2 1056.8h0.01M598.5 889.3h0.01M335.9 1044.1h0.01M354.8 1029.7h0.01M383.4 1004.3h0.01M356.6 1025.7h0.01M182.7 1123.5h0.01M294.5 1062.4h0.01M540.4 925.8h0.01M536.5 923.5h0.01M196.7 1120.9h0.01M314.1 1048.4h0.01M401.7 1005.0h0.01M297.6 1061.6h0.01M278.3 1069.6h0.01M275.6 1076.0h0.01M602.0 891.2h0.01M272.2 1072.0h0.01M142.2 1146.4h0.01M174.4 1132.3h0.01M417.1 989.4h0.01M592.9 894.4h0.01M201.1 1110.9h0.01M427.1 989.3h0.01M262.8 1076.0h0.01M359.9 1024.0h0.01M627.0 878.0h0.01M535.4 929.0h0.01M219.1 1102.6h0.01M456.1 969.1h0.01M370.1 1013.1h0.01M443.2 977.3h0.01M243.8 1092.8h0.01M312.6 1048.3h0.01M585.4 893.9h0.01M273.0 1074.0h0.01M198.3 1113.8h0.01M578.0 901.2h0.01M178.5 1132.1h0.01M267.3 1078.3h0.01M344.8 1035.5h0.01M288.2 1058.1h0.01M244.3 1090.1h0.01M598.3 892.1h0.01M403.8 999.9h0.01M357.5 1023.1h0.01M176.2 1132.3h0.01M154.2 1137.0h0.01M393.2 1006.7h0.01M196.0 1115.0h0.01M592.1 890.9h0.01M360.8 1020.8h0.01M134.1 1151.9h0.01M424.9 989.5h0.01M172.0 1134.5h0.01M275.6 1066.6h0.01M261.8 1081.3h0.01M168.5 1132.1h0.01M202.4 1110.9h0.01M529.9 928.0h0.01M172.7 1130.1h0.01M362.2 1023.1h0.01M199.0 1115.0h0.01M572.4 911.3h0.01M377.2 1016.2h0.01M503.3 944.2h0.01M397.9 1000.7h0.01M319.0 1051.0h0.01M438.3 978.7h0.01M380.0 1003.5h0.01M277.7 1068.6h0.01M191.9 1119.7h0.01M313.1 1049.8h0.01M630.6 868.2h0.01M126.7 1151.9h0.01M189.7 1120.5h0.01M268.0 1077.0h0.01M550.5 918.5h0.01M210.9 1114.2h0.01M581.7 904.6h0.01M409.1 995.2h0.01M631.3 870.0h0.01M374.6 1018.1h0.01M441.1 976.1h0.01M371.4 1021.8h0.01M463.3 968.1h0.01M188.1 1118.5h0.01M235.3 1095.6h0.01M563.3 914.2h0.01M428.7 987.0h0.01M241.8 1089.6h0.01M243.2 1089.4h0.01M604.8 886.4h0.01M397.2 1001.4h0.01M363.2 1023.1h0.01M139.3 1148.5h0.01M224.5 1099.7h0.01M537.2 921.4h0.01M161.3 1137.5h0.01M466.3 963.0h0.01M456.3 970.4h0.01M276.1 1067.6h0.01M317.8 1048.2h0.01M379.0 1015.1h0.01M156.7 1140.0h0.01M567.9 908.6h0.01M154.2 1144.6h0.01M177.2 1129.5h0.01M328.9 1042.8h0.01M380.4 1009.4h0.01M460.3 965.1h0.01M330.6 1037.9h0.01M175.5 1129.2h0.01M250.7 1090.1h0.01M613.5 883.4h0.01M222.8 1103.0h0.01M291.8 1065.4h0.01M525.4 930.7h0.01M145.2 1147.1h0.01M375.7 1015.4h0.01M634.6 870.2h0.01M475.5 958.9h0.01M157.4 1135.5h0.01M148.7 1141.4h0.01M200.8 1111.9h0.01M296.4 1065.2h0.01M445.0 980.7h0.01M396.0 1002.0h0.01M343.1 1032.5h0.01M250.9 1086.9h0.01M411.9 991.1h0.01M390.8 1013.2h0.01M399.2 1003.0h0.01M284.5 1066.9h0.01M433.8 986.3h0.01M391.0 1011.3h0.01M379.7 1014.8h0.01M454.6 973.6h0.01M213.5 1101.3h0.01M157.3 1138.5h0.01M103.9 1165.3h0.01M468.9 957.4h0.01M434.3 984.9h0.01M391.0 1013.5h0.01M177.7 1123.8h0.01M320.9 1042.8h0.01M598.7 893.6h0.01M256.5 1080.4h0.01M205.9 1111.0h0.01M601.7 878.9h0.01M585.1 898.3h0.01M200.9 1109.9h0.01M288.7 1066.4h0.01M459.3 970.9h0.01M500.6 946.2h0.01M538.6 926.5h0.01M237.1 1092.2h0.01M128.3 1157.5h0.01M404.3 999.0h0.01M303.1 1053.2h0.01M249.2 1081.4h0.01M223.6 1100.0h0.01M600.7 887.4h0.01M212.9 1109.1h0.01M183.6 1120.9h0.01M173.8 1125.4h0.01M239.6 1095.4h0.01M543.5 924.3h0.01M402.4 997.7h0.01M219.7 1104.3h0.01M306.1 1050.5h0.01M308.0 1053.1h0.01M287.8 1068.2h0.01M125.4 1159.6h0.01M296.7 1056.8h0.01M349.4 1031.2h0.01M190.4 1119.0h0.01M395.6 998.8h0.01M166.9 1131.8h0.01M408.9 998.3h0.01M296.3 1064.1h0.01M364.1 1023.4h0.01M209.9 1110.0h0.01M440.4 979.5h0.01M266.7 1078.9h0.01M327.6 1042.6h0.01M208.2 1109.3h0.01M225.8 1101.3h0.01M314.3 1053.0h0.01M413.5 994.8h0.01M505.3 943.9h0.01M447.9 972.9h0.01M610.4 877.9h0.01M356.1 1025.2h0.01M638.2 869.9h0.01M243.5 1088.7h0.01M160.3 1135.9h0.01M105.8 1167.3h0.01M223.2 1103.7h0.01M368.6 1019.0h0.01M260.2 1080.3h0.01M509.5 935.8h0.01M447.5 973.5h0.01M517.2 946.7h0.01M509.5 940.5h0.01M491.5 952.7h0.01M646.4 864.8h0.01M398.6 999.6h0.01M159.8 1141.6h0.01M354.9 1028.4h0.01M294.4 1058.3h0.01M384.6 1013.0h0.01M306.3 1052.4h0.01M556.1 914.3h0.01M402.5 996.9h0.01M297.7 1060.3h0.01M147.4 1147.6h0.01M543.5 920.1h0.01M531.5 923.8h0.01M597.1 889.5h0.01M303.6 1058.9h0.01M300.4 1053.2h0.01M542.9 918.1h0.01M512.3 941.0h0.01M191.2 1120.0h0.01M334.4 1040.2h0.01M177.0 1126.5h0.01M472.5 961.6h0.01M457.7 970.0h0.01M568.2 907.1h0.01M465.0 961.0h0.01M368.6 1018.8h0.01M409.8 992.5h0.01M252.7 1089.0h0.01M378.7 1011.7h0.01M600.6 891.2h0.01M330.4 1040.7h0.01M370.1 1016.5h0.01M612.4 884.7h0.01M297.2 1060.4h0.01M325.7 1050.9h0.01M193.2 1122.1h0.01M560.6 910.9h0.01M206.5 1113.8h0.01M387.7 1015.0h0.01M538.6 924.5h0.01M543.4 920.5h0.01M377.5 1021.9h0.01M173.5 1133.5h0.01M529.6 931.8h0.01M576.0 902.6h0.01M315.9 1048.2h0.01M390.6 1006.1h0.01M125.4 1160.8h0.01M241.3 1093.3h0.01M171.3 1131.8h0.01M145.0 1138.4h0.01M166.4 1136.5h0.01M269.4 1072.8h0.01M242.1 1083.5h0.01M329.2 1037.8h0.01M278.8 1072.7h0.01M154.9 1144.9h0.01M394.7 997.5h0.01M169.6 1127.6h0.01M251.2 1086.3h0.01M435.0 977.5h0.01M161.5 1134.6h0.01M511.7 936.2h0.01M379.0 1012.4h0.01M361.2 1019.2h0.01M211.4 1106.8h0.01M427.4 985.0h0.01M104.6 1168.7h0.01M302.0 1055.5h0.01M250.3 1089.1h0.01M302.7 1057.8h0.01M311.3 1057.4h0.01M184.8 1119.4h0.01M163.3 1135.4h0.01M571.5 907.8h0.01M262.6 1080.9h0.01M539.4 915.3h0.01M600.5 890.2h0.01M377.2 1013.5h0.01M536.9 932.1h0.01M241.9 1091.2h0.01M252.4 1087.0h0.01M438.9 977.0h0.01M248.7 1089.4h0.01M321.5 1036.3h0.01M258.4 1079.2h0.01M364.5 1021.7h0.01M570.6 900.8h0.01M534.1 928.8h0.01M249.5 1092.1h0.01M542.3 927.3h0.01M396.2 999.6h0.01M322.5 1041.7h0.01M200.7 1115.1h0.01M208.4 1108.1h0.01M179.6 1130.0h0.01M142.2 1160.8h0.01M312.3 1048.1h0.01M182.7 1125.2h0.01M378.2 1015.4h0.01M194.5 1118.6h0.01M338.1 1036.7h0.01M275.2 1070.6h0.01M315.0 1045.9h0.01M445.4 979.0h0.01M281.5 1074.9h0.01M420.9 985.8h0.01M502.2 940.2h0.01M110.8 1164.0h0.01M410.0 1000.0h0.01M195.1 1115.7h0.01M112.8 1170.2h0.01M530.1 934.4h0.01M304.0 1049.4h0.01M319.8 1049.8h0.01M462.3 968.7h0.01M597.5 889.1h0.01M208.9 1103.2h0.01M196.6 1118.0h0.01M118.5 1160.6h0.01M580.2 903.6h0.01M462.4 968.7h0.01M126.3 1153.1h0.01M252.7 1090.3h0.01M327.6 1048.4h0.01M598.5 894.3h0.01M282.8 1068.8h0.01M161.7 1139.5h0.01M521.9 933.2h0.01M261.4 1078.3h0.01M152.2 1136.9h0.01M172.6 1130.3h0.01M168.9 1127.2h0.01M216.1 1107.7h0.01M329.0 1037.1h0.01M389.0 1008.2h0.01M523.2 931.4h0.01M186.4 1121.4h0.01M176.5 1125.1h0.01M303.6 1053.8h0.01M215.4 1111.5h0.01M491.0 942.1h0.01M144.1 1144.6h0.01M417.3 995.0h0.01M388.4 1006.0h0.01M321.7 1043.4h0.01M353.1 1026.2h0.01M499.8 948.2h0.01M470.0 961.7h0.01M458.5 970.5h0.01M292.2 1064.6h0.01M232.4 1094.7h0.01M184.5 1128.7h0.01M217.9 1106.7h0.01M473.2 957.2h0.01M181.0 1123.1h0.01M537.3 924.5h0.01M582.4 895.1h0.01M384.0 1010.2h0.01M398.4 1005.0h0.01M585.9 897.6h0.01M201.0 1113.9h0.01M430.3 984.3h0.01M291.9 1059.9h0.01M141.4 1144.1h0.01M428.2 990.4h0.01M285.9 1065.1h0.01M296.7 1060.2h0.01M172.6 1130.4h0.01M379.8 1015.0h0.01M329.1 1041.9h0.01M418.6 986.4h0.01M247.4 1094.1h0.01M309.2 1049.5h0.01M268.2 1076.7h0.01M585.1 894.8h0.01M105.2 1169.9h0.01M321.3 1044.0h0.01M453.9 976.1h0.01M139.4 1151.5h0.01M221.4 1098.3h0.01M427.6 992.2h0.01M299.7 1051.9h0.01M399.7 1000.6h0.01M201.1 1117.0h0.01M130.7 1154.3h0.01M379.2 1017.8h0.01M437.6 980.4h0.01M445.4 972.7h0.01M363.0 1025.7h0.01M259.4 1082.5h0.01M415.6 990.1h0.01M283.0 1071.2h0.01M156.9 1137.0h0.01M417.2 988.4h0.01M117.1 1160.3h0.01M242.0 1098.8h0.01M433.5 989.0h0.01M383.0 1006.0h0.01M487.5 955.4h0.01M269.9 1078.1h0.01M419.8 988.7h0.01M630.7 873.8h0.01M133.2 1148.5h0.01M258.3 1079.9h0.01M193.7 1121.3h0.01M162.0 1135.9h0.01M202.5 1111.7h0.01M115.1 1161.9h0.01M263.9 1075.6h0.01M543.8 918.2h0.01M420.0 989.8h0.01M319.3 1047.8h0.01M178.0 1124.6h0.01M275.4 1078.0h0.01M429.7 979.0h0.01M342.3 1030.4h0.01M509.9 937.2h0.01M308.2 1054.2h0.01M382.4 1009.0h0.01M109.7 1167.5h0.01M456.9 965.9h0.01M246.2 1086.7h0.01M356.0 1028.0h0.01M245.3 1091.9h0.01M157.7 1142.0h0.01M283.0 1065.1h0.01M547.2 920.9h0.01M335.6 1040.5h0.01M130.1 1154.8h0.01M338.7 1038.5h0.01M527.4 930.1h0.01M183.9 1123.3h0.01M113.1 1166.2h0.01M425.8 993.0h0.01M272.4 1073.5h0.01M355.8 1029.1h0.01M217.5 1109.3h0.01M238.0 1089.7h0.01M131.6 1157.6h0.01M178.9 1126.8h0.01M255.0 1088.0h0.01M478.8 956.9h0.01M342.5 1031.9h0.01M109.9 1165.5h0.01M116.6 1162.9h0.01M371.9 1016.2h0.01M337.8 1039.8h0.01M381.1 1014.5h0.01M249.9 1083.8h0.01M536.6 926.1h0.01M332.0 1040.0h0.01M152.5 1141.4h0.01M170.6 1130.4h0.01M166.9 1129.7h0.01M575.2 899.6h0.01M255.6 1072.7h0.01M320.9 1042.1h0.01M138.9 1150.3h0.01M295.2 1058.2h0.01M442.7 980.3h0.01M490.3 952.5h0.01M233.8 1092.3h0.01M334.7 1039.3h0.01M598.0 897.1h0.01M306.9 1053.8h0.01M271.5 1074.8h0.01M136.3 1149.1h0.01M387.1 1007.4h0.01M467.6 964.8h0.01M370.1 1015.0h0.01M435.7 980.3h0.01M379.0 1011.3h0.01M287.2 1066.8h0.01M140.9 1148.1h0.01M297.8 1058.9h0.01M197.7 1115.2h0.01M216.7 1110.7h0.01M324.1 1045.6h0.01M406.6 998.9h0.01M413.1 998.5h0.01M346.9 1030.9h0.01M517.8 937.5h0.01M196.1 1114.6h0.01M383.1 1014.7h0.01M204.6 1106.0h0.01M365.4 1020.7h0.01M361.4 1021.8h0.01M610.8 881.0h0.01M362.3 1026.5h0.01M310.3 1053.9h0.01M110.3 1168.1h0.01M463.1 970.8h0.01M249.7 1087.1h0.01M339.0 1037.2h0.01M226.1 1100.4h0.01M401.3 1006.0h0.01M357.7 1028.3h0.01M641.2 864.5h0.01M574.6 901.5h0.01M421.2 988.3h0.01M156.8 1135.9h0.01M402.2 1000.5h0.01M417.2 993.1h0.01M451.6 975.9h0.01M526.7 928.7h0.01M520.0 932.5h0.01M447.3 979.7h0.01M290.0 1059.2h0.01M223.7 1097.8h0.01M236.8 1087.0h0.01M383.9 1009.7h0.01M396.6 1011.6h0.01M303.2 1054.4h0.01M193.8 1121.0h0.01M168.1 1137.5h0.01M267.5 1076.6h0.01M357.2 1022.4h0.01M353.3 1029.8h0.01M599.7 891.4h0.01M126.1 1152.4h0.01M580.3 897.4h0.01M479.6 961.8h0.01M115.8 1159.6h0.01M520.8 934.6h0.01M328.2 1045.2h0.01M382.5 1012.2h0.01M259.4 1081.6h0.01M593.1 891.8h0.01M185.6 1121.3h0.01M377.0 1012.6h0.01M129.6 1148.5h0.01M485.5 952.5h0.01M152.3 1140.3h0.01M166.7 1135.2h0.01M155.4 1138.0h0.01M439.0 977.6h0.01M286.8 1070.9h0.01M595.7 900.1h0.01M132.1 1156.6h0.01M297.6 1058.1h0.01M190.0 1120.9h0.01M167.7 1130.4h0.01M177.5 1125.7h0.01M371.9 1014.9h0.01M400.0 998.6h0.01M209.9 1106.6h0.01M472.2 955.0h0.01M234.5 1101.9h0.01M110.6 1161.9h0.01M208.0 1110.3h0.01M337.3 1038.7h0.01M369.0 1022.1h0.01M180.3 1130.9h0.01M155.9 1133.9h0.01M291.8 1067.3h0.01M259.5 1083.7h0.01M412.0 987.9h0.01M376.7 1012.3h0.01M180.6 1125.7h0.01M314.4 1047.0h0.01M512.7 944.5h0.01M133.6 1152.3h0.01M129.3 1155.9h0.01M190.6 1120.0h0.01M215.4 1113.8h0.01M159.9 1134.8h0.01M353.5 1025.3h0.01M380.2 1016.6h0.01M316.6 1050.8h0.01M340.3 1036.1h0.01M443.3 979.8h0.01M384.1 1013.3h0.01M133.3 1154.5h0.01M430.3 988.8h0.01M268.3 1075.4h0.01M168.1 1130.0h0.01M112.3 1165.1h0.01M573.5 903.9h0.01M389.5 1007.4h0.01M217.1 1108.6h0.01M145.1 1150.3h0.01M472.0 963.8h0.01M175.9 1125.7h0.01M336.4 1039.8h0.01M460.8 969.8h0.01M263.5 1081.9h0.01M527.6 926.4h0.01M540.3 918.1h0.01M544.7 914.5h0.01M519.9 932.9h0.01M536.7 917.7h0.01M534.4 922.5h0.01M523.1 926.5h0.01M541.9 919.3h0.01M525.8 925.8h0.01M534.8 922.7h0.01M539.9 921.0h0.01M526.8 925.6h0.01M528.9 927.3h0.01M521.6 924.1h0.01M544.6 914.4h0.01M528.3 926.1h0.01M521.8 927.7h0.01M541.6 918.9h0.01M606.9 876.3h0.01M597.7 886.0h0.01M602.8 879.6h0.01M598.5 888.0h0.01M575.9 898.8h0.01M597.3 886.6h0.01M587.0 895.5h0.01M604.7 881.5h0.01M603.9 878.8h0.01M599.0 881.1h0.01M573.9 898.5h0.01M584.6 897.3h0.01M584.9 893.5h0.01M599.7 883.2h0.01M568.4 900.0h0.01M591.8 890.0h0.01M605.7 879.2h0.01M579.6 895.2h0.01M605.0 880.8h0.01M597.9 885.1h0.01M594.0 887.7h0.01M573.5 903.4h0.01M86.3 1177.2h0.01M653.4 858.8h0.01M368.0 1021.5h0.01M369.1 1022.4h0.01M370.2 1023.2h0.01M371.2 1023.9h0.01M372.3 1024.4h0.01M373.4 1024.8h0.01M374.5 1025.0h0.01M375.5 1025.1h0.01M376.6 1025.0h0.01M377.7 1024.9h0.01M378.8 1024.5h0.01M379.8 1024.1h0.01M380.9 1023.4h0.01M382.0 1022.7h0.01M366.5 1018.5h0.01M384.0 1020.5h0.01M386.0 1016.0h0.01" stroke="#2f78b8" stroke-width="2.20" stroke-linecap="round" fill="none"/>
<path d="M108.1 1165.9 L109.8 1164.8 L111.6 1163.7 L113.3 1162.6 L115.1 1161.5 L116.8 1160.5 L118.5 1159.4 L120.3 1158.3 L122.0 1157.2 L123.8 1156.1 L125.5 1155.0 L127.2 1153.9 L129.0 1152.8 L130.7 1151.7 L132.5 1150.7 L134.2 1149.6 L135.9 1148.5 L137.7 1147.5 L139.4 1146.5 L141.2 1145.5 L142.9 1144.5 L144.6 1143.4 L146.4 1142.4 L148.1 1141.4 L149.9 1140.4 L151.6 1139.3 L153.3 1138.3 L155.1 1137.3 L156.8 1136.3 L158.6 1135.3 L160.3 1134.2 L162.0 1133.2 L163.8 1132.2 L165.5 1131.1 L167.3 1130.1 L169.0 1129.1 L170.7 1128.0 L172.5 1127.0 L174.2 1126.0 L176.0 1125.0 L177.7 1123.9 L179.4 1122.9 L181.2 1121.9 L182.9 1120.8 L184.7 1119.8 L186.4 1118.8 L188.1 1117.7 L189.9 1116.7 L191.6 1115.7 L193.4 1114.6 L195.1 1113.6 L196.8 1112.6 L198.6 1111.6 L200.3 1110.6 L202.1 1109.6 L203.8 1108.6 L205.5 1107.5 L207.3 1106.5 L209.0 1105.5 L210.8 1104.5 L212.5 1103.5 L214.2 1102.5 L216.0 1101.5 L217.7 1100.5 L219.5 1099.5 L221.2 1098.5 L222.9 1097.5 L224.7 1096.5 L226.4 1095.5 L228.2 1094.5 L229.9 1093.5 L231.6 1092.5 L233.4 1091.5 L235.1 1090.5 L236.9 1089.5 L238.6 1088.5 L240.3 1087.5 L242.1 1086.5 L243.8 1085.5 L245.6 1084.6 L247.3 1083.6 L249.0 1082.6 L250.8 1081.6 L252.5 1080.6 L254.3 1079.6 L256.0 1078.6 L257.7 1077.6 L259.5 1076.6 L261.2 1075.6 L263.0 1074.6 L264.7 1073.6 L266.4 1072.6 L268.2 1071.7 L269.9 1070.7 L271.7 1069.7 L273.4 1068.7 L275.1 1067.8 L276.9 1066.8 L278.6 1065.8 L280.4 1064.9 L282.1 1063.9 L283.8 1062.9 L285.6 1061.9 L287.3 1061.0 L289.1 1060.0 L290.8 1059.0 L292.5 1058.0 L294.3 1057.1 L296.0 1056.1 L297.8 1055.1 L299.5 1054.1 L301.2 1053.2 L303.0 1052.2 L304.7 1051.2 L306.5 1050.2 L308.2 1049.3 L309.9 1048.3 L311.7 1047.3 L313.4 1046.4 L315.2 1045.4 L316.9 1044.4 L318.6 1043.5 L320.4 1042.5 L322.1 1041.6 L323.9 1040.6 L325.6 1039.6 L327.3 1038.7 L329.1 1037.7 L330.8 1036.7 L332.6 1035.8 L334.3 1034.8 L336.0 1033.8 L337.8 1032.9 L339.5 1031.9 L341.3 1030.9 L343.0 1030.0 L344.7 1029.0 L346.5 1028.0 L348.2 1027.1 L350.0 1026.1 L351.7 1025.1 L353.4 1024.2 L355.2 1023.2 L356.9 1022.3 L358.7 1021.3 L360.4 1020.3 L362.1 1019.4 L363.9 1018.4 L365.6 1017.4 L367.4 1016.5 L369.1 1015.5 L370.8 1014.5 L372.6 1013.6 L374.3 1012.6 L376.1 1011.7 L377.8 1010.7 L379.5 1009.7 L381.3 1008.8 L383.0 1007.8 L384.8 1006.8 L386.5 1005.9 L388.2 1004.9 L390.0 1004.0 L391.7 1003.0 L393.5 1002.0 L395.2 1001.1 L396.9 1000.1 L398.7 999.1 L400.4 998.2 L402.2 997.2 L403.9 996.3 L405.6 995.3 L407.4 994.3 L409.1 993.4 L410.9 992.4 L412.6 991.4 L414.3 990.5 L416.1 989.5 L417.8 988.6 L419.6 987.6 L421.3 986.6 L423.0 985.7 L424.8 984.8 L426.5 983.8 L428.3 982.9 L430.0 981.9 L431.7 981.0 L433.5 980.0 L435.2 979.1 L437.0 978.2 L438.7 977.2 L440.4 976.3 L442.2 975.3 L443.9 974.4 L445.7 973.5 L447.4 972.5 L449.1 971.6 L450.9 970.6 L452.6 969.7 L454.4 968.7 L456.1 967.8 L457.8 966.9 L459.6 965.9 L461.3 965.0 L463.1 964.0 L464.8 963.1 L466.5 962.1 L468.3 961.2 L470.0 960.3 L471.8 959.3 L473.5 958.4 L475.2 957.4 L477.0 956.5 L478.7 955.6 L480.5 954.6 L482.2 953.7 L483.9 952.7 L485.7 951.8 L487.4 950.8 L489.2 949.9 L490.9 949.0 L492.6 948.0 L494.4 947.0 L496.1 946.1 L497.9 945.1 L499.6 944.2 L501.3 943.2 L503.1 942.3 L504.8 941.3 L506.6 940.3 L508.3 939.4 L510.0 938.4 L511.8 937.5 L513.5 936.5 L515.3 935.5 L517.0 934.6 L518.7 933.6 L520.5 932.7 L522.2 931.7 L524.0 930.8 L525.7 929.8 L527.4 928.8 L529.2 927.9 L530.9 926.9 L532.7 926.0 L534.4 925.0 L536.1 924.1 L537.9 923.3 L539.6 922.4 L541.4 921.5 L543.1 920.6 L544.8 919.8 L546.6 918.9 L548.3 918.0 L550.1 917.2 L551.8 916.3 L551.8 916.3 L550.1 917.4 L548.3 918.5 L546.6 919.6 L544.8 920.7 L543.1 921.7 L541.4 922.8 L539.6 923.9 L537.9 925.0 L536.1 926.1 L534.4 927.2 L532.7 928.2 L530.9 929.2 L529.2 930.2 L527.4 931.2 L525.7 932.2 L524.0 933.2 L522.2 934.3 L520.5 935.3 L518.7 936.3 L517.0 937.3 L515.3 938.3 L513.5 939.3 L511.8 940.3 L510.0 941.3 L508.3 942.3 L506.6 943.3 L504.8 944.3 L503.1 945.3 L501.3 946.3 L499.6 947.3 L497.9 948.3 L496.1 949.3 L494.4 950.3 L492.6 951.4 L490.9 952.4 L489.2 953.4 L487.4 954.4 L485.7 955.4 L483.9 956.4 L482.2 957.5 L480.5 958.5 L478.7 959.5 L477.0 960.5 L475.2 961.6 L473.5 962.6 L471.8 963.6 L470.0 964.6 L468.3 965.6 L466.5 966.7 L464.8 967.7 L463.1 968.7 L461.3 969.7 L459.6 970.8 L457.8 971.8 L456.1 972.8 L454.4 973.8 L452.6 974.8 L450.9 975.9 L449.1 976.9 L447.4 977.9 L445.7 978.9 L443.9 980.0 L442.2 981.0 L440.4 982.0 L438.7 983.0 L437.0 984.0 L435.2 985.1 L433.5 986.1 L431.7 987.1 L430.0 988.1 L428.3 989.2 L426.5 990.2 L424.8 991.2 L423.0 992.2 L421.3 993.2 L419.6 994.2 L417.8 995.2 L416.1 996.2 L414.3 997.2 L412.6 998.2 L410.9 999.3 L409.1 1000.3 L407.4 1001.3 L405.6 1002.3 L403.9 1003.3 L402.2 1004.3 L400.4 1005.3 L398.7 1006.3 L396.9 1007.3 L395.2 1008.3 L393.5 1009.3 L391.7 1010.3 L390.0 1011.3 L388.2 1012.3 L386.5 1013.3 L384.8 1014.3 L383.0 1015.3 L381.3 1016.3 L379.5 1017.3 L377.8 1018.3 L376.1 1019.3 L374.3 1020.3 L372.6 1021.3 L370.8 1022.3 L369.1 1023.3 L367.4 1024.3 L365.6 1025.3 L363.9 1026.3 L362.1 1027.3 L360.4 1028.3 L358.7 1029.3 L356.9 1030.3 L355.2 1031.3 L353.4 1032.3 L351.7 1033.3 L350.0 1034.3 L348.2 1035.3 L346.5 1036.3 L344.7 1037.3 L343.0 1038.3 L341.3 1039.3 L339.5 1040.3 L337.8 1041.3 L336.0 1042.3 L334.3 1043.3 L332.6 1044.3 L330.8 1045.3 L329.1 1046.3 L327.3 1047.3 L325.6 1048.3 L323.9 1049.3 L322.1 1050.3 L320.4 1051.3 L318.6 1052.3 L316.9 1053.3 L315.2 1054.3 L313.4 1055.3 L311.7 1056.3 L309.9 1057.3 L308.2 1058.3 L306.5 1059.3 L304.7 1060.2 L303.0 1061.2 L301.2 1062.2 L299.5 1063.2 L297.8 1064.2 L296.0 1065.2 L294.3 1066.2 L292.5 1067.2 L290.8 1068.2 L289.1 1069.2 L287.3 1070.1 L285.6 1071.1 L283.8 1072.1 L282.1 1073.1 L280.4 1074.1 L278.6 1075.1 L276.9 1076.1 L275.1 1077.1 L273.4 1078.1 L271.7 1079.1 L269.9 1080.0 L268.2 1081.0 L266.4 1082.0 L264.7 1083.0 L263.0 1084.0 L261.2 1085.0 L259.5 1085.9 L257.7 1086.9 L256.0 1087.9 L254.3 1088.8 L252.5 1089.8 L250.8 1090.8 L249.0 1091.8 L247.3 1092.7 L245.6 1093.7 L243.8 1094.7 L242.1 1095.6 L240.3 1096.6 L238.6 1097.6 L236.9 1098.5 L235.1 1099.5 L233.4 1100.5 L231.6 1101.4 L229.9 1102.4 L228.2 1103.4 L226.4 1104.4 L224.7 1105.3 L222.9 1106.3 L221.2 1107.3 L219.5 1108.2 L217.7 1109.2 L216.0 1110.1 L214.2 1111.1 L212.5 1112.0 L210.8 1113.0 L209.0 1114.0 L207.3 1114.9 L205.5 1115.9 L203.8 1116.8 L202.1 1117.8 L200.3 1118.7 L198.6 1119.7 L196.8 1120.6 L195.1 1121.6 L193.4 1122.5 L191.6 1123.5 L189.9 1124.4 L188.1 1125.3 L186.4 1126.3 L184.7 1127.2 L182.9 1128.1 L181.2 1129.1 L179.4 1130.0 L177.7 1130.9 L176.0 1131.9 L174.2 1132.8 L172.5 1133.7 L170.7 1134.6 L169.0 1135.6 L167.3 1136.5 L165.5 1137.4 L163.8 1138.4 L162.0 1139.3 L160.3 1140.2 L158.6 1141.2 L156.8 1142.1 L155.1 1143.1 L153.3 1144.0 L151.6 1144.9 L149.9 1145.9 L148.1 1146.8 L146.4 1147.8 L144.6 1148.7 L142.9 1149.7 L141.2 1150.6 L139.4 1151.5 L137.7 1152.5 L135.9 1153.4 L134.2 1154.4 L132.5 1155.2 L130.7 1156.1 L129.0 1157.0 L127.2 1157.9 L125.5 1158.7 L123.8 1159.6 L122.0 1160.5 L120.3 1161.4 L118.5 1162.2 L116.8 1163.1 L115.1 1164.0 L113.3 1164.9 L111.6 1165.7 L109.8 1166.6 L108.1 1167.5Z" fill="#f38224"/>
<path d="M146.3 1144.8h0.01M270.2 1075.3h0.01M204.2 1113.4h0.01M383.2 1011.3h0.01M135.6 1147.9h0.01M349.6 1030.8h0.01M473.7 963.3h0.01M329.6 1040.6h0.01M450.4 972.0h0.01M207.7 1110.6h0.01M398.0 1001.0h0.01M446.1 972.9h0.01M315.4 1050.0h0.01M175.4 1129.9h0.01M548.3 918.2h0.01M526.8 932.0h0.01M293.8 1061.8h0.01M366.0 1023.0h0.01M478.3 958.2h0.01M120.7 1157.7h0.01M301.3 1055.4h0.01M290.8 1062.8h0.01M258.6 1083.2h0.01M535.8 924.9h0.01M123.0 1156.3h0.01M437.2 979.0h0.01M228.2 1098.5h0.01M248.3 1089.1h0.01M474.5 957.9h0.01M284.6 1066.3h0.01M400.2 1003.0h0.01M206.2 1111.3h0.01M306.3 1055.5h0.01M370.3 1013.8h0.01M456.0 970.8h0.01M338.3 1039.1h0.01M595.6 891.3h0.01M130.9 1156.7h0.01M179.1 1126.8h0.01M408.7 996.1h0.01M108.1 1166.1h0.01M199.0 1117.6h0.01M289.6 1066.2h0.01M174.1 1127.8h0.01M128.5 1155.8h0.01M181.6 1126.8h0.01M238.1 1090.9h0.01M280.7 1069.2h0.01M174.6 1130.7h0.01M273.7 1075.7h0.01M289.9 1065.5h0.01M305.2 1055.4h0.01M247.0 1088.3h0.01M622.1 875.9h0.01M439.1 981.2h0.01M207.1 1110.5h0.01M586.1 896.6h0.01M235.8 1093.2h0.01M411.0 996.1h0.01M305.0 1056.5h0.01M145.8 1147.6h0.01M587.9 897.9h0.01M310.2 1052.5h0.01M156.0 1138.2h0.01M223.4 1103.5h0.01M241.5 1092.2h0.01M224.2 1101.8h0.01M408.6 996.7h0.01M211.1 1110.1h0.01M429.3 984.6h0.01M113.7 1162.7h0.01M543.3 920.8h0.01M477.7 958.3h0.01M332.7 1040.8h0.01M137.4 1150.3h0.01M293.1 1062.0h0.01M166.0 1135.0h0.01M260.2 1082.5h0.01M159.0 1139.2h0.01M606.6 884.2h0.01M244.4 1090.8h0.01M200.7 1118.1h0.01M369.7 1016.7h0.01M481.3 957.5h0.01M260.1 1080.8h0.01M522.9 930.9h0.01M355.7 1027.5h0.01M296.2 1062.8h0.01M272.6 1071.9h0.01M203.6 1107.3h0.01M254.2 1086.4h0.01M309.0 1052.7h0.01M418.2 991.9h0.01M361.0 1024.8h0.01M341.2 1033.2h0.01M417.1 993.9h0.01M239.8 1091.5h0.01M147.0 1146.6h0.01M560.1 909.1h0.01M500.7 941.6h0.01M475.7 958.2h0.01M445.6 979.3h0.01M164.5 1135.2h0.01M312.7 1052.2h0.01M316.7 1047.7h0.01M271.1 1072.0h0.01M125.9 1154.0h0.01M307.1 1053.0h0.01M496.8 947.5h0.01M348.9 1033.5h0.01M552.2 914.1h0.01M642.2 861.7h0.01M388.2 1010.1h0.01M198.2 1117.9h0.01M287.0 1066.0h0.01M339.3 1035.3h0.01M218.1 1107.7h0.01M298.5 1057.5h0.01M466.2 969.6h0.01M568.2 907.3h0.01M177.8 1125.4h0.01M267.1 1075.5h0.01M282.7 1073.7h0.01M188.8 1122.7h0.01M489.9 951.8h0.01M310.4 1050.3h0.01M636.0 869.0h0.01M232.9 1096.0h0.01M319.6 1050.3h0.01M455.4 969.9h0.01M584.2 900.9h0.01M606.2 884.2h0.01M241.9 1089.2h0.01M423.9 988.3h0.01M181.2 1127.2h0.01M404.5 996.2h0.01M179.4 1123.4h0.01M178.9 1125.3h0.01M165.0 1135.9h0.01M410.2 997.8h0.01M601.7 890.0h0.01M283.7 1069.1h0.01M553.6 916.5h0.01M288.2 1063.1h0.01M155.9 1139.7h0.01M502.2 943.3h0.01M615.6 879.8h0.01M318.5 1050.6h0.01M357.3 1026.8h0.01M641.8 867.4h0.01M351.5 1026.9h0.01M648.9 861.0h0.01M307.5 1053.6h0.01M268.0 1075.7h0.01M248.2 1087.3h0.01M519.6 934.6h0.01M373.9 1017.4h0.01M502.0 943.0h0.01M527.0 933.4h0.01M267.5 1075.2h0.01M571.3 907.4h0.01M190.1 1119.9h0.01M327.7 1041.3h0.01M335.2 1040.1h0.01M436.6 978.2h0.01M278.4 1068.6h0.01M232.5 1097.1h0.01M212.4 1107.6h0.01M232.4 1094.4h0.01M474.6 960.3h0.01M161.6 1135.8h0.01M446.8 976.1h0.01M299.3 1059.3h0.01M319.1 1049.0h0.01M196.7 1115.8h0.01M331.6 1041.6h0.01M377.5 1015.0h0.01M462.3 964.2h0.01M386.8 1007.5h0.01M230.3 1097.9h0.01M218.9 1104.2h0.01M404.3 999.5h0.01M484.7 953.4h0.01M167.4 1134.7h0.01M278.5 1068.9h0.01M308.3 1051.0h0.01M141.6 1146.4h0.01M193.8 1119.5h0.01M203.7 1114.7h0.01M309.2 1053.5h0.01M374.3 1017.6h0.01M406.1 999.7h0.01M199.5 1108.0h0.01M290.3 1064.5h0.01M427.4 986.0h0.01M319.3 1046.8h0.01M562.1 911.3h0.01M197.8 1115.1h0.01M376.6 1016.1h0.01M391.0 1009.7h0.01M152.5 1143.5h0.01M197.2 1115.0h0.01M343.1 1035.4h0.01M224.3 1099.5h0.01M222.7 1103.6h0.01M417.0 991.4h0.01M168.9 1133.6h0.01M465.7 964.9h0.01M505.4 942.9h0.01M353.6 1028.2h0.01M135.5 1149.3h0.01M308.9 1048.9h0.01M119.1 1159.2h0.01M235.1 1094.9h0.01M275.5 1074.7h0.01M218.2 1105.0h0.01M289.9 1064.5h0.01M386.9 1009.0h0.01M431.3 984.1h0.01M374.6 1016.8h0.01M352.9 1028.7h0.01M123.2 1161.1h0.01M279.0 1073.6h0.01M518.2 937.6h0.01M279.3 1069.4h0.01M144.0 1147.8h0.01M106.9 1168.8h0.01M439.5 981.2h0.01M370.5 1018.4h0.01M399.7 1005.8h0.01M470.1 963.4h0.01M466.5 964.0h0.01M277.0 1073.3h0.01M340.4 1035.3h0.01M182.3 1123.2h0.01M500.3 945.7h0.01M444.5 975.0h0.01M468.1 962.6h0.01M491.4 951.0h0.01M327.5 1039.5h0.01M572.3 903.0h0.01M214.5 1106.3h0.01M386.9 1007.6h0.01M302.0 1056.0h0.01M136.2 1147.9h0.01M291.4 1061.3h0.01M134.7 1150.3h0.01M223.9 1102.0h0.01M525.1 930.9h0.01M602.8 890.0h0.01M610.6 884.6h0.01M306.9 1054.7h0.01M123.9 1159.4h0.01M193.5 1117.5h0.01M332.7 1043.4h0.01M506.2 944.1h0.01M397.7 1003.6h0.01M207.7 1110.1h0.01M338.8 1036.3h0.01M402.6 998.8h0.01M426.3 987.7h0.01M232.0 1094.6h0.01M221.8 1102.0h0.01M423.1 989.7h0.01M320.7 1046.2h0.01M269.6 1076.8h0.01M114.7 1164.1h0.01M297.9 1056.7h0.01M403.5 997.1h0.01M245.2 1087.9h0.01M503.3 945.4h0.01M153.8 1140.9h0.01M418.6 992.2h0.01M197.3 1117.5h0.01M207.4 1113.5h0.01M129.5 1152.9h0.01M425.4 987.7h0.01M289.6 1068.3h0.01M279.8 1066.9h0.01M395.1 1002.4h0.01M489.8 950.0h0.01M139.6 1147.8h0.01M368.4 1020.6h0.01M171.5 1130.8h0.01M206.7 1112.0h0.01M231.9 1099.8h0.01M405.0 999.4h0.01M151.3 1141.0h0.01M190.8 1119.0h0.01M266.5 1076.6h0.01M155.3 1141.0h0.01M205.5 1110.6h0.01M443.9 979.3h0.01M526.4 931.3h0.01M547.8 921.0h0.01M140.5 1147.6h0.01M167.2 1132.7h0.01M406.3 1002.3h0.01M217.2 1101.1h0.01M289.7 1063.9h0.01M142.9 1147.0h0.01M289.6 1064.4h0.01M211.5 1106.6h0.01M631.9 873.3h0.01M594.6 891.5h0.01M245.2 1088.9h0.01M413.0 995.3h0.01M151.0 1141.4h0.01M417.7 989.8h0.01M234.1 1093.2h0.01M405.1 999.4h0.01M396.9 1004.4h0.01M553.1 916.2h0.01M262.1 1081.1h0.01M272.4 1075.1h0.01M295.4 1058.5h0.01M517.7 936.8h0.01M198.6 1115.4h0.01M308.9 1057.9h0.01M473.7 961.5h0.01M398.8 1001.9h0.01M229.1 1099.1h0.01M440.6 975.0h0.01M337.4 1036.0h0.01M279.3 1070.2h0.01M401.2 1002.9h0.01M544.4 921.6h0.01M145.7 1144.3h0.01M112.6 1162.8h0.01M274.6 1071.8h0.01M449.3 972.4h0.01M125.3 1159.6h0.01M193.7 1116.8h0.01M144.1 1144.6h0.01M534.8 929.7h0.01M595.4 890.0h0.01M180.4 1126.3h0.01M306.1 1055.7h0.01M238.9 1091.5h0.01M181.0 1125.7h0.01M175.2 1130.4h0.01M324.6 1044.0h0.01M387.0 1006.3h0.01M575.3 898.5h0.01M282.0 1066.7h0.01M218.8 1104.2h0.01M149.1 1145.3h0.01M239.4 1094.4h0.01M264.6 1080.7h0.01M122.7 1160.6h0.01M373.4 1019.7h0.01M270.7 1074.7h0.01M244.8 1090.2h0.01M431.5 980.7h0.01M378.2 1013.7h0.01M585.2 899.2h0.01M497.6 946.7h0.01M388.0 1010.6h0.01M233.9 1094.6h0.01M449.6 974.3h0.01M355.4 1026.5h0.01M264.5 1079.8h0.01M559.2 910.3h0.01M595.6 892.8h0.01M277.1 1070.3h0.01M325.7 1043.4h0.01M180.5 1126.9h0.01M638.5 864.4h0.01M233.4 1096.8h0.01M359.6 1025.7h0.01M157.7 1137.6h0.01M379.9 1011.3h0.01M471.1 960.5h0.01M230.6 1098.4h0.01M383.1 1011.7h0.01M506.6 942.2h0.01M216.6 1107.8h0.01M496.0 947.7h0.01M279.9 1072.1h0.01M244.4 1089.4h0.01M340.1 1035.2h0.01M379.0 1011.9h0.01M393.8 1005.0h0.01M195.5 1121.5h0.01M226.7 1100.3h0.01M213.8 1105.2h0.01M334.0 1041.2h0.01M578.9 902.4h0.01M123.4 1159.2h0.01M169.1 1133.9h0.01M185.8 1119.7h0.01M582.4 896.2h0.01M275.0 1071.6h0.01M325.8 1043.9h0.01M462.2 967.4h0.01M400.1 1003.3h0.01M151.4 1139.9h0.01M384.6 1012.9h0.01M273.4 1070.0h0.01M156.6 1139.4h0.01M141.1 1149.2h0.01M196.3 1118.0h0.01M597.5 891.2h0.01M259.7 1081.2h0.01M424.8 983.9h0.01M372.4 1014.8h0.01M246.7 1088.2h0.01M464.3 965.0h0.01M238.7 1093.8h0.01M343.2 1032.5h0.01M555.2 912.0h0.01M542.0 924.4h0.01M394.5 1002.2h0.01M583.7 897.1h0.01M423.0 991.4h0.01M284.5 1069.5h0.01M412.3 992.0h0.01M423.1 990.6h0.01M322.2 1045.5h0.01M222.3 1104.6h0.01M218.3 1109.1h0.01M339.4 1036.9h0.01M218.9 1100.3h0.01M133.2 1151.2h0.01M540.5 923.8h0.01M397.1 1004.6h0.01M324.5 1046.5h0.01M148.0 1146.6h0.01M597.8 892.0h0.01M548.1 919.5h0.01M112.7 1165.6h0.01M257.8 1078.8h0.01M177.3 1131.3h0.01M333.3 1040.1h0.01M289.9 1062.5h0.01M192.2 1117.9h0.01M283.9 1066.2h0.01M513.4 937.6h0.01M305.0 1052.4h0.01M223.3 1103.3h0.01M393.8 1002.9h0.01M343.5 1035.5h0.01M252.2 1084.7h0.01M218.3 1105.6h0.01M189.9 1122.8h0.01M275.7 1072.4h0.01M516.6 936.3h0.01M185.3 1123.0h0.01M451.4 971.6h0.01M220.2 1103.9h0.01M247.1 1091.0h0.01M179.3 1124.2h0.01M119.9 1154.4h0.01M456.6 968.5h0.01M413.6 994.2h0.01M273.6 1074.3h0.01M356.2 1026.5h0.01M454.3 973.7h0.01M340.6 1032.7h0.01M433.9 983.8h0.01M362.0 1024.1h0.01M389.1 1006.2h0.01M325.5 1043.7h0.01M327.9 1041.2h0.01M456.5 969.1h0.01M194.3 1116.4h0.01M329.5 1043.2h0.01M290.4 1062.3h0.01M329.2 1043.4h0.01M292.8 1063.8h0.01M569.2 907.8h0.01M181.5 1126.4h0.01M227.9 1096.3h0.01M178.2 1128.4h0.01M188.3 1123.4h0.01M323.5 1045.0h0.01M236.0 1096.1h0.01M141.0 1149.2h0.01M306.7 1054.2h0.01M478.9 956.2h0.01M431.0 983.5h0.01M386.3 1009.9h0.01M231.3 1096.9h0.01M428.1 988.1h0.01M368.5 1019.9h0.01M416.2 991.1h0.01M514.9 936.5h0.01M140.8 1152.8h0.01M208.9 1110.0h0.01M156.8 1136.9h0.01M200.7 1117.0h0.01M180.3 1123.8h0.01M233.0 1095.6h0.01M332.6 1039.9h0.01M235.6 1095.8h0.01M316.2 1050.5h0.01M345.3 1031.0h0.01M319.8 1047.3h0.01M340.1 1033.0h0.01M577.7 903.8h0.01M133.1 1150.9h0.01M329.8 1039.8h0.01M344.7 1031.7h0.01M382.5 1008.7h0.01M399.0 1001.8h0.01M390.6 1006.1h0.01M280.7 1071.0h0.01M325.6 1044.6h0.01M509.4 942.5h0.01M173.7 1133.0h0.01M378.1 1012.7h0.01M180.8 1125.4h0.01M313.4 1049.6h0.01M159.2 1138.5h0.01M335.5 1038.7h0.01M331.9 1041.4h0.01M117.2 1160.1h0.01M392.7 1006.8h0.01M433.7 982.4h0.01M563.2 910.0h0.01M141.4 1143.8h0.01M131.3 1152.4h0.01M331.5 1042.5h0.01M336.4 1035.2h0.01M211.3 1107.1h0.01M403.8 998.3h0.01M435.4 980.9h0.01M135.4 1150.2h0.01M283.1 1068.3h0.01M266.3 1077.8h0.01M271.0 1073.9h0.01M501.7 945.1h0.01M230.2 1098.9h0.01M408.1 998.9h0.01M383.8 1008.0h0.01M260.8 1082.2h0.01M139.4 1149.4h0.01M150.2 1142.3h0.01M349.6 1032.2h0.01M237.9 1095.5h0.01M452.9 973.8h0.01M155.9 1138.9h0.01M461.6 964.3h0.01M336.6 1040.3h0.01M126.2 1157.3h0.01M513.8 936.6h0.01M200.3 1114.4h0.01M527.1 929.8h0.01M480.9 958.1h0.01M488.6 949.9h0.01M438.3 979.5h0.01M250.4 1090.2h0.01M380.4 1011.5h0.01M145.1 1146.2h0.01M636.6 868.6h0.01M387.0 1008.9h0.01M447.8 976.8h0.01M316.0 1048.5h0.01M319.8 1050.1h0.01M219.0 1103.9h0.01M395.6 1002.9h0.01M375.1 1014.7h0.01M183.8 1123.3h0.01M336.1 1039.4h0.01M561.7 912.6h0.01M303.6 1056.5h0.01M541.3 920.2h0.01M312.8 1049.5h0.01M162.1 1135.4h0.01M222.6 1104.7h0.01M502.3 945.8h0.01M221.2 1102.2h0.01M362.3 1026.3h0.01M525.3 928.6h0.01M515.8 933.3h0.01M416.9 989.9h0.01M203.0 1114.1h0.01M242.2 1089.0h0.01M299.1 1058.7h0.01M173.6 1129.1h0.01M608.7 883.4h0.01M377.2 1016.3h0.01M114.9 1164.2h0.01M283.9 1067.9h0.01M288.5 1066.0h0.01M136.5 1146.9h0.01M241.0 1094.5h0.01M501.2 944.2h0.01M258.5 1079.9h0.01M250.8 1086.1h0.01M153.9 1141.2h0.01M423.6 989.5h0.01M291.4 1063.5h0.01M220.8 1103.0h0.01M189.2 1119.2h0.01M613.4 884.6h0.01M425.6 989.3h0.01M450.9 970.3h0.01M581.7 900.6h0.01M404.0 998.3h0.01M347.9 1029.8h0.01M206.4 1112.2h0.01M167.9 1134.6h0.01M442.5 980.6h0.01M354.9 1029.5h0.01M586.8 895.6h0.01M255.6 1082.2h0.01M278.7 1068.9h0.01M607.3 884.2h0.01M326.9 1046.6h0.01M410.8 997.8h0.01M151.9 1143.3h0.01M406.2 992.4h0.01M483.0 954.5h0.01M136.8 1149.1h0.01M364.3 1021.6h0.01M345.2 1033.8h0.01M283.1 1069.1h0.01M171.4 1130.1h0.01M303.0 1056.0h0.01M277.5 1071.2h0.01M336.2 1036.8h0.01M184.1 1126.1h0.01M443.5 975.9h0.01M438.7 976.7h0.01M632.3 870.9h0.01M356.2 1026.0h0.01M453.6 971.4h0.01M262.5 1079.8h0.01M280.2 1070.7h0.01M344.7 1035.6h0.01M402.5 1000.2h0.01M587.5 892.4h0.01M216.9 1101.4h0.01M136.0 1154.2h0.01M147.6 1144.3h0.01M190.0 1121.8h0.01M277.5 1069.8h0.01M426.7 987.7h0.01M626.3 874.8h0.01M234.0 1095.4h0.01M166.3 1133.2h0.01M202.3 1114.6h0.01M437.0 978.2h0.01M490.1 949.8h0.01M282.5 1069.5h0.01M244.1 1089.3h0.01M305.9 1054.6h0.01M347.4 1029.1h0.01M219.2 1105.7h0.01M552.0 916.4h0.01M366.9 1024.3h0.01M235.4 1095.0h0.01M372.5 1016.8h0.01M409.6 998.1h0.01M420.9 990.3h0.01M384.6 1013.3h0.01M269.3 1075.8h0.01M219.1 1104.3h0.01M441.7 979.4h0.01M388.7 1010.4h0.01M339.6 1036.7h0.01M562.0 912.6h0.01M203.1 1111.1h0.01M343.3 1034.3h0.01M252.8 1086.5h0.01M567.4 910.0h0.01M183.1 1121.7h0.01M221.1 1105.7h0.01M229.7 1098.7h0.01M161.0 1137.6h0.01M379.9 1013.9h0.01M391.3 1002.9h0.01M182.4 1124.6h0.01M359.5 1025.6h0.01M130.9 1152.3h0.01M336.1 1037.4h0.01M139.2 1149.2h0.01M410.4 996.0h0.01M215.9 1105.1h0.01M326.8 1044.1h0.01M367.9 1019.2h0.01M228.3 1097.3h0.01M625.6 873.2h0.01M232.2 1096.8h0.01M242.1 1088.3h0.01M453.9 970.4h0.01M232.3 1096.6h0.01M569.7 904.1h0.01M397.4 1002.4h0.01M433.0 981.9h0.01M285.0 1068.4h0.01M445.0 978.7h0.01M418.1 991.3h0.01M233.3 1096.8h0.01M595.3 890.9h0.01M344.0 1032.0h0.01M153.8 1139.0h0.01M350.9 1030.7h0.01M297.8 1058.3h0.01M408.4 997.5h0.01M261.8 1078.5h0.01M123.1 1160.2h0.01M607.7 886.2h0.01M158.6 1136.8h0.01M134.9 1149.4h0.01M157.9 1138.2h0.01M599.9 890.8h0.01M583.5 897.6h0.01M137.0 1152.4h0.01M546.8 920.7h0.01M271.0 1074.0h0.01M214.0 1106.3h0.01M382.3 1011.5h0.01M130.3 1153.9h0.01M433.1 984.5h0.01M512.7 938.1h0.01M380.9 1011.5h0.01M135.0 1151.8h0.01M215.1 1106.2h0.01M329.1 1043.2h0.01M501.9 942.8h0.01M417.4 994.4h0.01M139.0 1149.8h0.01M284.5 1066.5h0.01M140.3 1146.9h0.01M425.7 986.6h0.01M356.2 1027.7h0.01M137.4 1151.6h0.01M361.0 1023.8h0.01M112.8 1164.6h0.01M286.8 1068.4h0.01M464.7 968.5h0.01M383.2 1013.8h0.01M411.5 991.7h0.01M132.7 1154.1h0.01M225.2 1101.2h0.01M253.5 1085.1h0.01M542.6 922.8h0.01M449.3 978.1h0.01M463.6 967.0h0.01M225.6 1101.0h0.01M597.5 889.9h0.01M277.2 1069.4h0.01M335.6 1035.5h0.01M299.0 1056.4h0.01M467.9 965.8h0.01M428.3 987.2h0.01M281.6 1068.0h0.01M211.3 1108.3h0.01M230.5 1097.8h0.01M285.6 1065.1h0.01M294.8 1063.6h0.01M298.8 1059.5h0.01M531.4 930.5h0.01M226.3 1098.8h0.01M371.7 1016.1h0.01M353.6 1028.6h0.01M575.8 903.1h0.01M131.2 1154.8h0.01M454.8 967.3h0.01M637.8 869.7h0.01M208.4 1110.0h0.01M287.8 1064.6h0.01M109.4 1167.9h0.01M425.2 987.0h0.01M113.5 1163.5h0.01M259.2 1082.1h0.01M334.7 1039.1h0.01M471.7 959.4h0.01M159.4 1138.6h0.01M311.8 1051.6h0.01M524.2 931.9h0.01M377.2 1015.4h0.01M149.0 1143.0h0.01M247.3 1091.1h0.01M519.1 935.6h0.01M104.6 1171.2h0.01M226.8 1098.5h0.01M498.4 946.9h0.01M371.4 1017.4h0.01M359.7 1024.2h0.01M277.2 1069.5h0.01M304.8 1055.1h0.01M401.5 1001.0h0.01M397.7 1002.1h0.01M373.1 1013.2h0.01M574.5 901.9h0.01M242.1 1093.7h0.01M154.3 1140.0h0.01M344.0 1035.9h0.01M281.0 1067.6h0.01M164.5 1132.2h0.01M289.0 1065.4h0.01M353.3 1029.2h0.01M380.5 1014.3h0.01M274.8 1072.0h0.01M253.3 1085.1h0.01M329.6 1043.8h0.01M347.6 1031.2h0.01M304.8 1056.0h0.01M352.5 1032.6h0.01M359.6 1022.4h0.01M536.5 925.1h0.01M195.3 1120.5h0.01M379.8 1010.5h0.01M508.1 940.2h0.01M619.9 877.0h0.01M522.5 932.5h0.01M356.5 1028.8h0.01M164.9 1132.8h0.01M186.0 1119.5h0.01M417.9 994.2h0.01M322.9 1045.1h0.01M226.9 1099.7h0.01M338.7 1037.2h0.01M534.0 925.2h0.01M443.0 976.2h0.01M461.8 967.8h0.01M250.3 1088.1h0.01M450.6 971.1h0.01M450.4 974.5h0.01M311.1 1050.6h0.01M451.9 974.1h0.01M161.6 1136.6h0.01M580.4 899.9h0.01M626.8 874.4h0.01M163.7 1138.0h0.01M154.2 1140.7h0.01M144.1 1151.2h0.01M107.8 1167.9h0.01M222.9 1103.8h0.01M176.5 1128.4h0.01M343.2 1034.5h0.01M420.2 991.3h0.01M320.6 1051.6h0.01M340.0 1034.8h0.01M127.5 1155.9h0.01M445.6 976.7h0.01M364.4 1022.2h0.01M268.9 1077.5h0.01M547.4 921.8h0.01M182.8 1122.8h0.01M228.9 1101.0h0.01M275.4 1074.6h0.01M199.0 1115.2h0.01M228.2 1099.4h0.01M226.6 1097.0h0.01M587.2 897.9h0.01M305.5 1057.6h0.01M201.4 1118.0h0.01M332.9 1040.2h0.01M357.1 1029.7h0.01M139.7 1150.8h0.01M134.7 1154.0h0.01M398.2 1004.9h0.01M176.2 1127.6h0.01M135.5 1150.1h0.01M223.1 1102.4h0.01M189.9 1120.0h0.01M285.0 1070.1h0.01M470.8 960.2h0.01M385.4 1005.4h0.01M359.7 1026.0h0.01M276.3 1071.1h0.01M463.3 967.1h0.01M298.9 1059.5h0.01M209.0 1111.1h0.01M359.9 1026.8h0.01M511.9 938.9h0.01M184.2 1123.4h0.01M350.5 1029.1h0.01M321.8 1047.3h0.01M193.5 1118.7h0.01M165.2 1138.2h0.01M140.6 1152.0h0.01M591.8 892.6h0.01M321.6 1048.1h0.01M399.2 1000.1h0.01M156.1 1138.4h0.01M408.1 999.7h0.01M409.8 994.8h0.01M290.7 1063.7h0.01M530.9 927.6h0.01M565.5 909.7h0.01M402.1 999.9h0.01M212.3 1109.2h0.01M649.9 860.5h0.01M336.1 1039.4h0.01M337.1 1037.2h0.01M205.2 1108.0h0.01M356.1 1026.2h0.01M623.3 873.5h0.01M245.8 1090.7h0.01M543.7 919.9h0.01M325.3 1048.0h0.01M284.5 1064.7h0.01M264.2 1077.8h0.01M158.6 1142.2h0.01M447.0 976.3h0.01M386.9 1010.4h0.01M305.0 1057.6h0.01M388.3 1010.8h0.01M516.4 930.2h0.01M293.9 1062.9h0.01M557.3 915.9h0.01M384.9 1012.6h0.01M106.8 1166.9h0.01M440.1 980.1h0.01M354.3 1029.1h0.01M455.6 968.9h0.01M224.0 1104.3h0.01M117.9 1163.1h0.01M300.5 1056.2h0.01M450.9 972.0h0.01M639.8 865.3h0.01M199.9 1111.8h0.01M276.1 1070.7h0.01M282.9 1065.7h0.01M108.4 1167.9h0.01M246.0 1089.9h0.01M649.7 858.0h0.01M253.2 1082.6h0.01M360.7 1025.8h0.01M259.5 1080.4h0.01M294.6 1063.8h0.01M167.1 1131.9h0.01M601.0 887.6h0.01M170.3 1131.5h0.01M159.8 1136.3h0.01M144.7 1145.4h0.01M214.5 1107.3h0.01M316.3 1053.9h0.01M472.7 961.5h0.01M325.9 1044.9h0.01M532.8 925.8h0.01M362.7 1022.2h0.01M280.4 1068.2h0.01M187.1 1120.0h0.01M417.9 990.9h0.01M377.5 1011.8h0.01M291.2 1065.0h0.01M201.5 1114.0h0.01M596.9 888.3h0.01M191.2 1118.5h0.01M400.4 1002.8h0.01M269.5 1075.1h0.01M252.2 1082.8h0.01M272.2 1073.7h0.01M269.5 1075.8h0.01M471.6 959.6h0.01M366.6 1017.9h0.01M234.5 1097.6h0.01M207.1 1108.9h0.01M468.6 963.6h0.01M281.8 1068.0h0.01M523.6 930.7h0.01M286.0 1068.9h0.01M160.4 1139.0h0.01M319.1 1050.3h0.01M180.1 1126.9h0.01M240.6 1095.9h0.01M202.1 1112.6h0.01M141.9 1147.0h0.01M312.2 1051.8h0.01M126.3 1157.8h0.01M336.2 1040.4h0.01M145.8 1143.0h0.01M282.4 1071.9h0.01M391.0 1007.4h0.01M475.9 958.9h0.01M291.1 1062.2h0.01M383.4 1013.1h0.01M572.4 905.5h0.01M372.9 1018.7h0.01M143.2 1147.9h0.01M344.6 1036.2h0.01M223.4 1102.6h0.01M320.7 1046.2h0.01M538.2 925.5h0.01M456.1 970.1h0.01M602.7 887.9h0.01M600.2 891.9h0.01M396.5 1004.2h0.01M304.0 1054.2h0.01M179.5 1123.5h0.01M407.0 996.8h0.01M323.0 1043.2h0.01M346.4 1031.8h0.01M185.3 1122.4h0.01M168.5 1135.3h0.01M234.9 1095.9h0.01M204.4 1114.0h0.01M224.8 1101.1h0.01M241.9 1090.1h0.01M325.2 1041.2h0.01M150.6 1141.8h0.01M279.7 1071.1h0.01M326.8 1042.1h0.01M392.7 1007.4h0.01M355.1 1027.9h0.01M141.7 1147.8h0.01M155.1 1139.8h0.01M271.7 1076.9h0.01M405.3 998.2h0.01M111.7 1164.2h0.01M291.8 1062.2h0.01M325.3 1041.5h0.01M602.0 887.2h0.01M286.2 1064.2h0.01M348.3 1034.3h0.01M343.5 1033.9h0.01M304.7 1052.3h0.01M300.3 1060.7h0.01M387.0 1008.4h0.01M170.8 1130.8h0.01M170.3 1131.3h0.01M637.7 865.3h0.01M213.7 1106.9h0.01M350.0 1030.7h0.01M197.7 1114.3h0.01M445.2 975.3h0.01M481.6 954.9h0.01M264.4 1079.4h0.01M442.1 978.0h0.01M385.7 1005.6h0.01M312.3 1052.1h0.01M340.5 1036.5h0.01M387.2 1008.2h0.01M168.7 1131.6h0.01M588.1 895.1h0.01M113.3 1162.7h0.01M280.5 1067.2h0.01M251.0 1089.5h0.01M219.0 1103.7h0.01M303.7 1056.0h0.01M376.9 1014.9h0.01M338.7 1036.7h0.01M135.4 1155.0h0.01M292.0 1065.0h0.01M642.4 868.1h0.01M246.8 1087.4h0.01M309.4 1054.2h0.01M405.5 999.2h0.01M629.8 873.9h0.01M184.5 1121.2h0.01M126.0 1155.9h0.01M651.8 859.8h0.01M358.6 1024.3h0.01M200.8 1114.6h0.01M509.5 941.9h0.01M429.4 986.0h0.01M573.1 904.8h0.01M403.3 998.3h0.01M196.0 1118.2h0.01M524.6 929.4h0.01M241.4 1093.3h0.01M394.0 1008.4h0.01M260.8 1082.4h0.01M123.6 1152.9h0.01M199.6 1116.7h0.01M292.1 1063.5h0.01M392.0 1006.6h0.01M306.3 1053.9h0.01M447.7 974.2h0.01M224.7 1099.0h0.01M128.2 1156.9h0.01M253.9 1084.0h0.01M358.7 1024.2h0.01M496.5 944.6h0.01M211.9 1105.5h0.01M316.0 1047.4h0.01M277.5 1071.2h0.01M186.3 1119.7h0.01M405.5 1000.1h0.01M212.7 1106.4h0.01M239.1 1091.9h0.01M362.2 1023.1h0.01M182.2 1122.7h0.01M594.7 893.0h0.01M244.0 1088.1h0.01M351.7 1029.1h0.01M472.1 961.9h0.01M204.0 1112.5h0.01M619.6 879.3h0.01M440.7 979.1h0.01M277.6 1070.8h0.01M385.2 1014.1h0.01M219.1 1104.2h0.01M277.7 1071.5h0.01M542.8 920.7h0.01M446.8 976.5h0.01M214.2 1105.0h0.01M214.9 1108.9h0.01M291.2 1066.8h0.01M285.3 1064.9h0.01M226.2 1102.5h0.01M497.4 947.7h0.01M323.4 1044.9h0.01M345.2 1030.7h0.01M161.2 1132.1h0.01M192.6 1119.7h0.01M403.5 1003.3h0.01M136.5 1152.3h0.01M255.1 1087.1h0.01M266.6 1076.4h0.01M218.4 1103.1h0.01M540.7 921.7h0.01M635.7 871.1h0.01M606.4 884.6h0.01M354.4 1025.9h0.01M210.9 1110.0h0.01M579.2 900.2h0.01M525.5 929.4h0.01M224.9 1103.5h0.01M348.6 1027.1h0.01M352.5 1028.6h0.01M391.0 1006.4h0.01M269.0 1074.9h0.01M299.4 1058.3h0.01M342.6 1035.1h0.01M300.3 1056.7h0.01M152.7 1142.5h0.01M297.1 1058.8h0.01M406.9 997.1h0.01M213.4 1105.5h0.01M287.7 1065.4h0.01M333.2 1037.9h0.01M236.4 1093.9h0.01M367.9 1018.5h0.01M127.4 1155.8h0.01M389.6 1007.9h0.01M227.6 1101.8h0.01M513.3 939.1h0.01M169.0 1132.1h0.01M514.9 938.5h0.01M178.1 1126.9h0.01M203.3 1113.1h0.01M440.8 978.2h0.01M186.2 1126.4h0.01M437.5 980.0h0.01M210.5 1109.2h0.01M316.1 1047.8h0.01M285.6 1065.7h0.01M129.5 1152.5h0.01M351.9 1028.9h0.01M486.6 953.9h0.01M203.4 1110.9h0.01M424.3 986.8h0.01M501.5 944.3h0.01M294.3 1062.5h0.01M270.9 1075.0h0.01M189.6 1119.2h0.01M283.0 1066.8h0.01M649.6 861.2h0.01M152.9 1141.8h0.01M352.9 1026.4h0.01M461.3 966.3h0.01M459.0 969.2h0.01M210.9 1109.3h0.01M406.6 997.7h0.01M276.2 1070.2h0.01M354.5 1023.8h0.01M282.6 1068.3h0.01M210.6 1109.2h0.01M643.2 863.4h0.01M577.0 899.8h0.01M485.3 954.1h0.01M218.0 1107.7h0.01M325.0 1041.1h0.01M234.5 1094.4h0.01M329.6 1041.0h0.01M271.2 1072.6h0.01M290.7 1061.8h0.01M634.5 869.8h0.01M220.0 1102.2h0.01M250.2 1085.5h0.01M414.2 993.2h0.01M387.3 1007.5h0.01M437.8 982.3h0.01M601.0 887.4h0.01M301.1 1056.2h0.01M575.8 901.6h0.01M135.2 1150.0h0.01M167.5 1134.6h0.01M299.3 1058.6h0.01M199.3 1115.1h0.01M374.9 1015.2h0.01M294.1 1059.5h0.01M264.5 1079.2h0.01M636.9 866.1h0.01M170.7 1133.4h0.01M268.5 1073.9h0.01M593.5 893.4h0.01M334.2 1037.8h0.01M325.1 1042.1h0.01M214.7 1102.5h0.01M531.1 927.9h0.01M137.1 1151.4h0.01M325.3 1044.0h0.01M413.2 995.6h0.01M190.9 1122.8h0.01M365.3 1021.1h0.01M508.1 939.1h0.01M268.1 1077.6h0.01M533.2 926.1h0.01M147.1 1146.0h0.01M198.7 1116.0h0.01M307.7 1053.4h0.01M573.1 903.4h0.01M422.8 987.9h0.01M242.5 1091.2h0.01M200.1 1117.7h0.01M353.4 1030.3h0.01M264.3 1080.3h0.01M162.4 1137.5h0.01M304.0 1056.1h0.01M465.0 968.0h0.01M604.0 886.6h0.01M222.7 1105.0h0.01M614.4 881.5h0.01M109.6 1164.4h0.01M317.2 1046.1h0.01M329.1 1042.7h0.01M368.3 1018.8h0.01M319.0 1047.5h0.01M327.5 1044.8h0.01M279.4 1071.7h0.01M343.6 1033.0h0.01M342.9 1033.9h0.01M457.9 972.3h0.01M337.9 1036.4h0.01M206.4 1112.5h0.01M321.3 1047.9h0.01M205.3 1114.7h0.01M618.5 877.6h0.01M371.2 1020.2h0.01M309.0 1053.8h0.01M367.9 1021.6h0.01M157.5 1136.3h0.01M158.2 1137.2h0.01M145.5 1144.2h0.01M200.8 1114.3h0.01M322.1 1045.9h0.01M307.0 1054.3h0.01M129.9 1155.5h0.01M399.0 1001.7h0.01M142.9 1147.7h0.01M463.8 964.2h0.01M244.5 1090.1h0.01M217.4 1104.5h0.01M286.1 1066.6h0.01M200.7 1112.0h0.01M333.8 1039.4h0.01M605.9 883.8h0.01M407.6 999.0h0.01M305.3 1053.8h0.01M176.1 1130.7h0.01M360.5 1021.5h0.01M157.5 1141.3h0.01M393.0 1007.2h0.01M520.7 934.8h0.01M208.1 1108.9h0.01M161.0 1136.5h0.01M257.4 1080.2h0.01M239.7 1093.6h0.01M393.5 1004.5h0.01M232.4 1098.4h0.01M295.2 1062.4h0.01M271.8 1076.2h0.01M437.3 980.2h0.01M176.3 1128.7h0.01M337.0 1037.0h0.01M155.2 1139.7h0.01M196.1 1117.7h0.01M341.0 1036.2h0.01M570.1 906.1h0.01M503.2 943.5h0.01M167.4 1132.6h0.01M637.7 865.9h0.01M398.6 1002.3h0.01M448.7 974.1h0.01M183.3 1125.9h0.01M589.8 893.5h0.01M188.1 1120.1h0.01M346.0 1030.8h0.01M264.8 1079.6h0.01M196.2 1114.9h0.01M505.2 945.2h0.01M352.3 1027.8h0.01M528.6 928.7h0.01M216.0 1105.6h0.01M411.0 995.7h0.01M545.6 922.5h0.01M197.8 1114.9h0.01M578.6 900.3h0.01M421.5 992.6h0.01M190.7 1122.9h0.01M224.4 1103.8h0.01M442.4 977.4h0.01M128.9 1159.0h0.01M469.1 962.2h0.01M506.5 944.6h0.01M355.4 1026.1h0.01M300.7 1064.0h0.01M298.3 1057.4h0.01M212.6 1107.4h0.01M404.7 1001.1h0.01M579.4 902.1h0.01M363.3 1024.5h0.01M217.1 1107.7h0.01M338.7 1038.5h0.01M443.8 976.8h0.01M210.1 1108.4h0.01M156.1 1139.7h0.01M547.8 918.5h0.01M409.6 998.2h0.01M543.1 922.1h0.01M523.3 933.7h0.01M295.4 1062.3h0.01M259.3 1081.3h0.01M295.9 1060.4h0.01M248.3 1086.1h0.01M160.3 1138.6h0.01M213.0 1108.9h0.01M618.9 877.3h0.01M165.3 1138.7h0.01M179.6 1128.3h0.01M649.2 861.3h0.01M264.7 1081.6h0.01M604.2 885.0h0.01M194.1 1114.6h0.01M403.7 999.1h0.01M600.7 890.5h0.01M118.0 1160.7h0.01M411.9 991.8h0.01M162.5 1135.4h0.01M240.3 1091.0h0.01M242.1 1093.5h0.01M326.3 1043.3h0.01M222.5 1104.5h0.01M564.2 908.4h0.01M535.7 924.9h0.01M146.9 1145.8h0.01M168.9 1131.7h0.01M253.8 1079.7h0.01M371.1 1015.8h0.01M108.7 1168.3h0.01M351.8 1027.7h0.01M337.2 1038.6h0.01M345.6 1029.3h0.01M259.4 1081.7h0.01M413.9 993.4h0.01M574.4 899.3h0.01M340.5 1036.8h0.01M173.2 1128.5h0.01M237.5 1092.6h0.01M420.6 993.6h0.01M359.2 1027.3h0.01M245.5 1088.1h0.01M335.3 1040.6h0.01M531.2 926.2h0.01M159.5 1137.0h0.01M395.8 1002.0h0.01M320.6 1045.4h0.01M176.9 1130.5h0.01M491.6 951.2h0.01M430.6 987.3h0.01M230.0 1099.4h0.01M388.2 1009.3h0.01M379.4 1012.9h0.01M358.5 1025.7h0.01M446.7 975.0h0.01M489.8 950.8h0.01M241.6 1091.1h0.01M301.0 1058.0h0.01M268.9 1074.7h0.01M178.6 1129.1h0.01M221.2 1105.9h0.01M409.7 996.7h0.01M620.2 879.5h0.01M180.8 1124.1h0.01M148.5 1147.6h0.01M400.4 1003.4h0.01M136.0 1153.0h0.01M469.5 964.1h0.01M293.9 1062.3h0.01M199.4 1112.8h0.01M553.7 913.7h0.01M267.2 1076.5h0.01M409.9 998.3h0.01M585.7 895.9h0.01M277.7 1069.5h0.01M333.4 1040.2h0.01M399.0 999.0h0.01M156.4 1140.2h0.01M203.6 1113.9h0.01M245.5 1091.7h0.01M645.5 863.4h0.01M409.9 997.6h0.01M215.3 1105.2h0.01M478.2 956.8h0.01M193.0 1115.0h0.01M183.8 1126.7h0.01M358.0 1024.6h0.01M176.3 1127.3h0.01M128.1 1154.5h0.01M349.3 1030.3h0.01M219.0 1104.3h0.01M411.6 996.0h0.01M430.1 986.2h0.01M627.4 878.0h0.01M364.6 1019.9h0.01M543.4 922.9h0.01M218.3 1101.2h0.01M358.5 1026.6h0.01M286.9 1067.0h0.01M178.5 1128.4h0.01M193.3 1117.8h0.01M504.3 942.9h0.01M454.6 972.8h0.01M370.0 1013.9h0.01M420.2 989.7h0.01M312.9 1051.2h0.01M516.7 934.6h0.01M146.6 1145.2h0.01M127.0 1155.4h0.01M412.8 996.6h0.01M384.9 1011.0h0.01M373.7 1017.7h0.01M136.1 1151.9h0.01M215.6 1105.7h0.01M423.4 987.9h0.01M352.9 1024.9h0.01M271.9 1075.2h0.01M208.8 1110.2h0.01M176.3 1126.9h0.01M276.6 1071.5h0.01M258.3 1080.5h0.01M619.5 877.9h0.01M476.3 959.0h0.01M284.3 1066.6h0.01M582.5 897.3h0.01M275.1 1072.4h0.01M402.5 998.0h0.01M631.6 869.3h0.01M346.6 1033.7h0.01M321.0 1046.5h0.01M357.5 1027.3h0.01M238.9 1095.6h0.01M364.6 1023.2h0.01M320.2 1049.1h0.01M387.8 1010.6h0.01M396.9 1004.4h0.01M496.9 947.3h0.01M494.6 950.6h0.01M439.1 981.5h0.01M308.4 1051.8h0.01M247.4 1089.5h0.01M490.4 955.6h0.01M218.1 1105.0h0.01M273.2 1070.4h0.01M583.7 897.8h0.01M174.3 1126.0h0.01M175.3 1129.2h0.01M144.0 1144.7h0.01M585.6 898.9h0.01M650.7 859.0h0.01M289.8 1066.4h0.01M356.2 1028.6h0.01M171.5 1128.8h0.01M166.4 1134.3h0.01M379.8 1015.2h0.01M164.1 1133.4h0.01M337.5 1034.0h0.01M209.5 1110.2h0.01M374.6 1016.4h0.01M262.7 1078.9h0.01M372.1 1018.8h0.01M525.0 929.3h0.01M374.7 1018.1h0.01M176.8 1126.8h0.01M119.3 1160.4h0.01M494.0 951.1h0.01M226.5 1100.2h0.01M306.1 1054.7h0.01M472.0 958.5h0.01M635.5 871.0h0.01M447.8 973.3h0.01M245.9 1090.1h0.01M400.5 1002.1h0.01M334.0 1041.0h0.01M156.4 1137.1h0.01M212.3 1107.5h0.01M438.2 980.0h0.01M280.0 1068.6h0.01M222.9 1098.8h0.01M538.2 925.9h0.01M233.1 1096.9h0.01M421.0 988.2h0.01M86.5 1178.5h0.01M653.4 867.5h0.01" stroke="#f5852a" stroke-width="2.20" stroke-linecap="round" fill="none"/>
<line x1="57.60" y1="1194.70" x2="681.80" y2="842.00" stroke="#000" stroke-opacity="0.65" stroke-width="1.39" stroke-dasharray="5.3 2.3"/>
<rect x="57.60" y="842.00" width="624.20" height="352.70" fill="none" stroke="#000" stroke-width="1.35"/>
<path d="M108.10 1194.70v5.2M57.60 1166.70h-5.0M195.10 1194.70v5.2M57.60 1117.60h-5.0M282.10 1194.70v5.2M57.60 1068.50h-5.0M369.10 1194.70v5.2M57.60 1019.40h-5.0M456.10 1194.70v5.2M57.60 970.30h-5.0M543.10 1194.70v5.2M57.60 921.20h-5.0M630.10 1194.70v5.2M57.60 872.10h-5.0" stroke="#000" stroke-width="1.5" fill="none"/>
<text x="97.62" y="1213.50" font-size="15.30" textLength="20.94" lengthAdjust="spacingAndGlyphs" fill="#000" stroke="#000" stroke-width="0.1">−1</text>
<text x="28.25" y="1172.15" font-size="15.30" textLength="20.94" lengthAdjust="spacingAndGlyphs" fill="#000" stroke="#000" stroke-width="0.1">−1</text>
<text x="190.70" y="1213.50" font-size="15.30" textLength="8.79" lengthAdjust="spacingAndGlyphs" fill="#000" stroke="#000" stroke-width="0.1">0</text>
<text x="40.12" y="1123.05" font-size="15.30" textLength="8.79" lengthAdjust="spacingAndGlyphs" fill="#000" stroke="#000" stroke-width="0.1">0</text>
<text x="277.69" y="1213.50" font-size="15.30" textLength="8.40" lengthAdjust="spacingAndGlyphs" fill="#000" stroke="#000" stroke-width="0.1">1</text>
<text x="40.64" y="1073.95" font-size="15.30" textLength="8.40" lengthAdjust="spacingAndGlyphs" fill="#000" stroke="#000" stroke-width="0.1">1</text>
<text x="364.86" y="1213.50" font-size="15.30" textLength="8.48" lengthAdjust="spacingAndGlyphs" fill="#000" stroke="#000" stroke-width="0.1">2</text>
<text x="40.59" y="1024.85" font-size="15.30" textLength="8.48" lengthAdjust="spacingAndGlyphs" fill="#000" stroke="#000" stroke-width="0.1">2</text>
<text x="451.92" y="1213.50" font-size="15.30" textLength="8.45" lengthAdjust="spacingAndGlyphs" fill="#000" stroke="#000" stroke-width="0.1">3</text>
<text x="40.52" y="975.75" font-size="15.30" textLength="8.45" lengthAdjust="spacingAndGlyphs" fill="#000" stroke="#000" stroke-width="0.1">3</text>
<text x="538.75" y="1213.50" font-size="15.30" textLength="8.80" lengthAdjust="spacingAndGlyphs" fill="#000" stroke="#000" stroke-width="0.1">4</text>
<text x="39.97" y="926.65" font-size="15.30" textLength="8.80" lengthAdjust="spacingAndGlyphs" fill="#000" stroke="#000" stroke-width="0.1">4</text>
<text x="625.96" y="1213.50" font-size="15.30" textLength="8.30" lengthAdjust="spacingAndGlyphs" fill="#000" stroke="#000" stroke-width="0.1">5</text>
<text x="40.63" y="877.55" font-size="15.30" textLength="8.30" lengthAdjust="spacingAndGlyphs" fill="#000" stroke="#000" stroke-width="0.1">5</text>
<text x="274.47" y="1235.80" font-size="21.00" textLength="190.80" lengthAdjust="spacingAndGlyphs" fill="#000" stroke="#000" stroke-width="0.25">QM Virial (eV/atom)</text>
<text transform="translate(18.00,1126.80) rotate(-90)" x="0" y="0" font-size="21.00" textLength="217.06" lengthAdjust="spacingAndGlyphs" fill="#000" stroke="#000" stroke-width="0.25">Model Virial (eV/atom)</text>
<rect x="64.50" y="853.50" width="182.80" height="31.50" rx="5.8" fill="#fff" fill-opacity="0.5" stroke="#000" stroke-opacity="0.45" stroke-width="1.25"/>
<text x="70.06" y="874.50" font-size="21.00" textLength="170.41" lengthAdjust="spacingAndGlyphs" fill="#3571b3" stroke="#3571b3" stroke-width="0.25">RMSE = 0.023 eV</text>
<rect x="64.50" y="889.20" width="182.80" height="31.20" rx="5.8" fill="#fff" fill-opacity="0.5" stroke="#000" stroke-opacity="0.45" stroke-width="1.25"/>
<text x="70.06" y="910.20" font-size="21.00" textLength="170.41" lengthAdjust="spacingAndGlyphs" fill="#f27222" stroke="#f27222" stroke-width="0.25">RMSE = 0.016 eV</text>
<rect x="562.4" y="1121.00" width="110" height="64" rx="3.9" fill="#fff" fill-opacity="0.8" stroke="#ccc" stroke-width="1.11"/>
<circle cx="589.9" cy="1137.00" r="4.6" fill="#3f7fba" stroke="#3070b0" stroke-width="1.1"/>
<circle cx="589.9" cy="1166.20" r="4.6" fill="#eda05a" stroke="#ef8a3a" stroke-width="1.1"/>
<text x="624.24" y="1143.90" font-size="21.00" textLength="40.30" lengthAdjust="spacingAndGlyphs" fill="#000" stroke="#000" stroke-width="0.25">GAP</text>
<text x="625.16" y="1172.70" font-size="21.00" textLength="38.60" lengthAdjust="spacingAndGlyphs" fill="#000" stroke="#000" stroke-width="0.25">ACE</text>
</svg>
</body></html>
